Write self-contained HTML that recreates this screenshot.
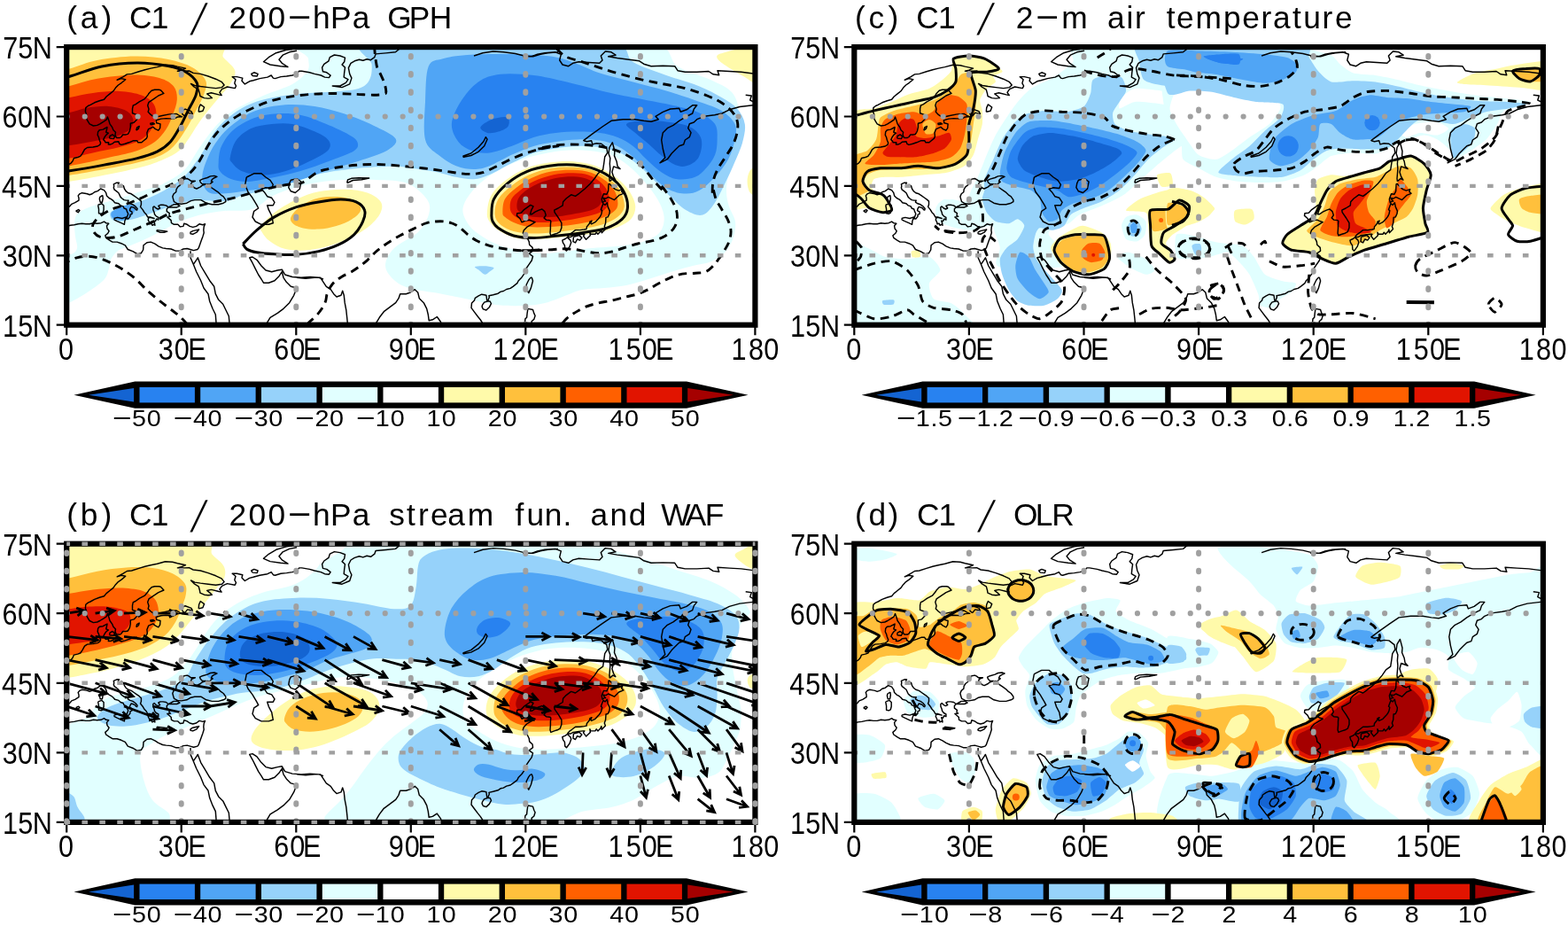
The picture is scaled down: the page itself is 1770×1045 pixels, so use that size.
<!DOCTYPE html>
<html lang="en">
<head>
<meta charset="utf-8">
<title>C1 composite anomalies</title>
<style>
html,body{margin:0;padding:0;background:#fff;overflow:hidden}
svg{display:block}
text{font-family:"Liberation Sans",sans-serif;fill:#000}
.gh{stroke:#a0a0a0;stroke-width:6.2;fill:none;stroke-linecap:round;stroke-dasharray:0.01 19.93;stroke-dashoffset:-0.6}
.gq{stroke:#a0a0a0;stroke-width:4.4;fill:none;stroke-dasharray:6.6 13.33;stroke-dashoffset:-17.2}
.gv{stroke:#a0a0a0;stroke-width:6;fill:none;stroke-linecap:round;stroke-dasharray:1.6 18.59;stroke-dashoffset:-9.8}
.cst{stroke:#000;stroke-width:1.45;fill:none;stroke-linejoin:round}
.sol{stroke:#000;stroke-width:3;fill:none;stroke-linejoin:round}
.dsh{stroke:#000;stroke-width:2.9;fill:none;stroke-dasharray:9.5 6.5}
</style>
</head>
<body>

<svg width="1770" height="1045" viewBox="0 0 1770 1045" role="img" aria-label="C1 composite anomaly maps">
<rect width="1770" height="1045" fill="#fff"/>
<defs>
<clipPath id="cla"><rect x="75.2" y="53.1" width="777.2" height="313.6"/></clipPath>
<clipPath id="clb"><rect x="75.2" y="613.7" width="777.2" height="314.2"/></clipPath>
<clipPath id="clc"><rect x="964.3" y="53.1" width="777.6" height="313.6"/></clipPath>
<clipPath id="cld"><rect x="964.3" y="613.7" width="777.6" height="314.2"/></clipPath>
<path id="coast" d="M68.3 185.9L70.5 186.9L75.6 186.4L79.9 184.3L82.1 181.7L83.4 178.5L87.7 177.5L90.7 176.4L92.9 173.3L95.5 168.6L98.5 166.5L105 166L110.2 165L112.8 163.4L113.6 161.3L112.3 158.2L111.5 155L110.2 152.4L110.6 148.7L112.3 146.7L116.2 146.1L121 143.5L120.5 146.1L119.7 149.3L122.3 150.3L119.7 152.4L117.9 155L116.7 157.6L117.9 158.7L119.2 160.8L122.7 160.8L122.3 162.9L124.9 162.9L127.4 161.8L129.2 160.2L133.9 159.7L134.8 162.3L136.9 163.4L141.3 162.3L145.6 160.8L150.8 158.7L154.6 158.7L155.9 160.8L159.8 160.8L161.6 159.2L165.4 156.1L166.3 154L165.9 149.8L167.6 145.6L172.8 143.3L175.4 145.6L178.8 147.2L180.6 144.6L181 139.9L176.7 138.8L176.2 135.7L181.8 134.1L187.5 133.6L196.1 134.1L200.4 132L205.6 131.8L202.6 130.5L199.1 128.4L191.3 128.9L183.1 130.5L174.5 132.5L170.2 129.4L167.2 126.3L168 123.1L166.7 119L168 115.3L173.6 111.6L178.8 108L184.9 105.4L181.4 101.7L179.3 101.2L174.5 101.2L171.1 102.2L168 105.4L167.2 106.9L163.3 111.6L157.2 114.8L152.9 117.9L150.3 119L149.5 122.6L149.5 127.8L154.2 129.4L156.8 132L154.2 135.2L151.2 138.3L147.3 139.3L147.3 143.5L146.4 147.7L145.6 149.3L144.3 151.4L142.1 151.9L138.7 151.9L136.9 154.5L135.2 155.5L131.8 155.5L130.9 154.5L130 151.9L130.5 149.3L127.9 146.7L126.6 143.5L124 139.9L123.1 136.7L121.4 132L120.1 135.2L117.1 137.2L112.8 139.9L109.7 141.4L105.4 142L101.1 139.9L99.4 137.2L97.7 134.1L97.7 129.4L96.4 125.8L96.8 121.6L99.4 119.5L102 118.4L106.7 115.8L112.3 113.7L117.5 112.2L120.1 109L124 105.9L127.9 102.8L130.5 99.1L133.5 96L137.4 93.3L141.7 89.7L136.9 88.6L132.2 90.2L139.1 86.6L143.4 83.9L148.6 83.4L156.8 80.8L163.7 78.7L170.2 77.1L177.5 75.6L186.6 73.2L194.8 73.7L200.4 75.1L209.5 77.1L204.7 79.2L200.4 80.3L208.2 80.3L213.4 80L218.1 82.4L226.3 83.4L235 86L243.6 89.2L250.1 92.3L253.1 96L250.5 98.6L243.6 99.6L235 98.6L226.3 97.5L219.8 96.5L215.5 94.4L219 98L224.2 101.2L225.5 105.9L225.9 108.5L230.6 110.6L235 111.1L239.3 110.6L237.1 108.5L233.7 105.9L238.4 104.8L247 106.9L250.1 107.5L247.9 104.3L250.5 100.7L256.5 98L265.2 99.6L266.5 97L264.8 93.9L266 89.7L262.2 86.6L267.3 86.6L273.8 88.1L273 91.3L276.4 94.9L281.6 91.8L285.9 90.7L293.2 88.6L301.9 87.1L306.2 85L308.4 88.1L310.5 88.6L317 86.6L323.5 86L329.9 85L334.3 83.9L337.7 80.3L340.7 80.3L349.4 81.8L355 83.4L362.3 85L366.6 87.1L371.4 87.6L373.1 85L368.8 81.8L364.5 80.8L363.6 76.1L365.8 72.4L371 68.8L372.3 64.6L377.4 62L383.9 63L389.5 65.1L388.7 69.8L386.1 73L389.5 76.1L388.7 81.8L388.2 87.1L393 89.7L390.4 93.3L383.9 97L375.3 97L386.1 98.6L394.7 94.9L396.9 88.1L394.7 83.4L393.4 76.6L396 71.4L400.3 68.8L405.5 67.2L409.8 68.3L414.1 66.7L418.5 67.7L422.8 64.6L424.1 60.9L435.7 59.9L446.5 58.8L450.8 55.2L459.5 51.5M208.6 131L211.6 127.3L217.3 128.4L216 125.8L209.1 123.1L204.7 125.2L206 128.9L208.6 131M224.2 126.3L228.9 125.2L230.6 121L226.3 117.9L224.6 121.6L224.2 126.3M153.8 147.2L156.4 145.1L157.2 142.5L154.6 144L153.8 147.2M170.2 140.9L174.5 139.9L172.8 138.8L169.8 139.3L170.2 140.9M123.6 156.1L128.3 156.6L129.6 154L127 151.9L124 153.5L123.6 156.1M285 85.5L290.2 86L291.1 83.4L286.8 81.8L283.7 83.4L285 85.5M330 55.5L323.3 56.3L311.7 59.7L303.3 64.7L297.5 69.7L305 73L316.7 74.7L325 75.5L318.3 71.3L315 67.2L319.2 62.2L326.7 58.8L335 57.2M535 63L545 59.7L556.7 58L568.3 58.8L581.7 60.5L591.7 63L601.7 63.8L610 61.3L618.3 59.7L630 58.8M590 63.8L600 63.8L606.7 61.3L615 59.7L626.7 58.8L633.3 61.3L631.7 68L635 73L641.7 74.7L646.7 71.3L653.3 69.7L665 70.5L676.7 71.3L680 68L678.3 63L683.3 58L690 58.8L695 62.2L686.7 63.8L696.7 65.5L710 67.2L721.7 68.8L726.7 72.2L735 74.7L748.3 74.3L761.7 74.7L765 79.7L773.3 81.3L786.7 81.3L800 80.5L805 83.8L811.7 84.7L810 79.7L823.3 80.5L836.7 81.3L850 83M522.5 176.3L531.7 173L540 166.3L545.8 159.7L548.3 154.7L550 157.2L546.7 164.7L540 171.3L531.7 175.5L523.3 177.2L522.5 176.3M391.7 206.3L392.5 203L396.7 201.3L405 200.7L416.7 201L408.3 202.7L398.3 203.5L394.2 205.5L391.7 206.3M658.3 158.8L668.3 151.3L680 143L690 136.3L703.3 134.7L716.7 134.7L726.7 136.3L735 137.2L743.3 134.7L740 131.3L748.3 126.3L756.7 123L766.7 122.2L768.3 126.3L775 123.8L781.7 118.8L786.7 118.8L783.3 123L781.7 128L775 131.3L766.7 136.3L760 141.3L753.3 144.7L748.3 149.7L746.7 158L748.3 168L750.8 178L745 183.8L753.3 179.7L758.3 173L763.3 168L766.7 164.7L771.7 163L773.3 158L778.3 154.7L780 149.7L776.7 144.7L778.3 139.7L783.3 138L786.7 134.7L795 131.3L806.7 129.7L815 128L823.3 123.8L835 120.5L850 118.8M841.7 107.2L848.3 108L846.7 113L850 114.7M70.9 245.4L76.1 242.3L73.9 238.6L76.5 234.5L79.1 232.4L80.8 230.3L84.7 228.7L89 226.1L89 223.5L88.2 220.9L89.9 218.8L92.5 217.7L95.9 218.3L98.5 218.8L101.1 219.8L104.1 218.8L106.7 216.7L110.2 215.6L113.6 213L117.5 214.6L119.7 217.7L120.5 220.9L123.1 223.5L126.1 225.1L127.9 226.6L129.6 228.7L133.9 229.8L136.1 231.9L139.1 232.9L140 235L142.6 236L143.4 238.6L144.7 241.3L143.4 244.9L143 246.7L144.7 247L146.9 244.4L146.9 242.3L149 241.3L149 239.2L146.4 237.6L146.9 235.5L148.2 233.4L149.9 233.9L152.5 235L153.4 236.6L154.6 237.1L155.1 235.5L152.9 232.9L149.9 230.8L146.9 229.8L144.3 228.2L145.1 226.1L142.6 226.1L140 225.6L137.8 224L136.1 222.4L133.9 217.7L131.3 215.6L129.2 214.1L128.3 212L128.7 209.9L128.3 207.8L131.8 206.2L134.4 206.2L133.5 207.8L133.9 210.4L135.6 210.9L136.9 208.3L139.5 209.9L140.4 213L142.1 215.6L144.7 217.7L148.2 218.8L151.2 220.9L154.2 223L157.2 225.1L159.4 227.1L159.4 230.8L158.5 233.4L161.1 236.6L162.9 239.7L165 241.8L166.7 244.9L169.3 244.9L174.1 246.5L169.3 245.4L167.6 246L167.2 248.1L168.5 250.7L168.9 252.8L171.1 252.2L171.9 254.3L173.6 253.3L174.9 254.3L174.5 251.7L173.6 249.1L175.4 249.6L176.7 247L178.8 248.1L178.8 245.4L176.2 243.9L174.5 241.8L174.1 239.7L172.8 236.6L172.8 233.9L174.1 232.9L176.2 235L178.4 236L180.6 235L178.8 232.4L181 231.3L184 231.3L187.5 231.9L190.1 233.9L188.3 235.8L188.3 238.6L191.3 240.7L190.9 243.4L192.6 244.4L188.8 244.9L193.1 248.6L193.5 251.7L196.5 253.3L200.8 253.3L203.4 255.9L206.9 255.4L207.8 252.2L211.2 253.3L214.2 255.4L217.7 256.4L221.6 255.4L225 252.8L228.9 253.8L231.5 252.8L230.2 255.9L229.8 259.6L230.2 262.7L228.9 266.9L227.2 271.6L225.9 275.2L224.2 279.9L222.9 281.5L218.6 282.6L214.7 281.5L211.2 280.5L206.9 281L203 283.1L198.3 283.1L193.1 281L187.5 280.5L183.6 279.9L178.8 277.8L174.9 275.2L170.2 273.1L165.9 273.7L162 276.8L161.6 282L159.4 285.7L155.1 286.7L149.9 283.6L144.3 281.5L141.3 276.8L136.9 274.7L132.2 273.1L127 273.1L123.6 271.1L119.7 268.4L118.8 265.8L121.8 263.2L123.1 260.6L121 258L120.5 254.8L122.7 252.2L119.7 251.7L117.5 250.1L114.1 251.7L109.7 252.2L105.4 251.7L101.1 252.8L96.8 252.8L92.5 252.2L88.2 252.8L83.8 253.8L79.5 254.3L75.2 255.4L70.9 256.9M190.1 233.9L193.9 233.9L199.6 233.9L203 232.4L200.4 230.8L196.1 230.8L193.1 232.4L190.5 233.7M128.7 246.5L132.6 245.4L137.8 246.5L142.6 244.9L140.8 249.6L140.4 253.3L136.9 251.7L132.2 249.6L129.2 248.1L128.7 246.5M110.6 231.3L114.9 229.8L117.1 231.9L117.1 236.6L116.2 240.2L114.1 241.3L111.5 240.7L111.5 236L110.6 231.3M115.8 220.4L116.2 224L115.4 228.2L113.2 228.2L112.3 224.5L112.8 222.4L115.8 220.4M177.1 259.6L181 260.1L185.3 260.6L188.8 261.1L185.3 262.2L181 262.2L177.1 260.9L177.1 259.6M214.7 262.2L217.7 260.6L222 259.6L224.6 259L222 262.2L217.7 264.3L215.1 263.7L214.7 262.2M85.6 238.1L88.6 236.6L89.9 237.6L88.2 239.7L85.6 238.1M200.4 229.8L196.5 227.7L195.7 225.1L194.8 221.9L196.1 218.8L198.7 216.7L199.1 213.6L200.8 210.9L203.4 208.9L205.6 205.2L207.8 202.1L211.2 201.5L213.4 202.6L215.5 204.2L220.3 204.2L216.4 205.7L215.5 207.8L219.4 212L222 213L226.3 210.9L228 209.4L232.8 207.8L228.5 207.8L226.3 205.7L225.5 203.6L228.5 202.1L234.1 200.5L237.5 198.9L241.9 198.4L244.9 199.4L241.4 201L239.3 202.6L238.4 204.7L240.1 205.2L238 206.8L236.7 208.3L234.1 207.8L233.7 209.4L236.3 210.4L238.4 211.5L243.6 215.1L246.6 217.2L249.2 219.8L252.2 221.9L254.8 225.6L254.8 227.7L252.2 229.2L246.6 230.8L239.3 230.8L232.8 229.2L226.8 225.6L219.8 225.6L215.5 226.6L210.8 229.2L204.7 230.3L200.4 229.8M278.3 200L276.7 208.3L280 216.7L285 223.3L290 231.7L291.7 235L286.7 238.3L285 245L288.3 250L295 253.3L303.3 253.3L308.3 251.7L306.7 243.3L303.3 236.7L301.7 231.7L308.3 231.7L310 228.3L306.7 223.3L301.7 221.7L298.3 216.7L295 213.3L300 211.7L306.7 212.5L308.3 208.3L305 203.3L300 200L295 195.8L286.7 195.8L278.3 200M326.7 206.7L328.3 203.3L335 201.7L340 205L338.3 213.3L333.3 217.5L328.3 215.8L325.8 211.7L326.7 206.7M215 283.3L215 290.8L218.3 298.3L221.7 293.3L223.3 290.8L226.7 300L231.7 308.3L236.7 316.7L241.7 323.3L243.3 331.7L246.7 338.3L251.7 343.3L255 350L258.3 356.7L259.2 366.7M218.3 298.3L221.7 306.7L226.7 316.7L230 325L235 331.7L236.7 340L240 348.3L243.3 355L244.2 366.7M300 366.7L305 358.3L313.3 353.3L320 348.3L326.7 341.7L331.7 333.3L335 325L328.3 323.3L323.3 318.3L320 313.3L318.3 306.7L315 311.7L310 316.7L303.3 319.2L297.5 319.2L295 315L291.7 310L288.3 303.3L285 296.7L281.7 290.8L285 290L290 293.3L295 300L300 305L306.7 306.7L313.3 305L318.3 304.2L321.7 310L330 312.5L340 313.3L350 312.5L360 313.3L365 315M335 313.3L345 314.2L355 313.3L361.7 313.3L365 318.3L368.3 323.3L373.3 326.7L376.7 331.7L380 335L385 333.3L386.7 328.3L388.3 333.3L389.2 341.7L390.8 350L391.7 358.3L392.5 366.7M423.3 366.7L428.3 358.3L433.3 351.7L440 346.7L446.7 341.7L450 336.7L451.7 331.7L458.3 331.7L463.3 330L468.3 326.7L471.7 330L473.3 336.7L478.3 341.7L481.7 348.3L483.3 355L484.2 361.7L488.3 360.8L493.3 357.5L497.5 363.3L498.3 366.7M545.4 369.3L545 365.1L542.4 361L539.4 357.3L535.5 352.1L532 347.4L532.5 342.1L535.5 339L536.3 336.4L540.2 333.8L543.7 332.2L546.7 332.7L548.9 333.2L549.7 339L551 339L552.3 335.3L551.9 333.8L556.6 332.7L562.2 331.2L565.3 329.1L568.3 328.5L571.7 326.5L576.1 325.4L579.1 323.3L583.8 319.7L585.1 317L589 312.9L591.6 309.2L593.3 304L596.8 298.8L600.2 294L601.5 289.3L597.2 286.2L601.5 283.1L601.1 279.4L597.7 276.3L597.2 272.6L594.6 267.4L590.3 263.2L591.2 260.1L594.6 256.4L599.8 253.3L604.1 250.7L599.8 249.1L597.7 248.1L593.3 249.1L589 250.7L586.9 246.5L583.4 243.4L583.8 240.7L588.2 240.2L591.6 236.6L596.8 232.9L598.9 231.3L602 232.9L599.8 237.1L598.5 241.8L600.2 241.8L604.1 239.2L608.4 237.1L611.9 236L614.9 238.6L616.2 242.8L614.1 246L616.6 248.1L621 248.6L621.8 249.6L621.4 253.8L621.4 257.5L621 263.2L621.8 265.8L625.7 264.3L629.2 263.2L632.2 261.6L633.9 256.9L633.9 251.7L630.5 246L626.1 239.7L625.7 237.1L630 235L635.2 231.9L635.6 227.7L639.1 224L644.7 219.8L649.5 221.4L653.8 218.3L660.3 213L666.3 207.3L671.1 201.5L675.4 195.3L680.6 191.6L681.8 183.8L682.7 177L685.7 172.3L684.9 167L678.8 162.3L673.2 161.8L668.9 162.9L667.6 158.7L662.4 159.7L659 158.7M688.3 204.7L687.9 201.5L688.3 196.8L688.8 190.6L688.3 184.8L688.8 178.5L687 173.3L687.9 166.5L691.3 160.8L692.6 165.5L693.9 170.7L693.5 175.9L696.1 182.2L697 187.4L700 190.6L692.6 187.9L690.9 194.2L692.6 199.4L694.8 203.1L691.8 201.5L688.3 204.7M682.7 226.6L680.1 228.7L679.3 224.5L681.4 218.8L684.9 219.3L686.6 215.6L687 207.8L687.9 207.3L690.5 209.9L694.4 213.6L698.3 215.1L702.6 213.6L701.7 216.2L703.9 218.3L698.7 220.4L693.5 225.6L686.6 222.4L684 224L681 223.5L681.8 225.1L683.6 227.1L682.7 226.6M640.4 267.4L642.6 264.8L645.6 262.7L649.5 259.6L654.6 259.6L659.4 259L662 258.5L662.4 255.9L665.4 252.2L665.9 250.1L668 249.1L666.7 251.7L667.6 252.8L671.9 250.7L675.4 247L677.5 244.4L678.8 241.8L679.7 237.6L678.4 236.6L679.7 232.9L681 229.8L683.1 231.3L685.3 228.7L685.7 230.8L686.2 233.4L688.3 238.1L687.9 241.3L686.2 244.9L684 245.4L683.6 251.7L682.3 255.4L683.4 258.5L679.3 262.7L678.8 259L678 261.1L674.9 264.3L673.2 262.2L671.9 264.3L666.7 264.3L665.9 262.2L666.3 265.8L661.6 270.3L658.5 266.3L659.8 264.3L658.1 264.3L653.4 264.8L646.9 265.8L644.3 267.4L640.4 267.4M640.4 267.9L643.9 271.1L644.7 273.7L643 278.4L639.5 283.1L637.8 281.5L637.4 276.8L635.6 274.2L634.8 271.1L638.2 269.5L640.4 267.9M647.3 267.4L653.8 265.6L656.8 268.4L654.6 271.1L651.6 270L649.5 273.9L646.9 272.6L647.3 269.5L647.3 267.4M600.2 312.9L601.5 317L599.4 324.9L596.8 330.6L594.2 325.9L594.2 321.2L596.8 316L598.5 313.9L600.2 312.9M544.5 344.2L546.7 341.1L550.2 340L553.2 340L554.5 342.7L552.3 346.8L548.9 350L545.4 348.9L544.1 346.3L544.5 344.2M593.8 369.3L592.5 364.1L592.9 359.9L594.6 358.3L595.1 353.6L595.9 348.4L601.5 349.5L602.8 353.6L604.1 356.2L602.8 360.4L600.2 362.5L599.8 369.3" class="cst"/>
</defs>
<g clip-path="url(#cla)">
<path d="M345 45C377 40.7 476.3 40 540 40C603.7 40 689.5 39.2 727 45C764.5 50.8 752.5 67.5 765 75C777.5 82.5 791.8 85.2 802 90C812.2 94.8 820.7 98.2 826 104C831.3 109.8 833 117.3 834 125C835 132.7 833 141.7 832 150C831 158.3 829.7 167 828 175C826.3 183 823.3 191 822 198C820.7 205 819.8 211.2 820 217C820.2 222.8 821.3 227.5 823 233C824.7 238.5 829.2 244.3 830 250C830.8 255.7 829.7 261.5 828 267C826.3 272.5 824.2 278.3 820 283C815.8 287.7 809.3 292.2 803 295C796.7 297.8 789.7 298 782 300C774.3 302 765.3 304.5 757 307C748.7 309.5 740.3 312.5 732 315C723.7 317.5 715.3 320.3 707 322C698.7 323.7 690.3 324.2 682 325C673.7 325.8 664 325.7 657 327C650 328.3 647 330.5 640 333C633 335.5 623.3 340 615 342C606.7 344 599.2 344.7 590 345C580.8 345.3 570 345.2 560 344C550 342.8 540.8 340.2 530 338C519.2 335.8 505.8 333 495 331C484.2 329 473.2 328.3 465 326C456.8 323.7 451 321.3 446 317C441 312.7 435.2 306.2 435 300C434.8 293.8 438.8 286.3 445 280C451.2 273.7 465.5 268.3 472 262C478.5 255.7 482.3 248.2 484 242C485.7 235.8 486 230.8 482 225C478 219.2 469.5 210.7 460 207C450.5 203.3 437.5 203.7 425 203C412.5 202.3 398 202.2 385 203C372 203.8 359.5 205.2 347 208C334.5 210.8 320.3 215.3 310 220C299.7 224.7 294.5 233 285 236C275.5 239 262.5 237 253 238C243.5 239 236.3 240 228 242C219.7 244 209.8 247.3 203 250C196.2 252.7 192.5 255.2 187 258C181.5 260.8 175 264.5 170 267C165 269.5 161.2 271.2 157 273C152.8 274.8 149 276.3 145 278C141 279.7 136.3 280.5 133 283C129.7 285.5 126.7 289.7 125 293C123.3 296.3 124.2 299.3 123 303C121.8 306.7 121.3 311 118 315C114.7 319 108.2 323.3 103 327C97.8 330.7 92.5 334 87 337C81.5 340 74.5 343.7 70 345C65.5 346.3 61.7 354.5 60 345C58.3 335.5 56.7 297.7 60 288C63.3 278.3 75.5 288.3 80 287C84.5 285.7 86.2 283.3 87 280C87.8 276.7 85.5 271.5 85 267C84.5 262.5 83.8 257 84 253C84.2 249 84.7 245.5 86 243C87.3 240.5 89.2 239.7 92 238C94.8 236.3 98.3 234.7 103 233C107.7 231.3 114.3 229.7 120 228C125.7 226.3 131.5 224.7 137 223C142.5 221.3 146.3 220.2 153 218C159.7 215.8 171.7 211.8 177 210C182.3 208.2 179.8 210 185 207C190.2 204 201.3 198.7 208 192C214.7 185.3 219.2 175.2 225 167C230.8 158.8 236.7 150 243 143C249.3 136 254 130.8 263 125C272 119.2 285.8 113 297 108C308.2 103 321.7 99.7 330 95C338.3 90.3 344 84.8 347 80C350 75.2 348.3 71.8 348 66C347.7 60.2 313 49.3 345 45Z" fill="#E1FFFF"/>
<path d="M522.4 237.3C522.4 231.5 525.7 225.6 529.9 219.8C534.1 214 540.3 207.7 547.4 202.3C554.5 196.9 563.2 191.7 572.4 187.3C581.5 183 591.9 179 602.3 176.1C612.7 173.2 624.4 170.9 634.8 169.9C645.2 168.8 655.6 169 664.7 169.9C673.9 170.7 682.2 171.9 689.7 174.8C697.2 177.8 703.5 182.3 709.7 187.3C715.9 192.3 721.8 198.6 727.2 204.8C732.6 211.1 738.4 218.1 742.2 224.8C745.9 231.5 749.2 238.5 749.6 244.8C750.1 251 748.4 257.7 744.7 262.2C740.9 266.8 734.3 269.7 727.2 272.2C720.1 274.7 712.6 275.9 702.2 277.2C691.8 278.6 675.2 279.2 664.7 280.2C654.3 281.3 648.1 282.5 639.8 283.5C631.5 284.4 623.1 286 614.8 286C606.5 286 598.2 284.9 589.8 283.5C581.5 282 572.4 279.9 564.9 277.2C557.4 274.5 550.7 271 544.9 267.2C539.1 263.5 533.6 259.8 529.9 254.8C526.2 249.8 522.4 243.1 522.4 237.3Z" fill="#FFFFFF"/>
<path d="M414.6 47.5C390.4 52.1 419.2 65.4 419.6 72.5C420 79.5 419.6 85.4 417.1 89.9C414.6 94.5 412.1 97.6 404.6 99.9C397.1 102.2 383.8 102.6 372.1 103.7C360.5 104.7 347.2 104.7 334.7 106.2C322.2 107.6 307.6 109.7 297.2 112.4C286.8 115.1 279.8 118.2 272.3 122.4C264.8 126.6 257.7 132.4 252.3 137.4C246.9 142.4 243.5 147 239.8 152.4C236.1 157.8 233.1 164.4 229.8 169.9C226.5 175.3 223.6 179.8 219.8 184.8C216.1 189.8 212.3 195.2 207.3 199.8C202.3 204.4 196.9 208.1 189.9 212.3C182.8 216.5 174 221 164.9 224.8C155.7 228.5 141.6 232.3 134.9 234.8C128.3 237.3 126.4 237.7 124.9 239.8C123.5 241.9 124.5 245.6 126.2 247.3C127.8 248.9 130.1 250 134.9 249.8C139.7 249.6 147.4 248.1 154.9 246C162.4 243.9 172.4 239.9 179.9 237.3C187.4 234.7 192.8 232.2 199.8 230.3C206.9 228.4 213.2 226.6 222.3 226C231.5 225.5 246.5 227.6 254.8 226.8C263.1 226 265.2 223 272.3 221C279.3 219 288.9 217.1 297.2 214.8C305.6 212.5 313.9 209.8 322.2 207.3C330.5 204.8 338.9 202 347.2 199.8C355.5 197.6 361.7 195.8 372.1 194.1C382.6 192.3 397.1 190.4 409.6 189.3C422.1 188.3 437.8 187.7 447.1 187.8C456.3 187.9 457.8 188.9 465 189.8C472.1 190.8 481.6 191.9 489.9 193.6C498.3 195.2 507.4 198.4 514.9 199.8C522.4 201.3 528.6 202.7 534.9 202.3C541.1 201.9 545.3 200.3 552.4 197.3C559.4 194.3 569 188.4 577.3 184.3C585.7 180.3 594 175.7 602.3 172.8C610.6 170 619 168.7 627.3 167.4C635.6 166 643.9 165.1 652.3 164.9C660.6 164.7 668.9 164.7 677.2 166.1C685.6 167.6 694.7 170 702.2 173.6C709.7 177.2 715.9 182.6 722.2 187.8C728.4 193 733.8 199.1 739.7 204.8C745.5 210.6 751.3 216.9 757.1 222.3C763 227.7 768.8 233.9 774.6 237.3C780.4 240.7 787.1 243.6 792.1 242.8C797.1 241.9 800.4 237.8 804.6 232.3C808.7 226.8 812.7 218.5 817.1 209.8C821.4 201.1 827.3 188.2 830.8 179.8C834.3 171.5 836.6 166.5 838.3 159.9C840 153.2 841.8 146.1 840.8 139.9C839.8 133.6 836.4 127.4 832.1 122.4C827.7 117.4 821.7 114.1 814.6 109.9C807.5 105.8 800 101.6 789.6 97.4C779.2 93.3 764.6 89.5 752.1 84.9C739.7 80.4 725.1 76.2 714.7 70C704.3 63.7 714.7 51.7 689.7 47.5C664.7 43.3 610.7 45 564.9 45C519 45 438.8 42.9 414.6 47.5Z" fill="#96D2FA"/>
<path d="M536.1 301.1C537.2 300.2 543.8 300.1 547.4 300.3C550.9 300.5 556.5 301.2 557.4 302.3C558.2 303.4 554 305.6 552.4 306.8C550.7 308 549.3 310 547.4 309.8C545.5 309.5 543 306.8 541.1 305.3C539.3 303.8 535.1 301.9 536.1 301.1Z" fill="#96D2FA"/>
<path d="M228.3 200C228.3 193.3 231.9 183.9 235 176.7C238.1 169.4 241.9 162.8 246.7 156.7C251.4 150.6 256.4 145.3 263.3 140C270.3 134.7 278.6 128.6 288.3 125C298.1 121.4 310.6 119.2 321.7 118.3C332.8 117.5 343.9 118.3 355 120C366.1 121.7 377.2 124.7 388.3 128.3C399.4 131.9 411.9 136.9 421.7 141.7C431.4 146.4 444.2 151.9 446.7 156.7C449.2 161.4 443.6 165.8 436.7 170C429.7 174.2 415.8 178.1 405 181.7C394.2 185.3 382.8 188.1 371.7 191.7C360.6 195.3 348.6 200 338.3 203.3C328.1 206.7 319.7 209.7 310 211.7C300.3 213.6 289.2 213.9 280 215C270.8 216.1 262.5 218.1 255 218.3C247.5 218.6 239.4 219.7 235 216.7C230.6 213.6 228.3 206.7 228.3 200Z" fill="#50A5F5"/>
<path d="M483.7 75C480.4 83.1 480.6 101.2 480 114.9C479.3 128.6 477.5 147.4 480 157.4C482.5 167.4 489.1 169.9 494.9 174.8C500.8 179.8 508.3 184.6 514.9 187.3C521.6 190 528.6 191.1 534.9 191.1C541.1 191.1 545.3 190 552.4 187.3C559.4 184.6 569 178.6 577.3 174.8C585.7 171.1 594 167.4 602.3 164.9C610.6 162.4 619 161.1 627.3 159.9C635.6 158.6 643.9 157.6 652.3 157.4C660.6 157.2 669.7 157.4 677.2 158.6C684.7 159.9 691 161.7 697.2 164.9C703.5 168 708.9 172.4 714.7 177.3C720.5 182.3 725.9 189 732.2 194.8C738.4 200.7 745.5 208.4 752.1 212.3C758.8 216.3 765.9 218.1 772.1 218.5C778.4 219 783.8 217.9 789.6 214.8C795.4 211.7 801.7 205.6 807.1 199.8C812.5 194 818.3 186.9 822.1 179.8C825.8 172.8 828.3 164 829.6 157.4C830.8 150.7 832.1 145.3 829.6 139.9C827.1 134.5 821.2 129.1 814.6 124.9C807.9 120.7 800 118.7 789.6 114.9C779.2 111.2 764.6 106.2 752.1 102.4C739.7 98.7 727.2 95.8 714.7 92.4C702.2 89.1 687.6 85.8 677.2 82.5C666.8 79.1 660.2 75.4 652.3 72.5C644.4 69.5 638.1 66.7 629.8 65C621.5 63.2 613.1 62.6 602.3 62C591.5 61.3 577.3 61 564.9 61C552.4 61 538.2 61.1 527.4 62C516.6 62.8 507.2 64.1 499.9 66.2C492.6 68.4 487 66.8 483.7 75Z" fill="#50A5F5"/>
<path d="M125.8 240C127.2 237.8 132.9 234.9 136.7 233.3C140.4 231.8 145.6 230.6 148.3 230.8C151.1 231.1 153.3 232.9 153.3 235C153.3 237.1 150.6 241.1 148.3 243.3C146.1 245.6 143.3 247.8 140 248.3C136.7 248.9 130.7 248.1 128.3 246.7C126 245.3 124.4 242.2 125.8 240Z" fill="#50A5F5"/>
<path d="M246.7 183.3C246.9 178.6 247.2 171.1 250 165C252.8 158.9 257.2 151.9 263.3 146.7C269.4 141.4 278.3 136.4 286.7 133.3C295 130.3 304.4 128.9 313.3 128.3C322.2 127.8 330.8 128.1 340 130C349.2 131.9 359.4 136.4 368.3 140C377.2 143.6 387.5 148.3 393.3 151.7C399.2 155 402.2 156.9 403.3 160C404.4 163.1 405.3 166.4 400 170C394.7 173.6 381.9 177.8 371.7 181.7C361.4 185.6 348.6 190.3 338.3 193.3C328.1 196.4 319.7 198.1 310 200C300.3 201.9 288.3 204.7 280 205C271.7 205.3 265.3 203.6 260 201.7C254.7 199.7 250.6 196.4 248.3 193.3C246.1 190.3 246.4 188.1 246.7 183.3Z" fill="#2882F0"/>
<path d="M509.9 139.9C510.3 132.4 514.9 122.8 519.9 114.9C524.9 107 532.4 97.6 539.9 92.4C547.4 87.2 554.5 84.9 564.9 83.7C575.3 82.5 589.8 83.5 602.3 84.9C614.8 86.4 625.2 89.1 639.8 92.4C654.3 95.8 675.2 101.6 689.7 104.9C704.3 108.3 714.7 109.9 727.2 112.4C739.7 114.9 754.2 117.4 764.6 119.9C775 122.4 782.5 124.1 789.6 127.4C796.7 130.7 803.8 134.9 807.1 139.9C810.4 144.9 809.6 151.5 809.6 157.4C809.6 163.2 809.2 169.4 807.1 174.8C805 180.3 800.8 185.7 797.1 189.8C793.4 194 790 197.7 784.6 199.8C779.2 201.9 770.9 203.1 764.6 202.3C758.4 201.5 753 198.6 747.2 194.8C741.3 191.1 735.1 184.8 729.7 179.8C724.3 174.8 720.1 169 714.7 164.9C709.3 160.7 703.5 157.4 697.2 154.9C691 152.4 684.7 150.9 677.2 149.9C669.7 148.8 660.6 148.6 652.3 148.6C643.9 148.6 635.6 148.8 627.3 149.9C619 150.9 610.6 152.4 602.3 154.9C594 157.4 585.7 161.9 577.3 164.9C569 167.8 559.9 171.5 552.4 172.4C544.9 173.2 538.2 171.9 532.4 169.9C526.6 167.8 521.2 164.9 517.4 159.9C513.7 154.9 509.5 147.4 509.9 139.9Z" fill="#2882F0"/>
<path d="M260 176.7C260.8 172.5 262.8 163.6 266.7 158.3C270.6 153.1 276.7 148.1 283.3 145C290 141.9 298.9 140.8 306.7 140C314.4 139.2 321.9 138.6 330 140C338.1 141.4 348.2 145.3 355 148.3C361.8 151.4 368.3 154.7 370.8 158.3C373.3 161.9 374 165.8 370 170C366 174.2 354.7 179.4 346.7 183.3C338.6 187.2 330 191 321.7 193.3C313.3 195.7 304.7 197.5 296.7 197.5C288.6 197.5 279.2 195.7 273.3 193.3C267.5 191 263.9 186.1 261.7 183.3C259.4 180.6 259.2 180.8 260 176.7Z" fill="#1464D2"/>
<path d="M542.4 143.6C543.2 141.1 549.9 136.8 554.9 134.9C559.9 133 569.2 131.1 572.4 132.4C575.5 133.6 575.3 139.7 573.6 142.4C571.9 145.1 566.3 147.4 562.4 148.6C558.4 149.9 553.2 150.7 549.9 149.9C546.5 149 541.6 146.1 542.4 143.6Z" fill="#1464D2"/>
<path d="M707.2 139.9C708.9 137.6 719.7 136.6 727.2 136.1C734.7 135.7 743.8 136.3 752.1 137.4C760.5 138.4 770.9 139.9 777.1 142.4C783.4 144.9 787.1 148.6 789.6 152.4C792.1 156.1 792.5 160.3 792.1 164.9C791.7 169.4 790 176.1 787.1 179.8C784.2 183.6 778.8 186.3 774.6 187.3C770.5 188.4 766.7 188 762.1 186.1C757.6 184.2 752.1 180 747.2 176.1C742.2 172.1 737.2 166.7 732.2 162.4C727.2 158 721.3 153.6 717.2 149.9C713 146.1 705.5 142.2 707.2 139.9Z" fill="#1464D2"/>
<path d="M55 40C85 12.9 201.9 40.8 234.8 45C267.7 49.2 247.2 59.1 252.3 65C257.4 70.8 264 75 265.3 80C266.5 84.9 262.8 89.9 259.8 94.9C256.8 99.9 251.5 104.9 247.3 109.9C243.1 114.9 238.8 119.9 234.8 124.9C230.8 129.9 227.3 134.5 223.6 139.9C219.8 145.3 215.9 152.4 212.3 157.4C208.8 162.4 206.9 166.1 202.3 169.9C197.8 173.6 191.9 176.7 184.9 179.8C177.8 183 170.3 185.8 159.9 188.6C149.5 191.4 136 194.1 122.4 196.8C108.9 199.5 90 203.1 78.7 204.8C67.5 206.6 59 234.8 55 207.3C51.1 179.8 25 67.1 55 40Z" fill="#FFFAAA"/>
<path d="M55 82.5C59 62.1 69.6 79.9 78.7 77.5C87.9 75 97.7 70.3 109.9 68C122.2 65.6 139.1 63.6 152.4 63.5C165.7 63.3 179 64.8 189.9 67C200.7 69.1 210.2 72.2 217.3 76.2C224.4 80.2 230.2 86 232.3 91.2C234.4 96.4 231.9 101.4 229.8 107.4C227.7 113.5 223.1 121 219.8 127.4C216.5 133.9 213.8 139.9 209.8 146.1C205.9 152.4 201.1 159.9 196.1 164.9C191.1 169.9 186.7 173 179.9 176.1C173 179.2 165.3 181.1 154.9 183.6C144.5 186.1 130.1 188.7 117.4 191.1C104.7 193.5 89.1 196.4 78.7 197.8C68.3 199.3 59 219 55 199.8C51.1 180.6 51.1 102.8 55 82.5Z" fill="#FFC03C"/>
<path d="M55 102.4C59 86.9 69.6 99.2 78.7 96.9C87.9 94.6 98.1 90.8 109.9 88.7C121.8 86.6 138.2 84.6 149.9 84.4C161.6 84.3 172.2 85.8 179.9 87.9C187.6 90.1 192.8 93.4 196.1 97.4C199.4 101.5 200 107 199.8 112.4C199.6 117.8 196.9 124.3 194.8 129.9C192.8 135.5 190.7 141.1 187.4 146.1C184 151.1 180.3 155.9 174.9 159.9C169.5 163.8 163.2 166.9 154.9 169.9C146.6 172.8 137.6 174.4 124.9 177.3C112.2 180.3 90.4 185.3 78.7 187.3C67.1 189.4 59 204 55 189.8C51.1 175.7 51.1 117.9 55 102.4Z" fill="#FF6000"/>
<path d="M55 114.9C59 103.1 70.4 111.6 78.7 109.9C87.1 108.3 95.6 106.1 104.9 104.9C114.3 103.8 125.8 102.5 134.9 102.9C144.1 103.3 153.4 105 159.9 107.4C166.3 109.8 170.9 113.3 173.6 117.4C176.3 121.6 176.7 127.4 176.1 132.4C175.5 137.4 173 143 169.9 147.4C166.8 151.7 163.2 155.5 157.4 158.6C151.6 161.7 143.7 163.8 134.9 166.1C126.2 168.4 114.3 170.3 104.9 172.4C95.6 174.4 87.1 177.1 78.7 178.6C70.4 180 59 191.7 55 181.1C51.1 170.5 51.1 126.8 55 114.9Z" fill="#E11400"/>
<path d="M55 131.1C59 124.6 71.7 128.4 78.7 126.9C85.8 125.4 90.2 123.1 97.5 121.9C104.7 120.7 114.9 119.4 122.4 119.9C129.9 120.4 137.7 122.4 142.4 124.9C147.1 127.4 149.6 131.5 150.4 134.9C151.1 138.3 149.7 142.4 146.9 145.4C144.1 148.4 139.8 150.7 133.7 152.9C127.5 155.1 119.1 156.7 109.9 158.6C100.8 160.5 87.9 162.9 78.7 164.1C69.6 165.4 59 171.6 55 166.1C51.1 160.6 51.1 137.7 55 131.1Z" fill="#A50000"/>
<path d="M294.7 254.9C297 251.1 303.1 244.9 309.7 239.9C316.4 234.9 326.4 228.8 334.7 224.9C343 220.9 350.5 218 359.7 216.2C368.8 214.3 380.5 213.4 389.6 213.7C398.8 213.9 407.9 215.1 414.6 217.4C421.3 219.7 427.1 223.6 429.6 227.4C432.1 231.1 431.7 235.3 429.6 239.9C427.5 244.5 422.5 250.3 417.1 254.9C411.7 259.4 404.6 263.6 397.1 267.3C389.6 271.1 380.5 274.8 372.1 277.3C363.8 279.8 355.5 281.7 347.2 282.3C338.9 283 329.3 282.7 322.2 281.1C315.1 279.4 309.1 275.5 304.7 272.3C300.4 269.2 297.6 265.3 296 262.4C294.3 259.4 292.4 258.6 294.7 254.9Z" fill="#FFFAAA"/>
<path d="M328.4 244.9C329.9 241.5 334.5 235.9 339.7 232.4C344.9 228.8 352.2 225.3 359.7 223.6C367.2 222 377.6 221.8 384.6 222.4C391.7 223 398.4 224.9 402.1 227.4C405.9 229.9 407.9 234 407.1 237.4C406.3 240.7 401.7 244.5 397.1 247.4C392.5 250.3 385.9 253 379.6 254.9C373.4 256.7 365.9 258.2 359.7 258.6C353.4 259 347 258.4 342.2 257.4C337.4 256.3 333.2 254.4 330.9 252.4C328.7 250.3 327 248.2 328.4 244.9Z" fill="#FFC03C"/>
<path d="M549.9 239.8C550.3 234.8 551.1 226 554.9 219.8C558.6 213.6 565.7 207.3 572.4 202.3C579 197.3 586.9 193 594.8 189.8C602.7 186.7 611.1 184.8 619.8 183.6C628.5 182.3 638.5 181.7 647.3 182.3C656 183 664.3 184.4 672.2 187.3C680.1 190.2 688.5 195.2 694.7 199.8C701 204.4 705.9 209.4 709.7 214.8C713.4 220.2 716.8 226.9 717.2 232.3C717.6 237.7 715.9 243.1 712.2 247.3C708.4 251.4 701.8 254.5 694.7 257.3C687.6 260 678.9 261.8 669.7 263.5C660.6 265.2 649.8 266.2 639.8 267.2C629.8 268.3 619.4 269.5 609.8 269.7C600.2 269.9 590.2 270.2 582.3 268.5C574.4 266.8 567.4 262.9 562.4 259.8C557.4 256.6 554.5 253.1 552.4 249.8C550.3 246.4 549.5 244.8 549.9 239.8Z" fill="#FFFAAA"/>
<path d="M558.6 242.3C558.2 237.5 559.2 230.2 562.4 224.8C565.5 219.4 571.5 214.4 577.3 209.8C583.2 205.2 589.8 200.7 597.3 197.3C604.8 194 614 191.3 622.3 189.8C630.6 188.4 639.4 188.2 647.3 188.6C655.2 189 662.7 189.8 669.7 192.3C676.8 194.8 684.5 199.4 689.7 203.6C694.9 207.7 698.5 212.3 701 217.3C703.5 222.3 705.3 229 704.7 233.5C704.1 238.1 701.4 241.4 697.2 244.8C693 248.1 686.8 251.2 679.7 253.5C672.7 255.8 663.9 257 654.8 258.5C645.6 260 633.9 261.4 624.8 262.2C615.6 263.1 607.3 263.7 599.8 263.5C592.3 263.3 585.7 262.7 579.8 261C574 259.3 568.4 256.6 564.9 253.5C561.3 250.4 559 247.1 558.6 242.3Z" fill="#FFC03C"/>
<path d="M567.4 239.8C567.4 236.4 567.4 229.4 569.9 224.8C572.4 220.2 577.3 216.3 582.3 212.3C587.3 208.4 593.2 204.2 599.8 201.1C606.5 197.9 614.4 195.1 622.3 193.6C630.2 192 639.8 191.6 647.3 191.8C654.8 192 661 192.7 667.2 194.8C673.5 197 680.1 201.1 684.7 204.8C689.3 208.6 692.6 212.7 694.7 217.3C696.8 221.9 698 228.3 697.2 232.3C696.4 236.2 693.9 238.3 689.7 241C685.6 243.7 679.3 246.4 672.2 248.5C665.2 250.6 656 252.3 647.3 253.5C638.5 254.8 628.1 255.6 619.8 256C611.5 256.4 604 256.8 597.3 256C590.7 255.2 584.4 252.9 579.8 251C575.3 249.1 571.9 246.6 569.9 244.8C567.8 242.9 567.4 243.1 567.4 239.8Z" fill="#FF6000"/>
<path d="M576.1 237.3C575.3 233.9 575.5 228.5 577.3 224.8C579.2 221 583.2 218.1 587.3 214.8C591.5 211.5 596.1 207.7 602.3 204.8C608.6 201.9 617.3 198.9 624.8 197.3C632.3 195.7 640.6 195.2 647.3 195.3C653.9 195.4 659.3 195.8 664.7 197.8C670.2 199.8 676 203.6 679.7 207.3C683.5 211 686.2 215.6 687.2 219.8C688.3 224 687.6 229 686 232.3C684.3 235.6 681.6 237.7 677.2 239.8C672.9 241.9 666 243.3 659.8 244.8C653.5 246.2 647.3 247.5 639.8 248.5C632.3 249.6 622.3 250.8 614.8 251C607.3 251.2 600.2 250.8 594.8 249.8C589.4 248.7 585.5 246.8 582.3 244.8C579.2 242.7 576.9 240.6 576.1 237.3Z" fill="#E11400"/>
<path d="M583.6 234.8C583.2 232.3 583.4 227.9 584.8 224.8C586.3 221.7 588.6 219 592.3 216.1C596.1 213.1 601.5 209.8 607.3 207.3C613.1 204.8 620.6 202.4 627.3 201.1C633.9 199.7 641.4 199.2 647.3 199.3C653.1 199.4 657.7 200.1 662.2 201.8C666.8 203.6 671.8 206.6 674.7 209.8C677.6 213 679.3 217.5 679.7 221C680.1 224.6 679.3 228.3 677.2 231C675.2 233.7 671.8 235.6 667.2 237.3C662.7 238.9 656 239.9 649.8 241C643.5 242.2 636.4 243.6 629.8 244.3C623.1 245 615.6 245.4 609.8 245.3C604 245.1 598.6 244.4 594.8 243.5C591.1 242.6 589.2 241.2 587.3 239.8C585.5 238.3 584 237.3 583.6 234.8Z" fill="#A50000"/>
<path d="M809.6 62.5C810.8 60.8 814.6 60.2 819.6 58.7C824.6 57.3 832.1 55.2 839.5 53.7C847 52.3 860.4 42.7 864.5 50C868.7 57.3 868.7 91.4 864.5 97.4C860.4 103.5 846.2 89.5 839.5 86.2C832.9 82.9 829.1 80.4 824.6 77.5C820 74.5 814.6 71.2 812.1 68.7C809.6 66.2 808.3 64.1 809.6 62.5Z" fill="#FFFAAA"/>
<path d="M844 199.8C844.9 196.1 846.1 191.9 849.5 189.8C852.9 187.7 862 181.5 864.5 187.3C867 193.2 867 219.4 864.5 224.8C862 230.2 852.9 221.9 849.5 219.8C846.2 217.7 845.5 215.6 844.5 212.3C843.6 209 843.2 203.6 844 199.8Z" fill="#FFFAAA"/>
</g>
<g clip-path="url(#cla)">
<use href="#coast" x="0" y="0"/>
<path d="M55 91.2C59 72.9 68.7 88.9 78.7 86.2C88.7 83.5 102.2 77.5 114.9 75C127.6 72.4 142.4 71 154.9 71C167.4 70.9 180.7 72.8 189.9 74.5C199 76.2 204.4 78 209.8 81.2C215.2 84.4 220.4 89.3 222.3 93.7C224.2 98.1 222.7 102.2 221.1 107.4C219.4 112.6 215.2 119.1 212.3 124.9C209.4 130.7 206.9 136.6 203.6 142.4C200.3 148.2 196.7 155.1 192.4 159.9C188 164.7 183.6 168 177.4 171.1C171.1 174.2 164.9 176.1 154.9 178.6C144.9 181.1 130.1 183.7 117.4 186.1C104.7 188.5 89.1 191.2 78.7 192.8C68.3 194.5 59 213 55 196.1C51.1 179.1 51.1 109.5 55 91.2Z" class="sol"/>
<path d="M554.9 242.3C555.1 238.1 554.5 230.6 557.4 224.8C560.3 219 566.1 212.5 572.4 207.3C578.6 202.1 586.9 196.9 594.8 193.6C602.7 190.2 611.1 188.6 619.8 187.3C628.5 186.1 638.5 185.5 647.3 186.1C656 186.7 664.7 188.4 672.2 191.1C679.7 193.8 686.8 197.9 692.2 202.3C697.6 206.7 702 211.9 704.7 217.3C707.4 222.7 708.9 229.8 708.4 234.8C708 239.8 706.2 243.5 702.2 247.3C698.2 251 691.8 254.8 684.7 257.3C677.6 259.8 668.9 260.8 659.8 262.2C650.6 263.7 639.4 265 629.8 266C620.2 267 610.6 268.5 602.3 268.5C594 268.5 586.5 267.9 579.8 266C573.2 264.1 566.3 260 562.4 257.3C558.4 254.5 557.4 252.3 556.1 249.8C554.9 247.3 554.7 246.4 554.9 242.3Z" class="sol"/>
<path d="M274.3 275.3C276.8 272.8 283.8 264.9 289.7 259.9C295.7 254.8 302.2 249.2 309.7 244.9C317.2 240.5 326.4 236.5 334.7 233.6C343 230.8 351.3 229.3 359.7 227.9C368 226.4 377.6 224.9 384.6 224.9C391.7 224.9 397.6 225.8 402.1 227.9C406.6 230 410.4 233.7 411.6 237.4C412.9 241 411.6 245.3 409.6 249.9C407.6 254.4 404.2 260.5 399.6 264.8C395 269.2 388.8 273 382.1 276.1C375.5 279.2 367.6 281.7 359.7 283.6C351.8 285.4 343 286.8 334.7 287.3C326.4 287.9 317.2 287.2 309.7 286.8C302.2 286.4 294.9 285.8 289.7 284.8C284.5 283.9 281.1 282.7 278.5 281.1C275.9 279.5 275 276.3 274.3 275.3" class="sol"/>
<path d="M422.5 51.3C422.6 53 423.1 58.6 423.3 61.3C423.6 64.1 423.8 65.5 424.2 68C424.6 70.5 424.9 73.6 425.8 76.3C426.8 79.1 428.6 81.6 430 84.7C431.4 87.7 433.2 91.5 434.2 94.7C435.1 97.9 436 101.9 435.8 103.8C435.7 105.8 435.7 105.8 433.3 106.3C431 106.9 426.9 107.2 421.7 107.2C416.4 107.2 409.2 106.6 401.7 106.3C394.2 106.1 385 105.5 376.7 105.5C368.3 105.5 358.6 105.9 351.7 106.3C344.7 106.8 340.3 107.3 335 108C329.7 108.7 325.3 109.4 320 110.5C314.7 111.6 308.9 112.9 303.3 114.7C297.8 116.5 292.2 118.8 286.7 121.3C281.1 123.8 275 126.8 270 129.7C265 132.6 260.8 135.5 256.7 138.8C252.5 142.2 248.3 145.9 245 149.7C241.7 153.4 239.2 157.4 236.7 161.3C234.2 165.2 232.2 169.1 230 173C227.8 176.9 225.8 181.1 223.3 184.7C220.8 188.3 218.3 191.6 215 194.7C211.7 197.7 207.5 200.5 203.3 203C199.2 205.5 194.4 207.7 190 209.7C185.6 211.6 181.1 212.7 176.7 214.7C172.2 216.7 167.8 219.5 163.3 221.7C158.9 223.8 154.4 225.7 150 227.5C145.6 229.3 141.1 230.8 136.7 232.5C132.2 234.2 127.5 235.4 123.3 237.5C119.2 239.6 114.7 242.4 111.7 245C108.6 247.6 106 250.6 105 253.3C104 256.1 104.4 259.3 105.8 261.7C107.2 264 110.1 266.4 113.3 267.5C116.5 268.6 121.1 268.6 125 268.3C128.9 268.1 132.5 267.2 136.7 265.8C140.8 264.4 145.6 261.9 150 260C154.4 258.1 158.9 256.1 163.3 254.2C167.8 252.2 172.2 250.4 176.7 248.3C181.1 246.2 185.6 243.5 190 241.7C194.4 239.9 198.9 238.8 203.3 237.5C207.8 236.2 212.2 235.3 216.7 234.2C221.1 233.1 225.6 231.9 230 230.8C234.4 229.7 238.9 228.5 243.3 227.5C247.8 226.5 252.2 226 256.7 225C261.1 224 265.3 222.9 270 221.7C274.7 220.4 280 218.9 285 217.5C290 216.1 295 214.6 300 213.3C305 212.1 310 211 315 210C320 209 325.6 208.2 330 207.5C334.4 206.8 336.9 208.2 341.7 206C346.4 203.8 352.5 197.1 358.3 194.3C364.2 191.6 369.4 191 376.7 189.7C383.9 188.3 393.3 187 401.7 186.3C410 185.6 418.3 185.4 426.7 185.5C435 185.6 443.3 186.5 451.7 187.2C460 187.9 468.3 188.7 476.7 189.7C485 190.6 494.7 192 501.7 193C508.6 194 513.3 194.9 518.3 195.5C523.3 196.1 527.2 196.5 531.7 196.3C536.1 196.2 540.3 196.1 545 194.7C549.7 193.3 554.7 190.5 560 188C565.3 185.5 571.1 182.2 576.7 179.7C582.2 177.2 587.8 174.9 593.3 173C598.9 171.1 603.9 169.4 610 168C616.1 166.6 630.6 164.7 630 164.7C629.4 164.7 607.8 168 606.7 168C605.6 168 617.8 165.5 623.3 164.7C628.9 163.8 634.4 163.2 640 163C645.6 162.8 651.1 163.1 656.7 163.3C662.2 163.6 667.8 163.9 673.3 164.7C678.9 165.4 685 166.6 690 168C695 169.4 699.2 171.1 703.3 173C707.5 174.9 711.4 177.2 715 179.7C718.6 182.2 721.9 184.9 725 188C728.1 191.1 730.8 194.9 733.3 198C735.8 201.1 737.5 203.6 740 206.3C742.5 209.1 747.2 214.1 748.3 214.7C749.4 215.3 745.3 208.6 746.7 210C748.1 211.4 753.9 218.9 756.7 223.3C759.4 227.8 762.1 232.5 763.3 236.7C764.6 240.8 764.7 244.7 764.2 248.3C763.6 251.9 762.4 255.3 760 258.3C757.6 261.4 753.9 264.4 750 266.7C746.1 268.9 741.7 270.3 736.7 271.7C731.7 273.1 725.6 273.6 720 275C714.4 276.4 708.3 278.5 703.3 280C698.3 281.5 694.4 283.2 690 284.2C685.6 285.1 681.1 285.8 676.7 285.8C672.2 285.8 667.8 284.9 663.3 284.2C658.9 283.5 654.4 282.2 650 281.7C645.6 281.1 641.1 280.8 636.7 280.8C632.2 280.8 628.3 281.4 623.3 281.7C618.3 281.9 612.2 282.3 606.7 282.5C601.1 282.7 589.4 282.9 590 282.8C590.6 282.8 609.4 282 610 282C610.6 282 598.9 282.9 593.3 282.8C587.8 282.8 582.2 282.3 576.7 281.7C571.1 281.1 564.7 280.1 560 279.2C555.3 278.2 551.9 277.1 548.3 275.8C544.7 274.6 541.7 273.5 538.3 271.7C535 269.9 531.4 267.4 528.3 265C525.3 262.6 522.8 259.6 520 257.5C517.2 255.4 514.7 253.8 511.7 252.5C508.6 251.2 505 250.4 501.7 250C498.3 249.6 495 249.7 491.7 250C488.3 250.3 485 250.7 481.7 251.7C478.3 252.6 475 254.3 471.7 255.8C468.3 257.4 465 259.2 461.7 260.8C458.3 262.5 455 264 451.7 265.8C448.3 267.6 445 269.6 441.7 271.7C438.3 273.8 434.7 276.1 431.7 278.3C428.6 280.6 426.1 282.5 423.3 285C420.6 287.5 417.8 290.8 415 293.3C412.2 295.8 409.7 297.8 406.7 300C403.6 302.2 400 304.7 396.7 306.7C393.3 308.6 389.7 309.9 386.7 311.7C383.6 313.5 380.6 315.6 378.3 317.5C376.1 319.4 374.9 321 373.3 323.3C371.8 325.7 370.1 328.9 369.2 331.7C368.2 334.4 368.5 337.2 367.5 340C366.5 342.8 365.1 345.6 363.3 348.3C361.5 351.1 359.2 354 356.7 356.7C354.2 359.3 350.6 361.9 348.3 364.2C346.1 366.4 344.2 369 343.3 370" class="dsh"/>
<path d="M628.3 54.7C630 56.2 633.6 61.3 638.3 63.8C643.1 66.3 650.3 67.6 656.7 69.7C663.1 71.8 669.7 74.1 676.7 76.3C683.6 78.6 690.6 80.8 698.3 83C706.1 85.2 715 87.7 723.3 89.7C731.7 91.6 740 93 748.3 94.7C756.7 96.3 765 97.4 773.3 99.7C781.7 101.9 791.4 105.2 798.3 108C805.3 110.8 810.3 113.3 815 116.3C819.7 119.4 823.8 122.7 826.7 126.3C829.6 129.9 831.7 133.8 832.5 138C833.3 142.2 832.6 146.9 831.7 151.3C830.7 155.8 828.9 160.2 826.7 164.7C824.4 169.1 821.1 173.6 818.3 178C815.6 182.4 812.2 186.9 810 191.3C807.8 195.8 806 200.2 805 204.7C804 209.1 804.2 216.6 804.2 218C804.2 219.4 804.3 212.2 805 213.3C805.7 214.5 806.7 221.1 808.3 225C810 228.9 812.8 232.8 815 236.7C817.2 240.6 820 244.4 821.7 248.3C823.3 252.2 824.7 256.1 825 260C825.3 263.9 824.4 268.1 823.3 271.7C822.2 275.3 820.3 278.3 818.3 281.7C816.4 285 813.9 288.6 811.7 291.7C809.4 294.7 807.5 297.5 805 300C802.5 302.5 800 305.3 796.7 306.7C793.3 308.1 789.4 307.9 785 308.3C780.6 308.8 774.7 308.3 770 309.2C765.3 310 761.1 311.5 756.7 313.3C752.2 315.1 747.5 317.8 743.3 320C739.2 322.2 735.6 324.7 731.7 326.7C727.8 328.6 724.2 330.3 720 331.7C715.8 333.1 711.7 333.8 706.7 335C701.7 336.2 695.6 337.9 690 339.2C684.4 340.4 678.3 341.2 673.3 342.5C668.3 343.8 664.2 344.9 660 346.7C655.8 348.5 651.7 351.3 648.3 353.3C645 355.4 642.5 356.9 640 359.2C637.5 361.4 634.4 365.4 633.3 366.7" class="dsh"/>
<path d="M70 298.3C70.9 297.9 72.4 297.1 75.2 295.8C77.9 294.6 82.5 291.9 86.7 290.8C90.8 289.7 95.6 289 100 289.2C104.4 289.3 108.9 290.3 113.3 291.7C117.8 293.1 122.2 295.3 126.7 297.5C131.1 299.7 135.6 302.1 140 305C144.4 307.9 149.2 311.4 153.3 315C157.5 318.6 161.1 323.1 165 326.7C168.9 330.3 172.8 333.5 176.7 336.7C180.6 339.9 184.7 343.1 188.3 345.8C191.9 348.6 195.3 350.8 198.3 353.3C201.4 355.8 204.2 358.3 206.7 360.8C209.2 363.3 212.2 367.1 213.3 368.3" class="dsh"/>
<path d="M75.2 131.5H852.4" class="gh"/><path d="M75.2 209.9H852.4M75.2 288.3H852.4" class="gq"/><path d="M204.7 53.1V366.7M334.3 53.1V366.7M463.8 53.1V366.7M593.3 53.1V366.7M722.9 53.1V366.7" class="gv"/>
</g>
<rect x="75.2" y="53.1" width="777.2" height="313.6" fill="none" stroke="#000" stroke-width="6.2"/>
<path d="M63.7 53.1H75.2M63.7 131.5H75.2M63.7 209.9H75.2M63.7 288.3H75.2M63.7 366.7H75.2M75.2 366.7V378.2M204.7 366.7V378.2M334.3 366.7V378.2M463.8 366.7V378.2M593.3 366.7V378.2M722.9 366.7V378.2M852.4 366.7V378.2" stroke="#000" stroke-width="2.2" fill="none"/>
<text transform="translate(0 66) scale(0.875 1)" font-size="35"><tspan x="3.7 23.1 42" y="0">75N</tspan></text>
<text transform="translate(0 144.4) scale(0.875 1)" font-size="35"><tspan x="3 23 42" y="0">60N</tspan></text>
<text transform="translate(0 222.8) scale(0.875 1)" font-size="35"><tspan x="2.4 23.1 42" y="0">45N</tspan></text>
<text transform="translate(0 301.2) scale(0.875 1)" font-size="35"><tspan x="3.2 23 42" y="0">30N</tspan></text>
<text transform="translate(0 379.6) scale(0.875 1)" font-size="35"><tspan x="3.4 23.1 42" y="0">15N</tspan></text>
<text transform="translate(0 406.2) scale(0.875 1)" font-size="35"><tspan x="75.5" y="0">0</tspan></text>
<text transform="translate(0 406.2) scale(0.875 1)" font-size="35"><tspan x="204.4 224.9 242.6" y="0">30E</tspan></text>
<text transform="translate(0 406.2) scale(0.875 1)" font-size="35"><tspan x="353.4 374 390.8" y="0">60E</tspan></text>
<text transform="translate(0 406.2) scale(0.875 1)" font-size="35"><tspan x="501.4 522 538.9" y="0">90E</tspan></text>
<text transform="translate(0 406.2) scale(0.875 1)" font-size="35"><tspan x="636.1 659.3 679.8 697.4" y="0">120E</tspan></text>
<text transform="translate(0 406.2) scale(0.875 1)" font-size="35"><tspan x="784.7 807.7 828.4 845.7" y="0">150E</tspan></text>
<text transform="translate(0 406.2) scale(0.875 1)" font-size="35"><tspan x="943.5 965.7 985.5" y="0">180</tspan></text>
<g clip-path="url(#clb)">
<rect x="70" y="608" width="790" height="326" fill="#E1FFFF"/>
<path d="M55 601C107.4 566.5 318.9 599.8 369.6 606C420.4 612.2 365.5 629.7 359.7 638.5C353.8 647.2 345.1 653.4 334.7 658.4C324.3 663.4 307.6 665.1 297.2 668.4C286.8 671.8 280.2 674.3 272.3 678.4C264.4 682.6 256 688 249.8 693.4C243.5 698.8 239.4 704.6 234.8 710.9C230.2 717.1 226.5 724.6 222.3 730.9C218.2 737.1 214.4 742.9 209.8 748.3C205.3 753.7 201.1 759.2 194.8 763.3C188.6 767.5 180.3 770.4 172.4 773.3C164.5 776.2 155.7 778.5 147.4 780.8C139.1 783.1 129.1 784.1 122.4 787C115.8 790 111.2 794.7 107.4 798.3C103.7 801.8 103.7 805.8 100 808.3C96.2 810.8 92.5 812.4 85 813.3C77.5 814.1 60 848.6 55 813.3C50 777.9 2.6 635.5 55 601Z" fill="#FFFFFF"/>
<path d="M158.6 850.8C160.3 843.7 167.2 842.1 172.4 838.3C177.6 834.6 183.6 831.3 189.9 828.3C196.1 825.4 203.2 823.6 209.8 820.9C216.5 818.1 223.1 815 229.8 812.1C236.5 809.2 242.7 806.5 249.8 803.4C256.9 800.3 264.4 796.5 272.3 793.4C280.2 790.3 288.9 787.1 297.2 784.6C305.6 782.1 313.9 780.5 322.2 778.4C330.5 776.3 338.9 774.2 347.2 772.2C355.5 770.1 363.8 767.4 372.1 765.9C380.5 764.5 388.8 763.4 397.1 763.4C405.4 763.4 413.8 764.7 422.1 765.9C430.4 767.2 439.2 768.8 447.1 770.9C455 773 463.7 775.1 469.5 778.4C475.4 781.7 480.4 786.7 482 790.9C483.7 795 482.4 799.2 479.5 803.4C476.6 807.5 470.4 811.3 464.5 815.9C458.7 820.4 450.8 825.4 444.6 830.8C438.3 836.3 432.9 841.7 427.1 848.3C421.3 855 414.6 864.1 409.6 870.8C404.6 877.5 401.3 882.9 397.1 888.3C393 893.7 389.6 897.8 384.6 903.3C379.6 908.7 372.1 914.9 367.2 920.7C362.2 926.6 380.9 935.3 354.7 938.2C328.4 941.1 237.3 941.8 209.8 938.2C182.4 934.7 196.1 922.8 189.9 917C183.6 911.2 177 909.3 172.4 903.3C167.8 897.2 164.7 889.5 162.4 880.8C160.1 872 157 857.9 158.6 850.8Z" fill="#FFFFFF"/>
<path d="M522.4 800.8C522.4 795.4 524.1 789.1 527.4 783.3C530.7 777.5 536.1 771.2 542.4 765.8C548.6 760.4 557 755.2 564.9 750.8C572.8 746.5 580.7 742.7 589.8 739.6C599 736.5 609.4 733.6 619.8 732.1C630.2 730.6 642.3 730.4 652.3 730.9C662.2 731.3 671.4 732.3 679.7 734.6C688.1 736.9 695.1 740.2 702.2 744.6C709.3 749 716.4 754.8 722.2 760.8C728 766.9 733.4 774.1 737.2 780.8C740.9 787.5 744.2 794.5 744.7 800.8C745.1 807 743.4 813.3 739.7 818.3C735.9 823.2 729.3 827.4 722.2 830.7C715.1 834.1 705.9 836.4 697.2 838.2C688.5 840.1 679.3 840.9 669.7 842C660.2 843 648.9 843.9 639.8 844.5C630.6 845.1 623.1 845.7 614.8 845.7C606.5 845.7 598.2 845.7 589.8 844.5C581.5 843.2 572.4 840.9 564.9 838.2C557.4 835.5 551.1 832 544.9 828.2C538.6 824.5 531.1 820.3 527.4 815.8C523.7 811.2 522.4 806.2 522.4 800.8Z" fill="#FFFFFF"/>
<path d="M664.7 606C633.5 608.3 679.3 615.6 689.7 619.7C700.1 623.9 714.7 627 727.2 631C739.7 634.9 752.1 639.3 764.6 643.5C777.1 647.6 791.3 651.4 802.1 655.9C812.9 660.5 822.5 665.9 829.6 670.9C836.6 675.9 841.2 680.1 844.5 685.9C847.9 691.7 849.3 698.4 849.5 705.9C849.7 713.4 847.5 723.4 845.8 730.9C844.1 738.3 841 743.3 839.5 750.8C838.1 758.3 837.1 767.5 837.1 775.8C837.1 784.1 838.7 792.5 839.5 800.8C840.4 809.1 835.8 821.6 842 825.7C848.3 829.9 871.2 862.4 877 825.7C882.8 789.1 912.4 642.6 877 606C841.6 569.4 696 603.7 664.7 606Z" fill="#FFFFFF"/>
<path d="M600 950C566.7 947.9 615.8 937 620 934C624.2 931 626.8 930.1 631.7 927.7C636.6 925.3 648.9 918.2 656.7 916C664.5 913.8 682.2 912.8 690 911C697.8 909.2 708.3 905.8 715 902.7C721.7 899.6 733.3 891.3 740 887.7C746.7 884.1 758.3 877.3 765 876C771.7 874.7 784.7 878.1 790 878C795.3 877.9 801.7 876.4 805 875C808.3 873.6 812.1 871.8 815 867.7C817.9 863.6 824 850.1 826.7 844.3C829.4 838.5 833.7 829.8 835 824.3C836.3 818.8 837.1 808.9 836.7 802.7C836.3 796.5 832.8 783.3 831.7 777.7C830.6 772.1 829.1 766 828.3 761C827.5 756 825.8 745.5 826 740C826.2 734.5 828.1 725.3 830 720C831.9 714.7 834.7 704 840 700C845.3 696 866 656.7 870 690C874 723.3 906 915.3 870 950C834 984.7 633.3 952.1 600 950Z" fill="#FFFFFF"/>
<path d="M212.3 760.8C215.2 756.7 216.1 752.1 219.8 745.8C223.6 739.6 229.4 730.4 234.8 723.4C240.2 716.3 246 709.2 252.3 703.4C258.5 697.6 264.8 692.6 272.3 688.4C279.8 684.2 286.8 680.7 297.2 678.4C307.6 676.1 322.2 675.1 334.7 674.7C347.2 674.3 359.7 674.9 372.1 675.9C384.6 677 397.5 679 409.6 680.9C421.7 682.8 435.6 686.7 444.6 687.2C453.5 687.6 459.1 687.4 463.3 683.4C467.5 679.5 468.1 670.9 469.5 663.4C471 655.9 470.7 644.3 472 638.5C473.4 632.6 474.1 631.3 477.5 628.5C480.9 625.6 486.2 623.1 492.4 621.5C498.7 619.8 504.9 618.8 514.9 618.5C524.9 618.2 539.9 618.7 552.4 619.7C564.9 620.8 577.3 622.6 589.8 624.7C602.3 626.8 614.8 629.5 627.3 632.2C639.8 634.9 652.3 637.8 664.7 641C677.2 644.1 689.7 647.6 702.2 650.9C714.7 654.3 727.2 657.6 739.7 660.9C752.1 664.3 765.5 667.6 777.1 670.9C788.8 674.3 800.8 677.2 809.6 680.9C818.3 684.7 825.4 688.8 829.6 693.4C833.7 698 834.6 703 834.6 708.4C834.6 713.8 832.1 719.6 829.6 725.9C827.1 732.1 822.9 739.2 819.6 745.8C816.2 752.5 811.2 759.2 809.6 765.8C807.9 772.5 810 779.1 809.6 785.8C809.2 792.5 809.2 799.9 807.1 805.8C805 811.6 801.3 817.4 797.1 820.8C792.9 824.1 787.5 826.6 782.1 825.7C776.7 824.9 770 820.3 764.6 815.8C759.2 811.2 754.2 804.9 749.6 798.3C745.1 791.6 741.3 782.9 737.2 775.8C733 768.7 729.3 762.1 724.7 755.8C720.1 749.6 715.5 742.9 709.7 738.3C703.9 733.8 697.2 730.6 689.7 728.4C682.2 726.1 673.1 725.2 664.7 724.6C656.4 724 648.1 724.2 639.8 724.6C631.5 725 622.3 725.9 614.8 727.1C607.3 728.4 601.5 729.4 594.8 732.1C588.2 734.8 581.1 739.4 574.8 743.3C568.6 747.3 563.2 752.5 557.4 755.8C551.5 759.2 546.1 762.1 539.9 763.3C533.6 764.6 526.2 764.6 519.9 763.3C513.7 762.1 508.3 758.2 502.4 755.8C496.6 753.4 491.2 750.7 484.9 748.8C478.7 747 471.2 745.4 465 744.6C458.7 743.8 454.6 744 447.5 743.8C440.3 743.6 430.5 742.6 422.1 743.3C413.7 744.1 405.4 746.3 397.1 748.3C388.8 750.4 380.5 752.9 372.1 755.8C363.8 758.7 355.5 762.7 347.2 765.8C338.9 768.9 330.5 772.3 322.2 774.6C313.9 776.8 305.6 778.3 297.2 779.5C288.9 780.8 279.3 781 272.3 782C265.2 783.1 261 784.3 254.8 785.8C248.5 787.2 241.5 788.7 234.8 790.8C228.1 792.9 222.3 795.4 214.8 798.3C207.3 801.2 198.2 805.4 189.9 808.3C181.5 811.2 172.8 813.9 164.9 815.8C157 817.6 149.5 819.1 142.4 819.5C135.3 819.9 127.8 819.7 122.4 818.3C117 816.8 110.8 813.7 109.9 810.8C109.1 807.8 113.3 803.7 117.4 800.8C121.6 797.9 127.8 795.8 134.9 793.3C142 790.8 151.6 788.3 159.9 785.8C168.2 783.3 177.8 780.8 184.9 778.3C191.9 775.8 197.8 773.7 202.3 770.8C206.9 767.9 209.4 765 212.3 760.8Z" fill="#96D2FA"/>
<path d="M450 859.3C449.4 856 449.2 852.1 451.7 847.7C454.2 843.2 460 837.1 465 832.7C470 828.2 476.4 823.6 481.7 821C486.9 818.4 491.9 816.6 496.7 816.8C501.4 817.1 505 819.8 510 822.7C515 825.6 521.1 831 526.7 834.3C532.2 837.7 537.8 840.7 543.3 842.7C548.9 844.6 554.4 844.6 560 846C565.6 847.4 569.7 850 576.7 851C583.6 852 592.8 852.1 601.7 851.8C610.6 851.6 623.6 849.6 630 849.3C636.4 849.1 636.1 849.1 640 850.2C643.9 851.3 650 853.1 653.3 856C656.7 858.9 660 864.1 660 867.7C660 871.3 656.7 874.3 653.3 877.7C650 881 645 884.3 640 887.7C635 891 628.9 894.9 623.3 897.7C617.8 900.4 612.2 902.8 606.7 904.3C601.1 905.9 596.4 906.3 590 906.8C583.6 907.4 576.1 908.4 568.3 907.7C560.6 907 551.7 904.6 543.3 902.7C535 900.7 526.7 898.5 518.3 896C510 893.5 501.7 891 493.3 887.7C485 884.3 474.7 879.3 468.3 876C461.9 872.7 458.1 870.4 455 867.7C451.9 864.9 450.6 862.7 450 859.3Z" fill="#96D2FA"/>
<path d="M690 872.7C690 869.5 694.2 861.6 698.3 857.7C702.5 853.8 708.9 851.4 715 849.3C721.1 847.2 729.2 845.2 735 845.2C740.8 845.2 748.3 847 750 849.3C751.7 851.7 748.1 856 745 859.3C741.9 862.7 736.7 866.6 731.7 869.3C726.7 872.1 720.6 874.8 715 876C709.4 877.2 702.5 877.4 698.3 876.8C694.2 876.3 690 875.9 690 872.7Z" fill="#96D2FA"/>
<path d="M70 895.8C72.1 890.4 79.6 895.8 82.5 898.3C85.4 900.8 85.4 906.2 87.5 910.8C89.5 915.3 97.9 922.4 95 925.7C92 929.1 74.2 935.7 70 930.7C65.8 925.7 67.9 901.2 70 895.8Z" fill="#96D2FA"/>
<path d="M232.3 755.8C232.7 750 235.6 738.8 239.8 730.9C244 722.9 250.6 714.4 257.3 708.4C263.9 702.3 271 698 279.8 694.6C288.5 691.3 298.5 689.2 309.7 688.4C321 687.6 334.7 688 347.2 689.6C359.7 691.3 374.2 694.9 384.6 698.4C395 701.9 403.8 707.1 409.6 710.9C415.4 714.6 418.8 717.5 419.6 720.9C420.4 724.2 418.3 728.1 414.6 730.9C410.9 733.6 404.2 734.8 397.1 737.1C390 739.4 380.5 741.5 372.1 744.6C363.8 747.7 355.5 752.7 347.2 755.8C338.9 758.9 330.5 761 322.2 763.3C313.9 765.6 305.6 768.1 297.2 769.6C288.9 771 279.8 771.8 272.3 772.1C264.8 772.3 258.1 771.8 252.3 770.8C246.5 769.8 240.6 768.3 237.3 765.8C234 763.3 231.9 761.7 232.3 755.8Z" fill="#50A5F5"/>
<path d="M502.4 708.4C503.5 702.1 505.8 693 509.9 685.9C514.1 678.8 520.3 671.8 527.4 665.9C534.5 660.1 542 654.3 552.4 650.9C562.8 647.6 577.3 646.2 589.8 645.9C602.3 645.7 614.8 647.6 627.3 649.7C639.8 651.8 652.3 655.5 664.7 658.4C677.2 661.3 689.7 664.5 702.2 667.2C714.7 669.9 727.2 672.2 739.7 674.7C752.1 677.2 766.7 679.5 777.1 682.2C787.5 684.9 795.8 687.4 802.1 690.9C808.3 694.4 812.5 698.4 814.6 703.4C816.7 708.4 815.8 714.6 814.6 720.9C813.3 727.1 810.4 734.2 807.1 740.8C803.8 747.5 799.6 755.4 794.6 760.8C789.6 766.2 782.9 771.6 777.1 773.3C771.3 775 765 773.3 759.6 770.8C754.2 768.3 749.2 763.3 744.7 758.3C740.1 753.3 736.7 746.3 732.2 740.8C727.6 735.4 723 729.6 717.2 725.9C711.4 722.1 704.7 720 697.2 718.4C689.7 716.7 680.6 716.2 672.2 715.9C663.9 715.5 655.6 716 647.3 716.4C638.9 716.8 630.6 717.2 622.3 718.4C614 719.5 605.2 720.9 597.3 723.4C589.4 725.9 582.3 730 574.8 733.4C567.4 736.7 559.4 741.5 552.4 743.3C545.3 745.2 538.6 745.8 532.4 744.6C526.2 743.3 519.7 739.4 514.9 735.8C510.1 732.3 505.8 727.9 503.7 723.4C501.6 718.8 501.4 714.6 502.4 708.4Z" fill="#50A5F5"/>
<path d="M535 869.3C534.4 867.1 537.2 863.8 540 862.7C542.8 861.6 546.9 861.8 551.7 862.7C556.4 863.5 562.8 866.6 568.3 867.7C573.9 868.8 579.4 869.3 585 869.3C590.6 869.3 596.7 867.1 601.7 867.7C606.7 868.2 613.6 870.7 615 872.7C616.4 874.6 613.6 877.7 610 879.3C606.4 881 598.9 882.1 593.3 882.7C587.8 883.2 582.2 883.1 576.7 882.7C571.1 882.2 565.6 881.3 560 880.2C554.4 879.1 547.5 877.8 543.3 876C539.2 874.2 535.6 871.6 535 869.3Z" fill="#50A5F5"/>
<path d="M253.5 743.3C253.7 738.8 254.2 731.3 257.3 725.9C260.4 720.4 265.6 714.8 272.3 710.9C278.9 706.9 287.7 703.8 297.2 702.1C306.8 700.5 319.3 699.8 329.7 700.9C340.1 701.9 351.8 705 359.7 708.4C367.6 711.7 373.8 717.1 377.1 720.9C380.5 724.6 381.3 727.5 379.6 730.9C378 734.2 373.4 737.5 367.2 740.8C360.9 744.2 350.5 747.9 342.2 750.8C333.9 753.7 325.9 756.4 317.2 758.3C308.5 760.2 298.1 761.9 289.7 762.1C281.4 762.3 272.9 761 267.3 759.6C261.6 758.1 258.3 756 256 753.3C253.7 750.6 253.3 747.9 253.5 743.3Z" fill="#2882F0"/>
<path d="M707.2 703.4C708 700.1 719.7 698.4 727.2 697.1C734.7 695.9 743.8 695.3 752.1 695.9C760.5 696.5 770.5 698.4 777.1 700.9C783.8 703.4 789.2 706.7 792.1 710.9C795 715 795 720.9 794.6 725.9C794.2 730.9 792.1 736.3 789.6 740.8C787.1 745.4 783.8 750.6 779.6 753.3C775.5 756 769.6 757.9 764.6 757.1C759.6 756.2 754.2 752.3 749.6 748.3C745.1 744.4 741.7 738.6 737.2 733.4C732.6 728.1 727.2 722.1 722.2 717.1C717.2 712.1 706.4 706.7 707.2 703.4Z" fill="#2882F0"/>
<path d="M538.6 708.4C539.9 705.7 543.4 701.5 547.4 699.6C551.3 697.8 557.6 696.5 562.4 697.1C567.1 697.8 575.7 700.3 576.1 703.4C576.5 706.5 569.2 713.2 564.9 715.9C560.5 718.6 554 719.6 549.9 719.6C545.7 719.6 541.8 717.7 539.9 715.9C538 714 537.4 711.1 538.6 708.4Z" fill="#2882F0"/>
<path d="M271 735.8C271.6 732.1 272.9 726.9 277.3 723.4C281.6 719.8 289.7 716.3 297.2 714.6C304.7 713 314.7 712.5 322.2 713.4C329.7 714.2 337.6 716.7 342.2 719.6C346.8 722.5 349.3 727.3 349.7 730.9C350.1 734.4 348.4 737.9 344.7 740.8C340.9 743.8 333.9 746.5 327.2 748.3C320.5 750.2 311.8 751.7 304.7 752.1C297.6 752.5 289.9 751.9 284.7 750.8C279.5 749.8 275.8 748.3 273.5 745.8C271.2 743.3 270.4 739.6 271 735.8Z" fill="#1464D2"/>
<path d="M55 601C82.5 574.2 189 601.8 219.8 606C250.6 610.2 234.4 620.6 239.8 626C245.2 631.4 250 634.3 252.3 638.5C254.6 642.6 254.8 646.8 253.5 650.9C252.3 655.1 247.9 659.3 244.8 663.4C241.7 667.6 238.1 671.8 234.8 675.9C231.5 680.1 228.1 684.2 224.8 688.4C221.5 692.6 218.2 696.7 214.8 700.9C211.5 705 208.6 709.2 204.8 713.4C201.1 717.5 196.9 722.1 192.4 725.9C187.8 729.6 183.6 732.5 177.4 735.8C171.1 739.2 164 742.5 154.9 745.8C145.7 749.2 132.8 753.1 122.4 755.8C112 758.5 99.7 760.6 92.5 762.1C85.2 763.5 85 763.7 78.7 764.6C72.5 765.4 59 794.3 55 767.1C51.1 739.8 27.5 627.8 55 601Z" fill="#FFFAAA"/>
<path d="M55 657.2C59 640.3 69.6 654.3 78.7 652.2C87.9 650.1 99.3 646.7 109.9 644.7C120.6 642.7 132 641.1 142.4 640.5C152.8 639.8 163.6 639.8 172.4 641C181.1 642.1 188.8 644.3 194.8 647.2C200.9 650.1 206.1 654.5 208.6 658.4C211.1 662.4 210.5 666.3 209.8 670.9C209.2 675.5 206.7 680.9 204.8 685.9C203 690.9 201.1 696.3 198.6 700.9C196.1 705.5 193.4 709.6 189.9 713.4C186.3 717.1 182.4 720.2 177.4 723.4C172.4 726.5 167 729.4 159.9 732.1C152.8 734.8 144.1 737.3 134.9 739.6C125.8 741.9 114.3 744 104.9 745.8C95.6 747.7 87.1 749.6 78.7 750.8C70.4 752.1 59 768.9 55 753.3C51.1 737.7 51.1 674 55 657.2Z" fill="#FFC03C"/>
<path d="M55 673.4C59 661.3 70.4 671 78.7 669.7C87.1 668.3 95.6 666.5 104.9 665.4C114.3 664.4 125.8 663.3 134.9 663.4C144.1 663.6 153.4 664.6 159.9 666.4C166.3 668.3 170.5 671.4 173.6 674.7C176.7 677.9 178 682 178.6 685.9C179.2 689.9 178.8 694.2 177.4 698.4C175.9 702.6 173.2 707.3 169.9 710.9C166.5 714.4 163.2 716.9 157.4 719.6C151.6 722.3 142.8 724.8 134.9 727.1C127 729.4 119.3 731.3 109.9 733.4C100.6 735.4 87.9 738.1 78.7 739.6C69.6 741 59 753.1 55 742.1C51.1 731.1 51.1 685.5 55 673.4Z" fill="#FF6000"/>
<path d="M55 689.6C59 682.8 71.7 688 78.7 687.2C85.8 686.3 90.2 685.1 97.5 684.7C104.7 684.2 114.9 683.8 122.4 684.7C129.9 685.5 138.2 687.4 142.4 689.6C146.6 691.9 147.2 695.3 147.4 698.4C147.6 701.5 146.2 705.5 143.7 708.4C141.2 711.3 138 713.6 132.4 715.9C126.8 718.2 118.9 720.2 109.9 722.1C101 724 87.9 726.1 78.7 727.1C69.6 728.1 59 734.6 55 728.4C51.1 722.1 51.1 696.5 55 689.6Z" fill="#E11400"/>
<path d="M283.5 833.2C283.7 829.9 286.2 825.3 289.7 820.8C293.3 816.2 298.9 810.8 304.7 805.8C310.5 800.8 317.6 795.2 324.7 790.8C331.8 786.4 339.3 782.3 347.2 779.5C355.1 776.8 363.8 775.2 372.1 774.6C380.5 773.9 389.6 774.8 397.1 775.8C404.6 776.8 412.1 778.3 417.1 780.8C422.1 783.3 425.4 787 427.1 790.8C428.7 794.5 428.7 799.1 427.1 803.3C425.4 807.4 421.7 812 417.1 815.8C412.5 819.5 406.3 822.4 399.6 825.7C393 829.1 384.6 832.8 377.1 835.7C369.6 838.6 362.6 841.4 354.7 843.2C346.8 845.1 338 846.6 329.7 847C321.4 847.4 311.6 846.8 304.7 845.7C297.9 844.7 292 842.8 288.5 840.7C285 838.6 283.3 836.6 283.5 833.2Z" fill="#FFFAAA"/>
<path d="M321 810.8C321.6 807.6 323.7 802 327.2 798.3C330.7 794.5 335.9 791 342.2 788.3C348.4 785.6 357.2 783.1 364.7 782C372.1 781 380.5 781 387.1 782C393.8 783.1 400.9 785.6 404.6 788.3C408.4 791 409.6 794.9 409.6 798.3C409.6 801.6 407.9 805.1 404.6 808.3C401.3 811.4 395.5 814.5 389.6 817C383.8 819.5 376.3 821.8 369.6 823.2C363 824.7 355.9 825.7 349.7 825.7C343.4 825.7 336.6 824.7 332.2 823.2C327.8 821.8 325.3 819.1 323.5 817C321.6 814.9 320.3 813.9 321 810.8Z" fill="#FFC03C"/>
<path d="M548.6 800.8C548.6 796.4 549.7 790.8 552.4 785.8C555.1 780.8 559.9 775.4 564.9 770.8C569.9 766.2 575.7 761.9 582.3 758.3C589 754.8 596.5 751.9 604.8 749.6C613.1 747.3 623.1 745.2 632.3 744.6C641.4 744 651 744.4 659.8 745.8C668.5 747.3 677.2 750 684.7 753.3C692.2 756.7 699.5 761.2 704.7 765.8C709.9 770.4 713.9 775.8 715.9 780.8C718 785.8 718.6 791.2 717.2 795.8C715.7 800.4 711.8 804.5 707.2 808.3C702.6 812 696.8 815.5 689.7 818.3C682.6 821 673.5 822.8 664.7 824.5C656 826.2 646.4 827.2 637.3 828.2C628.1 829.3 618.5 830.5 609.8 830.7C601.1 830.9 592.3 830.9 584.8 829.5C577.3 828 570.3 824.9 564.9 822C559.4 819.1 555.1 815.5 552.4 812C549.7 808.5 548.6 805.1 548.6 800.8Z" fill="#FFFAAA"/>
<path d="M557.4 800.8C557.4 797 557.6 791.6 559.9 787C562.2 782.5 566.5 777.5 571.1 773.3C575.7 769.1 581.3 765.3 587.3 762.1C593.4 758.8 599.8 755.9 607.3 753.8C614.8 751.7 624 750.2 632.3 749.6C640.6 749 649.3 749.1 657.3 750.3C665.2 751.6 673.1 754.1 679.7 757.1C686.4 760.1 692.6 764.1 697.2 768.3C701.8 772.5 705.5 777.5 707.2 782C708.9 786.6 708.7 791.6 707.2 795.8C705.7 799.9 702.6 803.9 698.5 807C694.3 810.1 688.7 812.3 682.2 814.5C675.8 816.7 667.7 818.7 659.8 820.3C651.8 821.8 643.1 822.8 634.8 823.7C626.5 824.7 617.7 825.6 609.8 825.7C601.9 825.9 594 825.7 587.3 824.5C580.7 823.2 574.4 820.8 569.9 818.3C565.3 815.8 561.9 812.4 559.9 809.5C557.8 806.6 557.4 804.5 557.4 800.8Z" fill="#FFC03C"/>
<path d="M566.1 799.5C565.3 795.6 566.5 791 568.6 787C570.7 783.1 574.6 779.3 578.6 775.8C582.5 772.3 586.7 768.8 592.3 765.8C597.9 762.8 605.2 759.8 612.3 757.8C619.4 755.8 627.3 754.4 634.8 753.8C642.3 753.3 650.2 753.4 657.3 754.6C664.3 755.7 671.4 757.9 677.2 760.8C683.1 763.7 688.7 768.1 692.2 772.1C695.8 776 697.6 780.6 698.5 784.5C699.3 788.5 698.9 792.5 697.2 795.8C695.5 799.1 692.6 802 688.5 804.5C684.3 807 678.3 808.9 672.2 810.8C666.2 812.6 659.3 814.4 652.3 815.8C645.2 817.1 637.3 818 629.8 818.8C622.3 819.5 614.4 820.4 607.3 820.3C600.2 820.1 593 819.3 587.3 817.8C581.7 816.2 577.1 813.8 573.6 810.8C570.1 807.7 566.9 803.5 566.1 799.5Z" fill="#FF6000"/>
<path d="M574.8 798.3C574.3 795.2 575.2 790.6 576.8 787C578.5 783.5 581.2 780.2 584.8 777.1C588.5 773.9 593.2 770.9 598.6 768.3C604 765.7 610.8 763.2 617.3 761.6C623.8 759.9 630.6 758.7 637.3 758.3C643.9 757.9 651.2 757.9 657.3 759.1C663.3 760.2 668.9 762.5 673.5 765.3C678.1 768.1 682.2 772.2 684.7 775.8C687.2 779.4 688.5 783.5 688.5 787C688.5 790.6 687 794.3 684.7 797C682.4 799.7 679.3 801.4 674.7 803.3C670.2 805.1 663.9 806.8 657.3 808.3C650.6 809.7 642.3 811.2 634.8 812C627.3 812.8 619.4 813.3 612.3 813.3C605.2 813.2 597.7 812.8 592.3 811.5C586.9 810.3 582.8 808 579.8 805.8C576.9 803.6 575.3 801.4 574.8 798.3Z" fill="#E11400"/>
<path d="M582.3 795.8C582 793.4 582.9 789.9 584.3 787C585.8 784.2 587.7 781.4 591.1 778.8C594.5 776.2 599.6 773.6 604.8 771.3C610 769.1 616.5 766.7 622.3 765.3C628.1 763.9 634.2 763.1 639.8 762.8C645.4 762.5 651 762.2 656 763.3C661 764.4 666 767 669.7 769.6C673.5 772.1 676.8 775.7 678.5 778.8C680.1 781.9 680.4 785.4 679.7 788.3C679.1 791.2 677.4 794.1 674.7 796.3C672 798.4 668.1 799.9 663.5 801.3C658.9 802.6 653.3 803.6 647.3 804.5C641.2 805.5 633.5 806.5 627.3 807C621 807.6 615.2 808 609.8 807.8C604.4 807.6 598.8 806.8 594.8 805.8C590.9 804.7 588.2 803.2 586.1 801.5C584 799.9 582.6 798.2 582.3 795.8Z" fill="#A50000"/>
<path d="M829.6 626C830 623.5 836.2 621.6 839.5 619.7C842.9 617.9 844.5 616.2 849.5 614.7C854.5 613.3 866.2 605.4 869.5 611C872.8 616.6 872.8 643.2 869.5 648.4C866.2 653.6 854.9 644.5 849.5 642.2C844.1 639.9 840.4 637.4 837.1 634.7C833.7 632 829.1 628.5 829.6 626Z" fill="#FFFAAA"/>
<path d="M844 765.8C844.8 763.7 845.3 762.1 849.5 760.8C853.8 759.6 866.2 755.2 869.5 758.3C872.8 761.4 872.8 776.4 869.5 779.5C866.2 782.7 853.6 778.1 849.5 777.1C845.5 776 846 775.2 845 773.3C844.1 771.4 843.3 767.9 844 765.8Z" fill="#FFFAAA"/>
</g>
<g clip-path="url(#clb)">
<use href="#coast" x="0" y="560.6"/>
<path d="M75.2 692.2L95.2 689.2M87.5 694.8L95.2 689.2L86.2 686.2M107.6 692.2L129.1 689.2M121.3 694.7L129.1 689.2L120.1 686.1M140 692.2L164 691.2M155.7 695.9L164 691.2L155.3 687.3M172.4 692.2L199.4 692.2M190.9 696.6L199.4 692.2L190.9 687.9M204.7 692.2L229.2 694.8M220.4 698.2L229.2 694.8L221.3 689.6M237.1 692.2L260.1 695.8M251.1 698.7L260.1 695.8L252.4 690.2M269.5 692.2L290.5 698.8M281.1 700.4L290.5 698.8L283.7 692.1M658.1 692.2L682.6 695.8M673.6 698.8L682.6 695.8L674.8 690.3M690.5 692.2L714.5 695.8M705.5 698.8L714.5 695.8L706.7 690.3M722.9 692.2L744.9 697.2M735.7 699.6L744.9 697.2L737.6 691.2M755.2 692.2L776.2 700.2M766.8 701.3L776.2 700.2L769.9 693.2M787.6 692.2L810.1 700.2M800.7 701.5L810.1 700.2L803.6 693.4M820 692.2L845 698.8M835.7 700.8L845 698.8L837.9 692.4M75.2 718.4L110.2 722.4M101.3 725.8L110.2 722.4L102.3 717.2M107.6 718.4L136.6 720.9M127.8 724.5L136.6 720.9L128.5 715.9M140 718.4L170 722.4M161 725.6L170 722.4L162.1 717M172.4 718.4L201.4 722.9M192.3 725.9L201.4 722.9L193.6 717.4M204.7 718.4L234.2 722.4M225.3 725.6L234.2 722.4L226.4 717M237.1 718.4L264.1 722.4M255.1 725.5L264.1 722.4L256.4 716.9M269.5 718.4L297.5 722.9M288.5 725.8L297.5 722.9L289.8 717.3M301.9 718.4L330.9 725.4M321.6 727.6L330.9 725.4L323.7 719.3M334.3 718.4L365 731.4M355.5 732.1L365 731.4L358.9 724.2M366.6 718.4L395.6 733.9M386.2 733.7L395.6 733.9L390.2 726.1M399 718.4L424 732.4M414.5 732.1L424 732.4L418.8 724.5M593.3 718.4L619.8 718.4M611.4 722.7L619.8 718.4L611.4 714.1M625.7 718.4L654.2 718.9M645.7 723.1L654.2 718.9L645.8 714.5M658.1 718.4L690.1 722.4M681.2 725.7L690.1 722.4L682.2 717.1M690.5 718.4L721.5 724.9M712.3 727.4L721.5 724.9L714.1 719M722.9 718.4L756.9 727.9M747.6 729.8L756.9 727.9L749.9 721.5M755.2 718.4L791.8 730.4M782.4 731.9L791.8 730.4L785.1 723.7M787.6 718.4L828.1 727.9M818.9 730.2L828.1 727.9L820.9 721.8M820 718.4L860 724.4M851 727.4L860 724.4L852.3 718.9M75.2 744.6L120.2 753.6M111.1 756.2L120.2 753.6L112.7 747.7M107.6 744.6L146.6 753.6M137.4 755.9L146.6 753.6L139.3 747.5M140 744.6L177 754.6M167.7 756.6L177 754.6L169.9 748.2M172.4 744.6L205.4 753.6M196 755.6L205.4 753.6L198.3 747.2M204.7 744.6L236.7 750.6M227.6 753.3L236.7 750.6L229.2 744.8M237.1 744.6L267.6 749.1M258.6 752.1L267.6 749.1L259.9 743.6M269.5 744.6L305 748.1M296.2 751.6L305 748.1L297 743M301.9 744.6L342.9 757.1M333.5 758.8L342.9 757.1L336 750.5M334.3 744.6L378.3 768.6M368.8 768.3L378.3 768.6L372.9 760.8M366.6 744.6L408.1 771.6M398.7 770.6L408.1 771.6L403.4 763.4M399 744.6L436.5 764.6M427 764.4L436.5 764.6L431.1 756.8M431.4 744.6L462.4 753.1M453.1 755L462.4 753.1L455.4 746.7M463.8 744.6L489.3 748.1M480.3 751.2L489.3 748.1L481.5 742.7M496.2 744.6L519.2 749.6M510 752L519.2 749.6L511.8 743.6M528.6 744.6L555.6 754.6M546.1 755.7L555.6 754.6L549.1 747.6M560.9 744.6L593.4 756.6M584 757.7L593.4 756.6L587 749.6M593.3 744.6L627.3 751.6M618.2 754.1L627.3 751.6L619.9 745.7M625.7 744.6L661.7 746.1M653.1 750.1L661.7 746.1L653.4 741.5M658.1 744.6L698.1 747.1M689.4 750.9L698.1 747.1L689.9 742.3M690.5 744.6L733.5 752.1M724.4 754.9L733.5 752.1L725.9 746.4M722.9 744.6L774.9 756.6M765.6 758.9L774.9 756.6L767.6 750.5M755.2 744.6L815.2 760.6M806 762.6L815.2 760.6L808.2 754.3M787.6 744.6L852.6 757.6M843.5 760.2L852.6 757.6L845.2 751.7M820 744.6L875 755.6M865.9 758.2L875 755.6L867.6 749.7M75.2 770.8L120.2 782.8M110.9 784.8L120.2 782.8L113.1 776.5M107.6 770.8L150.1 785.8M140.7 787L150.1 785.8L143.5 778.9M140 770.8L181.5 785.8M172 787L181.5 785.8L175 778.9M172.4 770.8L213.4 782.8M204 784.6L213.4 782.8L206.4 776.3M204.7 770.8L244.7 777.8M235.7 780.6L244.7 777.8L237.1 772.1M237.1 770.8L271.6 770.8M263.2 775.1L271.6 770.8L263.2 766.5M269.5 770.8L302.5 775.8M293.5 778.8L302.5 775.8L294.8 770.3M301.9 770.8L339.9 786.8M330.4 787.5L339.9 786.8L333.8 779.5M334.3 770.8L376.3 798.8M366.8 797.7L376.3 798.8L371.6 790.5M366.6 770.8L413.6 796.8M404.2 796.5L413.6 796.8L408.3 788.9M399 770.8L441.5 785.8M432.1 787L441.5 785.8L435 778.9M431.4 770.8L476.4 778.3M467.4 781.2L476.4 778.3L468.8 772.7M463.8 770.8L508.8 777.8M499.8 780.8L508.8 777.8L501.1 772.2M496.2 770.8L536.7 787.8M527.2 788.5L536.7 787.8L530.5 780.5M528.6 770.8L573.1 795.8M563.6 795.4L573.1 795.8L567.8 787.9M560.9 770.8L606.4 789.3M597 790.1L606.4 789.3L600.2 782.1M593.3 770.8L634.8 777.8M625.8 780.6L634.8 777.8L627.2 772.1M625.7 770.8L665.7 775.8M656.8 779L665.7 775.8L657.9 770.5M658.1 770.8L698.1 774.8M689.2 778.2L698.1 774.8L690.1 769.7M690.5 770.8L731.5 776.8M722.5 779.8L731.5 776.8L723.7 771.3M722.9 770.8L781.9 784.3M772.7 786.6L781.9 784.3L774.6 778.2M755.2 770.8L823.2 796.8M813.8 797.8L823.2 796.8L816.9 789.7M787.6 770.8L857.6 794.8M848.2 796.1L857.6 794.8L851 788M820 770.8L880 790.8M870.6 792.2L880 790.8L873.4 784M75.2 797L106.7 807.5M97.3 808.9L106.7 807.5L100 800.7M107.6 797L145.1 810M135.7 811.3L145.1 810L138.5 803.1M140 797L178.5 811M169 812.1L178.5 811L172 804M172.4 797L213.4 806M204.2 808.4L213.4 806L206 800M204.7 797L238.2 797M229.8 801.3L238.2 797L229.8 792.7M237.1 797L265.1 792.5M257.4 798.1L265.1 792.5L256.1 789.6M334.3 797L356.3 811M346.8 810.1L356.3 811L351.4 802.8M366.6 797L398.1 806M388.8 807.8L398.1 806L391.2 799.5M399 797L431.5 802M422.5 805L431.5 802L423.8 796.4M431.4 797L462.4 804.5M453.2 806.7L462.4 804.5L455.2 798.3M463.8 797L500.8 808.5M491.4 810.1L500.8 808.5L494 801.9M496.2 797L536.7 817.5M527.2 817.5L536.7 817.5L531.1 809.8M528.6 797L576.6 826M567.1 825.3L576.6 826L571.6 817.9M560.9 797L601.4 812.5M592 813.5L601.4 812.5L595.1 805.4M593.3 797L620.3 802M611.2 804.7L620.3 802L612.8 796.2M625.7 797L650.7 800M641.8 803.3L650.7 800L642.8 794.7M690.5 797L714 806M704.5 807L714 806L707.6 798.9M722.9 797L759.9 817M750.4 816.8L759.9 817L754.5 809.2M755.2 797L800.2 827M790.8 825.9L800.2 827L795.6 818.7M787.6 797L832.6 822M823.1 821.6L832.6 822L827.3 814.1M820 797L860 815M850.5 815.4L860 815L854.1 807.6M172.4 823.2L197.4 824.2M188.7 828.1L197.4 824.2L189.1 819.5M496.2 823.2L517.7 841.7M508.5 839.4L517.7 841.7L514.1 832.9M528.6 823.2L555.1 846.2M545.8 843.9L555.1 846.2L551.5 837.4M690.5 823.2L705 842.7M696.5 838.4L705 842.7L703.4 833.3M722.9 823.2L740.9 848.2M732.4 843.8L740.9 848.2L739.4 838.8M755.2 823.2L780.2 853.2M771.5 849.4L780.2 853.2L778.1 843.9M787.6 823.2L812.6 848.2M803.6 845.2L812.6 848.2L809.7 839.1M820 823.2L838 847.7M829.5 843.4L838 847.7L836.5 838.3M658.1 849.4L657.1 874.4M653.1 865.7L657.1 874.4L661.7 866.1M690.5 849.4L688.5 875.4M684.8 866.6L688.5 875.4L693.4 867.2M722.9 849.4L730.9 879.4M724.5 872.3L730.9 879.4L732.9 870.1M755.2 849.4L768.2 878.4M760.9 872.4L768.2 878.4L768.7 868.9M787.6 849.4L797.6 875.4M790.6 869L797.6 875.4L798.6 865.9M820 849.4L827.5 873.4M820.9 866.6L827.5 873.4L829.1 864M722.9 875.5L729.4 900M723 893L729.4 900L731.4 890.7M755.2 875.5L765.8 902.5M758.7 896.2L765.8 902.5L766.7 893.1M787.6 875.5L801.6 900M793.7 894.8L801.6 900L801.2 890.5M820 875.5L836.5 897M827.9 892.9L836.5 897L834.8 887.7M787.6 901.7L806.6 916.7M797.3 914.9L806.6 916.7L802.7 908.1M820 901.7L843.5 910.2M834.1 911.4L843.5 910.2L837 903.3" fill="none" stroke="#000" stroke-width="2.8" stroke-linejoin="miter"/>
<path d="M75.2 692.2H852.4" class="gh"/><path d="M75.2 770.8H852.4M75.2 849.4H852.4" class="gq"/><path d="M204.7 613.7V927.9M334.3 613.7V927.9M463.8 613.7V927.9M593.3 613.7V927.9M722.9 613.7V927.9" class="gv"/>
</g>
<rect x="75.2" y="613.7" width="777.2" height="314.2" fill="none" stroke="#000" stroke-width="6.2"/>
<path d="M63.7 613.7H75.2M63.7 692.2H75.2M63.7 770.8H75.2M63.7 849.4H75.2M63.7 927.9H75.2M75.2 927.9V939.4M204.7 927.9V939.4M334.3 927.9V939.4M463.8 927.9V939.4M593.3 927.9V939.4M722.9 927.9V939.4M852.4 927.9V939.4" stroke="#000" stroke-width="2.2" fill="none"/>
<path d="M75.2 613.7H852.4M75.2 927.9H852.4" class="gq"/><path d="M75.2 613.7V927.9M852.4 613.7V927.9" class="gv"/>
<text transform="translate(0 626.6) scale(0.875 1)" font-size="35"><tspan x="3.7 23.1 42" y="0">75N</tspan></text>
<text transform="translate(0 705.1) scale(0.875 1)" font-size="35"><tspan x="3 23 42" y="0">60N</tspan></text>
<text transform="translate(0 783.7) scale(0.875 1)" font-size="35"><tspan x="2.4 23.1 42" y="0">45N</tspan></text>
<text transform="translate(0 862.2) scale(0.875 1)" font-size="35"><tspan x="3.2 23 42" y="0">30N</tspan></text>
<text transform="translate(0 940.8) scale(0.875 1)" font-size="35"><tspan x="3.4 23.1 42" y="0">15N</tspan></text>
<text transform="translate(0 967.4) scale(0.875 1)" font-size="35"><tspan x="75.5" y="0">0</tspan></text>
<text transform="translate(0 967.4) scale(0.875 1)" font-size="35"><tspan x="204.4 224.9 242.6" y="0">30E</tspan></text>
<text transform="translate(0 967.4) scale(0.875 1)" font-size="35"><tspan x="353.4 374 390.8" y="0">60E</tspan></text>
<text transform="translate(0 967.4) scale(0.875 1)" font-size="35"><tspan x="501.4 522 538.9" y="0">90E</tspan></text>
<text transform="translate(0 967.4) scale(0.875 1)" font-size="35"><tspan x="636.1 659.3 679.8 697.4" y="0">120E</tspan></text>
<text transform="translate(0 967.4) scale(0.875 1)" font-size="35"><tspan x="784.7 807.7 828.4 845.7" y="0">150E</tspan></text>
<text transform="translate(0 967.4) scale(0.875 1)" font-size="35"><tspan x="943.5 965.7 985.5" y="0">180</tspan></text>
<g clip-path="url(#clc)">
<path d="M1218.7 45C1196.8 47.9 1214.7 65 1211.2 70C1207.7 74.9 1194.3 84 1188.7 87.4C1183.2 90.9 1168.4 96.7 1163.8 99.9C1159.1 103.1 1152 111.1 1148.8 114.9C1145.6 118.7 1139.2 128 1136.3 132.4C1133.4 136.8 1126.4 147.4 1123.8 152.4C1121.2 157.3 1116.1 169.3 1113.8 174.8C1111.5 180.4 1105.9 195.2 1103.8 199.8C1101.8 204.5 1098.1 211.3 1096.3 214.8C1094.6 218.3 1092.3 228.6 1088.8 229.8C1085.3 231 1070.2 224.2 1066.4 224.8C1062.6 225.4 1057.3 231.9 1056.4 234.8C1055.5 237.7 1056.3 247.1 1058.9 249.8C1061.5 252.4 1074.2 256.1 1078.9 257.3C1083.5 258.4 1094.2 260 1098.8 259.8C1103.5 259.5 1115.9 254.2 1118.8 254.8C1121.7 255.3 1122.6 261.8 1123.8 264.7C1125 267.7 1128.4 275.5 1128.8 279.7C1129.2 284 1119.4 298.5 1127.5 301C1135.7 303.4 1190.7 303.4 1198.7 301C1206.7 298.5 1198 284 1196.2 279.7C1194.5 275.5 1184.6 267.4 1183.7 264.7C1182.9 262.1 1186.1 258.7 1188.7 257.3C1191.4 255.8 1202.7 254 1206.2 252.3C1209.7 250.5 1214.3 244.6 1218.7 242.3C1223.1 239.9 1237.8 234.9 1243.7 232.3C1249.5 229.7 1263.1 223.6 1268.6 219.8C1274.2 216 1286.2 204.2 1291.1 199.8C1296.1 195.4 1306.1 186.4 1311.1 182.3C1316 178.3 1328.6 167.5 1333.6 164.9C1338.5 162.2 1348.9 159.9 1353.5 159.9C1358.2 159.9 1368.3 163.7 1373.5 164.9C1378.8 166 1395.6 183.8 1398.5 169.9C1401.4 155.9 1419.5 59.6 1398.5 45C1377.5 30.4 1240.5 42.1 1218.7 45Z" fill="#E1FFFF"/>
<path d="M1263.6 122.4C1265.4 123 1275.6 115.5 1281.1 114.9C1286.7 114.3 1303.2 116.5 1311.1 117.4C1319 118.3 1341.3 120.4 1348.5 122.4C1355.8 124.4 1367.7 132.9 1373.5 134.9C1379.3 136.9 1395.6 141.3 1398.5 139.9C1401.4 138.4 1401.4 125.3 1398.5 122.4C1395.6 119.5 1379.3 116.7 1373.5 114.9C1367.7 113.2 1355.8 108.9 1348.5 107.4C1341.3 106 1319 103.3 1311.1 102.4C1303.2 101.6 1286.4 99.1 1281.1 99.9C1275.9 100.8 1268.2 107.3 1266.1 109.9C1264.1 112.5 1261.9 121.8 1263.6 122.4Z" fill="#FFFFFF"/>
<path d="M1318 45C1300.5 56.6 1316.3 131.5 1318 144.9C1319.8 158.3 1331 155.8 1333 159.9C1335 163.9 1333.2 176.3 1335.5 179.8C1337.8 183.3 1348.6 187.5 1353 189.8C1357.3 192.2 1367.7 198.1 1372.9 199.8C1378.2 201.6 1392.1 204.1 1397.9 204.8C1403.7 205.5 1417.1 206.1 1422.9 206.1C1428.7 206.1 1442 205.8 1447.9 204.8C1453.7 203.8 1468.2 199.4 1472.8 197.3C1477.5 195.3 1484.3 189.8 1487.8 187.3C1491.3 184.9 1498.1 177.8 1502.8 176.1C1507.5 174.3 1521.9 172.6 1527.8 172.4C1533.6 172.1 1547.5 174.5 1552.7 173.6C1558 172.7 1568.4 166.8 1572.7 164.9C1577.1 163 1586.1 158.8 1590.2 157.4C1594.3 155.9 1603.9 152.4 1607.7 152.4C1611.5 152.4 1619.2 155.3 1622.7 157.4C1626.2 159.4 1635.3 167.2 1637.6 169.9C1640 172.5 1640 179.8 1642.6 179.8C1645.3 179.8 1656 172.5 1660.1 169.9C1664.2 167.2 1674.1 160.9 1677.6 157.4C1681.1 153.9 1687.8 143.7 1690.1 139.9C1692.4 136.1 1694.4 127.2 1697.6 124.9C1700.8 122.6 1714.1 121.1 1717.6 119.9C1721.1 118.7 1729.3 115.9 1727.5 114.9C1725.8 113.9 1709.9 112 1702.6 111.2C1695.3 110.3 1673.9 108.6 1665.1 107.4C1656.4 106.3 1634.9 102.5 1627.7 101.2C1620.4 99.9 1608.5 97.5 1602.7 96.2C1596.9 94.9 1583.5 91.3 1577.7 89.9C1571.9 88.6 1558.6 85.8 1552.7 84.9C1546.9 84.1 1532.4 83.9 1527.8 82.5C1523.1 81 1515.7 74.8 1512.8 72.5C1509.9 70.1 1506.9 64.5 1502.8 62.5C1498.7 60.4 1481.9 57 1477.8 55C1473.8 52.9 1486.5 46.2 1467.8 45C1449.2 43.8 1335.5 33.3 1318 45Z" fill="#E1FFFF"/>
<path d="M1328 102.4C1331.2 99.8 1342.2 99.6 1348 99.9C1353.8 100.2 1370.7 103.8 1377.9 104.9C1385.2 106.1 1403.1 109 1410.4 109.9C1417.7 110.8 1436.3 111 1440.4 112.4C1444.5 113.9 1446.2 119.2 1445.4 122.4C1444.5 125.6 1437 136.1 1432.9 139.9C1428.8 143.7 1415.4 151.4 1410.4 154.9C1405.5 158.4 1394.8 166.9 1390.4 169.9C1386.1 172.8 1377.3 179.3 1372.9 179.8C1368.6 180.4 1357.1 177.8 1353 174.8C1348.9 171.9 1340.9 158.9 1338 154.9C1335.1 150.8 1330 143.7 1328 139.9C1326 136.1 1320.5 126.8 1320.5 122.4C1320.5 118 1324.8 105.1 1328 102.4Z" fill="#FFFFFF"/>
<path d="M1577.7 147.4C1578.9 145.6 1592.7 141.1 1597.7 139.9C1602.6 138.7 1615.8 136.8 1620.2 137.4C1624.5 138 1634.9 143.1 1635.2 144.9C1635.4 146.6 1626.5 151.8 1622.7 152.4C1618.9 153 1606.8 149.6 1602.7 149.9C1598.6 150.2 1590.6 155.2 1587.7 154.9C1584.8 154.6 1576.6 149.1 1577.7 147.4Z" fill="#FFFFFF"/>
<path d="M959 277.3C961.3 266 974.3 278.4 979 279.8C983.6 281.3 993.7 288.4 998.9 289.8C1004.2 291.3 1018.1 292.3 1023.9 292.3C1029.7 292.3 1044.5 288.4 1048.9 289.8C1053.3 291.3 1061.4 301.3 1061.4 304.8C1061.4 308.3 1049.8 316 1048.9 319.8C1048 323.6 1051 334.6 1053.9 337.3C1056.8 339.9 1069.8 340.2 1073.9 342.3C1077.9 344.3 1085.9 350.7 1088.8 354.7C1091.8 358.8 1114 374.6 1098.8 377.2C1083.7 379.8 975.3 388.9 959 377.2C942.7 365.6 956.7 288.7 959 277.3Z" fill="#E1FFFF"/>
<path d="M1058.9 229.9C1060 227.8 1070.4 225.2 1073.9 224.9C1077.4 224.6 1085.9 228.3 1088.8 227.4C1091.8 226.5 1096.2 219.1 1098.8 217.4C1101.5 215.7 1109 211 1111.3 212.4C1113.6 213.9 1117.6 225.8 1118.8 229.9C1120 234 1122.2 244.5 1121.3 247.4C1120.4 250.3 1114.5 254.3 1111.3 254.9C1108.1 255.4 1097.6 253.2 1093.8 252.4C1090 251.5 1082.3 248.5 1078.9 247.4C1075.4 246.2 1066.2 244.4 1063.9 242.4C1061.5 240.3 1057.7 231.9 1058.9 229.9Z" fill="#E1FFFF"/>
<path d="M1328 264.8C1330.3 262.1 1343.3 265.2 1348 266.1C1352.6 267 1363.9 271.3 1368 272.3C1372 273.4 1378.9 274.3 1382.9 274.8C1387 275.4 1399.1 275.6 1402.9 277.3C1406.7 279.1 1412.5 286 1415.4 289.8C1418.3 293.6 1424.1 306.6 1427.9 309.8C1431.7 313 1443.8 316.1 1447.9 317.3C1451.9 318.5 1461.7 318.3 1462.8 319.8C1464 321.2 1459.9 327.7 1457.9 329.8C1455.8 331.8 1447.7 335.2 1445.4 337.3C1443 339.3 1440.5 346.4 1437.9 347.3C1435.3 348.1 1424.9 346.5 1422.9 344.8C1420.9 343 1421.9 336.3 1420.4 332.3C1418.9 328.2 1413 314.2 1410.4 309.8C1407.8 305.4 1400.8 297.7 1397.9 294.8C1395 291.9 1389.2 285.4 1385.4 284.8C1381.6 284.2 1370.4 288.9 1365.5 289.8C1360.5 290.7 1347.4 292.3 1343 292.3C1338.6 292.3 1329.7 293 1328 289.8C1326.3 286.6 1325.7 267.6 1328 264.8Z" fill="#E1FFFF"/>
<path d="M1266.1 254.9C1266.1 251.9 1269.1 246.3 1271.1 244.9C1273.2 243.4 1281 241.8 1283.6 242.4C1286.2 243 1292.6 247.2 1293.6 249.9C1294.6 252.5 1293.5 262.2 1292.4 264.8C1291.2 267.5 1286.1 271.8 1283.6 272.3C1281.1 272.9 1273.2 271.9 1271.1 269.8C1269.1 267.8 1266.1 257.8 1266.1 254.9Z" fill="#E1FFFF"/>
<path d="M1331.1 279.8C1331.5 277.8 1335.9 272.3 1338.6 271.1C1341.2 269.9 1350.5 269 1353.5 269.8C1356.6 270.7 1363.9 276.3 1364.8 278.6C1365.7 280.9 1363.2 288.2 1361 289.8C1358.8 291.4 1349.1 292.5 1346.1 292.3C1343 292.2 1336.6 290 1334.8 288.6C1333.1 287.1 1330.6 281.9 1331.1 279.8Z" fill="#E1FFFF"/>
<path d="M1261.1 289.8C1260.9 287.8 1269.8 284.5 1273.6 284.8C1277.4 285.1 1290.1 290 1293.6 292.3C1297.1 294.6 1303.6 302.8 1303.6 304.8C1303.6 306.8 1296.8 310.1 1293.6 309.8C1290.4 309.5 1279.9 304.6 1276.1 302.3C1272.3 300 1261.4 291.9 1261.1 289.8Z" fill="#E1FFFF"/>
<path d="M1373.5 60C1373.8 57.4 1388.1 55.6 1391 55C1393.9 54.4 1397.6 52.1 1398.5 55C1399.4 57.9 1399.7 77.3 1398.5 80C1397.3 82.6 1391.4 79.8 1388.5 77.5C1385.6 75.1 1373.2 62.6 1373.5 60Z" fill="#E1FFFF"/>
<path d="M1111.3 202.3C1112.5 198.2 1119 185.1 1121.3 179.8C1123.6 174.6 1128.7 162 1131.3 157.4C1133.9 152.7 1140.6 143.2 1143.8 139.9C1147 136.5 1154.7 130.4 1158.8 128.6C1162.8 126.9 1173.5 125.2 1178.7 124.9C1184 124.6 1198.5 126.7 1203.7 126.2C1209 125.6 1220.5 122.4 1223.7 119.9C1226.9 117.4 1230 108.4 1231.2 104.9C1232.3 101.4 1231.6 92.3 1233.7 89.9C1235.7 87.6 1244.9 85.2 1248.7 84.9C1252.4 84.7 1263.5 85.4 1266.1 87.4C1268.8 89.5 1271.4 99.2 1271.1 102.4C1270.8 105.6 1265.4 112 1263.6 114.9C1261.9 117.8 1256.7 124.5 1256.2 127.4C1255.6 130.3 1256.6 137.6 1258.6 139.9C1260.7 142.2 1269.6 146.1 1273.6 147.4C1277.7 148.7 1288.9 150.4 1293.6 151.1C1298.3 151.9 1309.8 152.9 1313.6 153.6C1317.4 154.3 1326.4 155.8 1326.1 157.4C1325.8 159 1314.6 164.7 1311.1 167.4C1307.6 170 1299.6 176.3 1296.1 179.8C1292.6 183.3 1284.9 193.2 1281.1 197.3C1277.3 201.4 1268 211.3 1263.6 214.8C1259.3 218.3 1248.3 225 1243.7 227.3C1239 229.6 1227.8 233 1223.7 234.8C1219.6 236.5 1211.3 239.9 1208.7 242.3C1206.1 244.6 1203.5 252.7 1201.2 254.8C1198.9 256.8 1191.9 259.5 1188.7 259.8C1185.5 260 1176.1 256.7 1173.7 257.3C1171.4 257.8 1169.6 262.1 1168.8 264.7C1167.9 267.4 1166 276.2 1166.3 279.7C1166.5 283.2 1168.9 290.9 1171.2 294.7C1173.6 298.5 1183 308.4 1186.2 312.2C1189.4 316 1197.8 324.3 1198.7 327.2C1199.6 330.1 1196.1 335.1 1193.7 337.2C1191.4 339.2 1182.5 343.8 1178.7 344.7C1175 345.5 1164.8 345.2 1161.3 344.7C1157.8 344.1 1151.4 341.7 1148.8 339.7C1146.2 337.6 1140.8 330.7 1138.8 327.2C1136.7 323.7 1132.5 313.8 1131.3 309.7C1130.1 305.6 1128.2 295.7 1128.8 292.2C1129.4 288.7 1134 282.4 1136.3 279.7C1138.6 277.1 1146.4 272.7 1148.8 269.7C1151.1 266.8 1156.3 257.4 1156.3 254.8C1156.3 252.1 1150.8 247.6 1148.8 247.3C1146.7 247 1141.7 252 1138.8 252.3C1135.9 252.6 1126.7 251.2 1123.8 249.8C1120.9 248.3 1115.6 242.7 1113.8 239.8C1112.1 236.9 1109.1 227.7 1108.8 224.8C1108.5 221.9 1111 217.4 1111.3 214.8C1111.6 212.2 1110.2 206.4 1111.3 202.3Z" fill="#96D2FA"/>
<path d="M1286.1 45C1273 47.9 1285.5 64.7 1286.1 70C1286.7 75.2 1288.2 86.9 1291.1 89.9C1294 93 1305.8 95.2 1311.1 96.2C1316.3 97.2 1330.2 98.2 1336.1 98.7C1341.9 99.1 1353.8 99.5 1361 99.9C1368.3 100.4 1394.1 108.8 1398.5 102.4C1402.9 96 1411.6 51.7 1398.5 45C1385.4 38.3 1299.2 42.1 1286.1 45Z" fill="#96D2FA"/>
<path d="M1318 50C1300.5 56.4 1315.1 98.8 1318 104.9C1320.9 111 1337.2 102.6 1343 102.4C1348.8 102.3 1362.1 102.8 1368 103.7C1373.8 104.6 1387.1 108.6 1392.9 109.9C1398.8 111.2 1411.5 114 1417.9 114.9C1424.3 115.8 1444.7 115.4 1447.9 117.4C1451.1 119.5 1447.7 128.9 1445.4 132.4C1443 135.9 1432 143.6 1427.9 147.4C1423.8 151.2 1414.8 161.1 1410.4 164.9C1406 168.6 1394.5 176.3 1390.4 179.8C1386.4 183.3 1374.6 192.6 1375.4 194.8C1376.3 197 1392.4 198 1397.9 198.6C1403.5 199.2 1417.1 199.7 1422.9 199.8C1428.7 200 1442.6 200.7 1447.9 199.8C1453.1 198.9 1463.8 194.7 1467.8 192.3C1471.9 190 1479.3 182.5 1482.8 179.8C1486.3 177.2 1494 171.3 1497.8 169.9C1501.6 168.4 1510.3 167.5 1515.3 167.4C1520.2 167.2 1534.4 168.6 1540.3 168.6C1546.1 168.6 1560.9 168.7 1565.2 167.4C1569.6 166 1573.3 161.2 1577.7 157.4C1582.1 153.6 1595.4 136.9 1602.7 134.9C1610 132.9 1633.4 140.2 1640.1 139.9C1646.8 139.6 1655.8 134 1660.1 132.4C1664.5 130.8 1672.7 127.3 1677.6 126.2C1682.6 125 1697.3 123.4 1702.6 122.4C1707.8 121.4 1722.6 118.3 1722.6 117.4C1722.6 116.5 1709.3 115.4 1702.6 114.9C1695.9 114.5 1673.9 114.4 1665.1 113.7C1656.4 112.9 1634.9 109.8 1627.7 108.7C1620.4 107.5 1608.5 105 1602.7 103.7C1596.9 102.4 1583.5 98.7 1577.7 97.4C1571.9 96.1 1558.6 93.2 1552.7 92.4C1546.9 91.7 1533.6 91.2 1527.8 91.2C1521.9 91.2 1507.5 93.8 1502.8 92.4C1498.1 91.1 1490.7 83.2 1487.8 80C1484.9 76.8 1480.2 68.5 1477.8 65C1475.5 61.5 1486.5 51.7 1467.8 50C1449.2 48.2 1335.5 43.6 1318 50Z" fill="#96D2FA"/>
<path d="M1637.6 147.4C1639.1 143 1649.4 140.2 1652.6 139.9C1655.8 139.6 1664 142.6 1665.1 144.9C1666.3 147.2 1664.4 156.7 1662.6 159.9C1660.9 163.1 1652.8 170.3 1650.1 172.4C1647.5 174.4 1641.6 180.3 1640.1 177.3C1638.7 174.4 1636.2 151.7 1637.6 147.4Z" fill="#96D2FA"/>
<path d="M1272.4 257.4C1272.5 255.3 1275.9 249.5 1277.4 248.6C1278.8 247.7 1283.6 248.7 1284.9 249.9C1286.2 251 1288.6 256.7 1288.6 258.6C1288.6 260.5 1286.3 265.2 1284.9 266.1C1283.4 267 1277.6 267.1 1276.1 266.1C1274.7 265.1 1272.2 259.4 1272.4 257.4Z" fill="#96D2FA"/>
<path d="M1346.6 276.1C1347.1 275 1353.7 274.6 1354.8 275.3C1355.9 276.1 1356.6 281.2 1356 282.3C1355.5 283.4 1350.9 285.6 1349.8 284.8C1348.7 284.1 1346 277.2 1346.6 276.1Z" fill="#96D2FA"/>
<path d="M996.4 339.3C997.8 338.7 1007.5 338 1008.9 338.5C1010.3 339 1009.7 342.9 1008.4 343.5C1007.1 344.1 999.1 344.3 997.7 343.8C996.3 343.3 995.1 339.9 996.4 339.3Z" fill="#96D2FA"/>
<path d="M1345.5 277.2C1346.1 275.9 1353.1 275 1354.2 276C1355.4 277 1356.1 284.7 1355.5 286C1354.9 287.3 1350.4 288.2 1349.2 287.2C1348.1 286.2 1344.9 278.5 1345.5 277.2Z" fill="#96D2FA"/>
<path d="M1128.8 194.8C1129.1 191 1131.8 177.6 1133.8 172.4C1135.8 167.1 1143.1 154 1146.3 149.9C1149.5 145.8 1156.6 139 1161.3 137.4C1165.9 135.8 1180.4 135.8 1186.2 136.1C1192.1 136.4 1205.4 138.9 1211.2 139.9C1217 140.9 1230.3 143.6 1236.2 144.9C1242 146.2 1255.6 149.4 1261.1 151.1C1266.7 152.9 1279.8 157.7 1283.6 159.9C1287.4 162 1293.6 166.9 1293.6 169.9C1293.6 172.8 1286.5 181.3 1283.6 184.8C1280.7 188.3 1272.4 196.3 1268.6 199.8C1264.9 203.3 1255.5 211.9 1251.2 214.8C1246.8 217.7 1235.8 223 1231.2 224.8C1226.5 226.5 1215 228.3 1211.2 229.8C1207.4 231.2 1200.8 235.2 1198.7 237.3C1196.7 239.3 1195.5 245.8 1193.7 247.3C1192 248.7 1185.8 250.6 1183.7 249.8C1181.7 248.9 1177.4 242.7 1176.2 239.8C1175.1 236.9 1175.2 227.7 1173.7 224.8C1172.3 221.9 1167.3 216.6 1163.8 214.8C1160.3 213.1 1147.6 211 1143.8 209.8C1140 208.6 1133 206.6 1131.3 204.8C1129.5 203.1 1128.5 198.6 1128.8 194.8Z" fill="#50A5F5"/>
<path d="M1148.8 314.8C1147 311.3 1146 303.3 1146.3 299.8C1146.6 296.3 1149.5 286 1151.3 284.8C1153 283.7 1159.2 287.5 1161.3 289.8C1163.3 292.1 1166.7 301.3 1168.8 304.8C1170.8 308.3 1177 316.9 1178.7 319.8C1180.5 322.7 1184.3 327.7 1183.7 329.8C1183.2 331.8 1176.4 337.3 1173.7 337.3C1171.1 337.3 1164.2 332.4 1161.3 329.8C1158.3 327.2 1150.5 318.3 1148.8 314.8Z" fill="#50A5F5"/>
<path d="M1318.6 67.5C1319.5 66 1331.1 63.2 1336.1 62.5C1341 61.7 1353.8 61.5 1361 61.2C1368.3 60.9 1394.1 57.2 1398.5 60C1402.9 62.7 1401.4 82.2 1398.5 84.9C1395.6 87.7 1379.3 84.1 1373.5 83.7C1367.7 83.3 1353.8 82.2 1348.5 81.2C1343.3 80.2 1332.1 76.6 1328.6 75C1325.1 73.4 1317.7 68.9 1318.6 67.5Z" fill="#50A5F5"/>
<path d="M1318 57.5C1322.1 55.4 1344.5 57.3 1353 57.5C1361.4 57.6 1381.7 58.3 1390.4 58.7C1399.2 59.2 1420.6 60.5 1427.9 61.2C1435.2 62 1448.6 63.7 1452.9 65C1457.1 66.3 1462.9 70.6 1464.1 72.5C1465.3 74.4 1464.7 79.2 1462.8 81.2C1461 83.2 1451.9 88.5 1447.9 89.9C1443.8 91.4 1433.1 93.7 1427.9 93.7C1422.6 93.7 1408.7 91 1402.9 89.9C1397.1 88.9 1383.8 86.1 1377.9 84.9C1372.1 83.8 1360 81.1 1353 80C1346 78.8 1322.1 77.6 1318 75C1313.9 72.3 1313.9 59.5 1318 57.5Z" fill="#50A5F5"/>
<path d="M1432.9 179.8C1432 176.3 1435 162 1437.9 157.4C1440.8 152.7 1452.6 143.1 1457.9 139.9C1463.1 136.7 1477 131.6 1482.8 129.9C1488.7 128.2 1502.6 126.9 1507.8 124.9C1513 122.9 1523.4 114.5 1527.8 112.4C1532.1 110.4 1540.9 107.7 1545.3 107.4C1549.6 107.1 1560 109.5 1565.2 109.9C1570.5 110.4 1584.4 110.6 1590.2 111.2C1596 111.8 1609.3 114.2 1615.2 114.9C1621 115.6 1634.9 116.8 1640.1 117.4C1645.4 118 1658.7 118.9 1660.1 119.9C1661.6 120.9 1656.4 125.3 1652.6 126.2C1648.8 127 1633.5 127 1627.7 127.4C1621.8 127.8 1608.5 128.7 1602.7 129.9C1596.9 131.1 1582.1 135.4 1577.7 137.4C1573.3 139.4 1568.1 145.2 1565.2 147.4C1562.3 149.6 1557.1 155 1552.7 156.1C1548.4 157.3 1532.4 158.1 1527.8 157.4C1523.1 156.6 1515.7 151.9 1512.8 149.9C1509.9 147.8 1505.4 141.1 1502.8 139.9C1500.2 138.7 1492.1 138.1 1490.3 139.9C1488.6 141.6 1489.3 151.4 1487.8 154.9C1486.4 158.4 1480.7 166.6 1477.8 169.9C1474.9 173.1 1466.6 180.3 1462.8 182.3C1459.1 184.4 1448.9 187.6 1445.4 187.3C1441.9 187 1433.8 183.3 1432.9 179.8Z" fill="#50A5F5"/>
<path d="M1276.1 254.9C1276.4 253.5 1279 251.1 1279.9 251.1C1280.7 251.1 1283.3 253.5 1283.6 254.9C1283.9 256.2 1283.1 261.5 1282.4 262.4C1281.6 263.2 1278.1 263.2 1277.4 262.4C1276.7 261.5 1275.8 256.2 1276.1 254.9Z" fill="#50A5F5"/>
<path d="M1136.3 189.8C1136.3 186.3 1139 174.5 1141.3 169.9C1143.6 165.2 1152.5 152.9 1156.3 149.9C1160.1 146.8 1168.8 144.2 1173.7 143.6C1178.7 143.1 1192.9 144.2 1198.7 144.9C1204.5 145.6 1217.9 148.6 1223.7 149.9C1229.5 151.2 1242.8 154.4 1248.7 156.1C1254.5 157.9 1269.6 163 1273.6 164.9C1277.7 166.8 1283.6 170 1283.6 172.4C1283.6 174.7 1276.5 181.9 1273.6 184.8C1270.7 187.7 1262.4 194.4 1258.6 197.3C1254.9 200.2 1245.2 207.3 1241.2 209.8C1237.1 212.3 1227.8 217.1 1223.7 218.5C1219.6 220 1209.7 222.7 1206.2 222.3C1202.7 221.9 1197.5 216.3 1193.7 214.8C1189.9 213.3 1178.4 211 1173.7 209.8C1169.1 208.6 1157.6 206 1153.8 204.8C1150 203.6 1143.3 201.6 1141.3 199.8C1139.2 198.1 1136.3 193.3 1136.3 189.8Z" fill="#2882F0"/>
<path d="M1360.5 65C1360.5 64.1 1373 63.6 1377.9 63.7C1382.9 63.9 1400.9 65.5 1402.9 66.2C1405 66.9 1398.3 69.4 1395.4 70C1392.5 70.5 1382 71.8 1377.9 71.2C1373.9 70.6 1360.5 65.8 1360.5 65Z" fill="#2882F0"/>
<path d="M1358.5 63.7C1358.5 62.6 1373.9 61.5 1378.5 61.2C1383.2 60.9 1396.2 59.9 1398.5 61.2C1400.8 62.5 1400.8 71.3 1398.5 72.5C1396.2 73.6 1383.2 72.2 1378.5 71.2C1373.9 70.2 1358.5 64.9 1358.5 63.7Z" fill="#2882F0"/>
<circle cx="1454.1" cy="164.9" r="11.7" fill="#2882F0"/>
<circle cx="1549" cy="138.6" r="8.7" fill="#2882F0"/>
<path d="M1148.8 179.8C1148.5 176.6 1151.7 167.9 1153.8 164.9C1155.8 161.8 1162.5 155.4 1166.3 153.6C1170 151.9 1181 149.9 1186.2 149.9C1191.5 149.9 1205.4 152.5 1211.2 153.6C1217 154.8 1230.3 158.3 1236.2 159.9C1242 161.5 1257.7 165.8 1261.1 167.4C1264.6 169 1267 171.6 1266.1 173.6C1265.3 175.6 1257.2 182.4 1253.7 184.8C1250.2 187.3 1240.5 192.8 1236.2 194.8C1231.8 196.9 1221.2 201.2 1216.2 202.3C1211.2 203.5 1198.7 205.1 1193.7 204.8C1188.8 204.5 1178.1 201.3 1173.7 199.8C1169.4 198.4 1159.2 194.7 1156.3 192.3C1153.4 190 1149.1 183 1148.8 179.8Z" fill="#1464D2"/>
<path d="M959 132.4C962.2 119.9 980.9 124.4 986.5 122.4C992 120.4 1001.8 116.8 1006.4 114.9C1011.1 113 1021.5 107.9 1026.4 106.2C1031.4 104.4 1044.5 101.8 1048.9 99.9C1053.3 98 1061 92.3 1063.9 89.9C1066.8 87.6 1072.4 82.6 1073.9 80C1075.3 77.3 1074 69.5 1076.4 67.5C1078.7 65.5 1089.8 63.3 1093.8 63C1097.9 62.7 1107.2 63.3 1111.3 65C1115.4 66.7 1126.5 75.6 1128.8 77.5C1131.1 79.4 1132.2 80.2 1131.3 81.2C1130.4 82.2 1122.2 84.9 1121.3 86.2C1120.4 87.5 1124.7 90.8 1123.8 92.4C1122.9 94 1115.9 97.6 1113.8 99.9C1111.8 102.3 1106.9 109.5 1106.3 112.4C1105.7 115.3 1108.5 121.7 1108.8 124.9C1109.1 128.1 1109.4 136.1 1108.8 139.9C1108.2 143.7 1105 153.3 1103.8 157.4C1102.7 161.4 1100.6 171.4 1098.8 174.8C1097.1 178.3 1092.3 185 1088.8 187.3C1085.3 189.7 1074.1 193.7 1068.9 194.8C1063.6 196 1049.7 196.7 1043.9 197.3C1038.1 197.9 1024.2 199.5 1018.9 199.8C1013.7 200.1 1002.7 199.5 998.9 199.8C995.2 200.1 988.2 200.9 986.5 202.3C984.7 203.8 983.1 210.3 984 212.3C984.8 214.3 991.6 217.8 993.9 219.8C996.3 221.8 1002.5 227.7 1003.9 229.8C1005.4 231.8 1007.6 236.1 1006.4 237.3C1005.3 238.4 997.2 240.1 993.9 239.8C990.7 239.5 983 235.9 979 234.8C974.9 233.6 961.3 241.7 959 229.8C956.7 217.8 955.8 144.9 959 132.4Z" fill="#FFFAAA"/>
<path d="M959 179.8C961.3 173.7 975.5 172.5 979 169.9C982.5 167.2 987.5 160.6 989 157.4C990.4 154.2 990.9 145.3 991.5 142.4C992 139.5 991.9 134.4 993.9 132.4C996 130.4 1004.9 126.4 1008.9 124.9C1013 123.4 1024.2 121.1 1028.9 119.9C1033.6 118.7 1044.8 116.4 1048.9 114.9C1053 113.5 1060.7 109.5 1063.9 107.4C1067.1 105.4 1074 100.1 1076.4 97.4C1078.7 94.8 1082.1 86.7 1083.8 84.9C1085.6 83.2 1089.6 81.9 1091.3 82.5C1093.1 83 1097.7 87.3 1098.8 89.9C1100 92.6 1101 101.1 1101.3 104.9C1101.6 108.7 1101.6 118.3 1101.3 122.4C1101 126.5 1099.4 135.8 1098.8 139.9C1098.2 144 1097.2 153.3 1096.3 157.4C1095.5 161.4 1093.1 171.6 1091.3 174.8C1089.6 178.1 1084.8 183.1 1081.4 184.8C1077.9 186.6 1066.6 189.1 1061.4 189.8C1056.1 190.6 1042.2 190.9 1036.4 191.1C1030.6 191.2 1016.7 190.9 1011.4 191.1C1006.2 191.2 995.2 191.6 991.5 192.3C987.7 193.1 981 195.6 979 197.3C976.9 199.1 973.7 205.3 974 207.3C974.3 209.4 983.2 213.1 981.5 214.8C979.7 216.6 961.6 226.4 959 222.3C956.4 218.2 956.7 186 959 179.8Z" fill="#FFC03C"/>
<path d="M976.5 184.8C975.6 183.5 984.4 177.8 986.5 174.8C988.5 171.9 993.1 163.4 993.9 159.9C994.8 156.4 993.4 147.8 993.9 144.9C994.5 142 996.6 136.8 998.9 134.9C1001.3 133 1010.1 129.7 1013.9 128.6C1017.7 127.6 1027.9 126 1031.4 126.2C1034.9 126.3 1041.3 130 1043.9 129.9C1046.5 129.8 1052.1 126.7 1053.9 124.9C1055.6 123.2 1057.1 117 1058.9 114.9C1060.6 112.9 1066.2 108.2 1068.9 107.4C1071.5 106.7 1078.7 107.5 1081.4 108.7C1084 109.8 1090.2 114.4 1091.3 117.4C1092.5 120.5 1091.6 130.8 1091.3 134.9C1091 139 1089.7 148.6 1088.8 152.4C1088 156.2 1085.6 164.4 1083.8 167.4C1082.1 170.3 1077.1 175.6 1073.9 177.3C1070.7 179.1 1060.7 181.6 1056.4 182.3C1052 183.1 1041.4 183.3 1036.4 183.6C1031.4 183.9 1018.9 184.5 1013.9 184.8C1009 185.1 998.3 186.1 993.9 186.1C989.6 186.1 977.3 186.1 976.5 184.8Z" fill="#FF6000"/>
<path d="M1041.4 139.9C1041.8 138 1047.1 134.9 1048.9 134.9C1050.6 134.9 1055.8 138.1 1056.4 139.9C1057 141.6 1055.2 148.6 1053.9 149.9C1052.6 151.2 1046.6 152.3 1045.1 151.1C1043.7 150 1041 141.8 1041.4 139.9Z" fill="#FFC03C"/>
<path d="M996.4 172.4C996.7 170.7 1002.2 164.7 1003.9 162.4C1005.7 160 1010.3 155 1011.4 152.4C1012.6 149.8 1012.8 142.1 1013.9 139.9C1015.1 137.7 1019.4 134.2 1021.4 133.6C1023.5 133.1 1029.8 133.6 1031.4 134.9C1033 136.2 1034.9 142.7 1035.2 144.9C1035.4 147.1 1032.9 152.3 1033.9 153.6C1034.9 154.9 1041 156.1 1043.9 156.1C1046.8 156.1 1055.7 154.3 1058.9 153.6C1062.1 152.9 1069.6 149.4 1071.4 149.9C1073.1 150.3 1074.4 155.3 1073.9 157.4C1073.3 159.4 1069 165.5 1066.4 167.4C1063.7 169.2 1055.2 172.4 1051.4 173.6C1047.6 174.8 1038.3 176.9 1033.9 177.3C1029.5 177.8 1017.7 177.4 1013.9 177.3C1010.1 177.3 1003.5 177.4 1001.4 176.8C999.4 176.3 996.2 174 996.4 172.4Z" fill="#E11400"/>
<path d="M1186.2 279.8C1186.2 276.3 1193 270 1196.2 267.3C1199.4 264.7 1210.5 258.8 1213.7 257.4C1216.9 255.9 1220.2 254.3 1223.7 254.9C1227.2 255.4 1240.2 260 1243.7 262.4C1247.2 264.7 1252.5 271.3 1253.7 274.8C1254.8 278.3 1254.5 288.8 1253.7 292.3C1252.8 295.8 1249.1 302.6 1246.2 304.8C1243.3 307 1232.8 310.8 1228.7 311C1224.6 311.3 1215 308.9 1211.2 307.3C1207.4 305.7 1199.1 300.5 1196.2 297.3C1193.3 294.1 1186.2 283.3 1186.2 279.8Z" fill="#FFFAAA"/>
<path d="M1191.2 282.3C1191.2 279.6 1195.8 273 1198.7 271.1C1201.6 269.2 1211 266.7 1216.2 266.1C1221.4 265.5 1239.6 264.5 1243.7 266.1C1247.7 267.7 1250.3 276.8 1251.2 279.8C1252 282.9 1252 289.7 1251.2 292.3C1250.3 294.9 1246.3 300.6 1243.7 302.3C1241 304.1 1232.5 307 1228.7 307.3C1224.9 307.6 1214.7 306.3 1211.2 304.8C1207.7 303.3 1201 297.4 1198.7 294.8C1196.4 292.2 1191.2 285.1 1191.2 282.3Z" fill="#FFC03C"/>
<path d="M1221.2 282.3C1221.9 280.4 1226.4 275.7 1228.7 274.8C1231 274 1239 273.7 1241.2 274.8C1243.4 276 1247.1 282.6 1247.4 284.8C1247.7 287 1245.6 292.3 1243.7 293.6C1241.8 294.9 1233.7 296.4 1231.2 296.1C1228.7 295.8 1223.6 292.7 1222.4 291.1C1221.3 289.5 1220.5 284.2 1221.2 282.3Z" fill="#FF6000"/>
<circle cx="1234.2" cy="287.8" r="2" fill="#E11400"/>
<path d="M1271.1 237.4C1270.3 235.6 1282 227.2 1286.1 224.9C1290.2 222.6 1301.1 218.9 1306.1 217.4C1311 215.9 1323.6 212.4 1328.6 212.4C1333.5 212.4 1343.6 214.8 1348.5 217.4C1353.5 220 1369.6 232 1371 234.9C1372.5 237.8 1364.2 241.5 1361 242.4C1357.8 243.2 1346.2 240.9 1343.6 242.4C1340.9 243.8 1340.9 252.2 1338.6 254.9C1336.2 257.5 1326.2 262.5 1323.6 264.8C1321 267.2 1316.1 272.5 1316.1 274.8C1316.1 277.2 1322.4 282.8 1323.6 284.8C1324.7 286.9 1326.7 291.2 1326.1 292.3C1325.5 293.5 1320.6 295.7 1318.6 294.8C1316.5 293.9 1310.9 287.2 1308.6 284.8C1306.3 282.5 1300.1 278.3 1298.6 274.8C1297.1 271.3 1296.7 258.9 1296.1 254.9C1295.5 250.8 1296.5 241.9 1293.6 239.9C1290.7 237.8 1272 239.1 1271.1 237.4Z" fill="#FFFAAA"/>
<path d="M1298.6 237.4C1300.6 234.5 1314.8 236 1318.6 234.9C1322.4 233.7 1328.4 227.7 1331.1 227.4C1333.7 227.1 1340.2 230.3 1341.1 232.4C1341.9 234.4 1340.6 242.2 1338.6 244.9C1336.5 247.5 1326.8 253.1 1323.6 254.9C1320.4 256.6 1313.7 259.3 1311.1 259.9C1308.5 260.4 1302.6 262.5 1301.1 259.9C1299.6 257.2 1296.6 240.3 1298.6 237.4Z" fill="#FFC03C"/>
<circle cx="1310.6" cy="248.6" r="2.5" fill="#FF6000"/>
<path d="M1306.1 197.4C1307.3 195.7 1319 194.1 1321.1 195.4C1323.1 196.7 1324.7 206.9 1323.6 208.7C1322.4 210.4 1313.1 211.7 1311.1 210.4C1309.1 209.1 1304.9 199.2 1306.1 197.4Z" fill="#FFFAAA"/>
<path d="M1028.9 283.6C1029.8 282.7 1036.5 282.1 1037.6 282.8C1038.8 283.6 1039.8 288.9 1038.9 289.8C1038 290.7 1031.3 291 1030.2 290.3C1029 289.6 1028 284.5 1028.9 283.6Z" fill="#FFFAAA"/>
<path d="M1447.9 274.7C1447.3 272.7 1450.5 267.1 1452.9 264.7C1455.2 262.4 1464.3 257.1 1467.8 254.8C1471.3 252.4 1480.8 247.7 1482.8 244.8C1484.9 241.9 1485.2 233.3 1485.3 229.8C1485.5 226.3 1483.8 218 1484.1 214.8C1484.4 211.6 1485.6 204.4 1487.8 202.3C1490 200.3 1499.3 197.8 1502.8 197.3C1506.3 196.9 1513.4 198.9 1517.8 198.6C1522.2 198.3 1535.6 195.8 1540.3 194.8C1544.9 193.8 1554.5 191.3 1557.7 189.8C1560.9 188.4 1565.4 183.5 1567.7 182.3C1570.1 181.2 1574.8 180.6 1577.7 179.8C1580.6 179.1 1589.2 175.5 1592.7 176.1C1596.2 176.7 1605.1 182.4 1607.7 184.8C1610.3 187.3 1614.9 193.8 1615.2 197.3C1615.5 200.8 1611.2 210.4 1610.2 214.8C1609.2 219.2 1606.6 230.4 1606.4 234.8C1606.3 239.1 1608.3 249.1 1608.9 252.3C1609.5 255.5 1613.6 260.5 1611.4 262.2C1609.2 264 1595.6 265.8 1590.2 267.2C1584.8 268.7 1571.1 273 1565.2 274.7C1559.4 276.5 1545.2 280.5 1540.3 282.2C1535.3 284 1526.6 288 1522.8 289.7C1519 291.5 1511.3 296.9 1507.8 297.2C1504.3 297.5 1496.3 293.7 1492.8 292.2C1489.3 290.8 1481.9 285.9 1477.8 284.7C1473.8 283.6 1461.3 283.4 1457.9 282.2C1454.4 281.1 1448.4 276.8 1447.9 274.7Z" fill="#FFFAAA"/>
<path d="M1475.3 259.8C1476.2 257.7 1485.5 250.5 1487.8 247.3C1490.1 244.1 1493.9 235.8 1495.3 232.3C1496.8 228.8 1498.3 220.2 1500.3 217.3C1502.3 214.4 1509 209.1 1512.8 207.3C1516.6 205.6 1528.1 203.2 1532.8 202.3C1537.4 201.4 1548.7 201 1552.7 199.8C1556.8 198.7 1564.5 193.8 1567.7 192.3C1570.9 190.9 1577.3 187.6 1580.2 187.3C1583.1 187 1590.4 188.1 1592.7 189.8C1595 191.6 1599.3 198.8 1600.2 202.3C1601.1 205.8 1600.8 216 1600.2 219.8C1599.6 223.6 1596.7 231.9 1595.2 234.8C1593.7 237.7 1590.3 242.7 1587.7 244.8C1585.1 246.8 1576.2 250.5 1572.7 252.3C1569.2 254 1561.2 257.7 1557.7 259.8C1554.2 261.8 1546.3 267.7 1542.8 269.7C1539.3 271.8 1531.6 276.6 1527.8 277.2C1524 277.8 1514.4 275.6 1510.3 274.7C1506.2 273.9 1496.3 270.9 1492.8 269.7C1489.3 268.6 1482.4 265.9 1480.3 264.7C1478.3 263.6 1474.5 261.8 1475.3 259.8Z" fill="#FFC03C"/>
<path d="M1490.3 259.8C1489.7 257.3 1496.4 248.3 1497.8 244.8C1499.3 241.3 1501.3 233 1502.8 229.8C1504.3 226.6 1508 219.8 1510.3 217.3C1512.6 214.8 1519.3 210.2 1522.8 208.6C1526.3 207 1537.1 204 1540.3 203.6C1543.5 203.1 1549.4 203.5 1550.2 204.8C1551.1 206.1 1548.6 212.2 1547.8 214.8C1546.9 217.4 1543 224.4 1542.8 227.3C1542.5 230.2 1544.1 237.2 1545.3 239.8C1546.4 242.4 1552.2 247.4 1552.7 249.8C1553.3 252.1 1552 258 1550.2 259.8C1548.5 261.5 1541.3 263.9 1537.8 264.7C1534.3 265.6 1524.4 267.1 1520.3 267.2C1516.2 267.4 1506.3 266.9 1502.8 266C1499.3 265.1 1490.9 262.2 1490.3 259.8Z" fill="#FF6000"/>
<path d="M1567.7 224.8C1569.2 221 1573.8 214.9 1575.2 212.3C1576.7 209.7 1578.8 202.6 1580.2 202.3C1581.7 202 1586.2 207.8 1587.7 209.8C1589.2 211.8 1593 217.5 1592.7 219.8C1592.4 222.1 1587 227.5 1585.2 229.8C1583.5 232.1 1579.2 237.2 1577.7 239.8C1576.3 242.4 1574.2 250.2 1572.7 252.3C1571.3 254.3 1566.4 258.1 1565.2 257.3C1564.1 256.4 1562.4 248.6 1562.7 244.8C1563 241 1566.3 228.6 1567.7 224.8Z" fill="#FF6000"/>
<path d="M1510.3 254.8C1508.8 252.3 1507.5 243.3 1507.8 239.8C1508.1 236.3 1511 227.7 1512.8 224.8C1514.5 221.9 1519.9 216.7 1522.8 214.8C1525.7 212.9 1534.8 209.1 1537.8 208.6C1540.7 208 1547.2 208.5 1547.8 209.8C1548.3 211.1 1544.2 217.5 1542.8 219.8C1541.3 222.1 1537 227.5 1535.3 229.8C1533.5 232.1 1528.4 237.2 1527.8 239.8C1527.2 242.4 1528.8 250.2 1530.3 252.3C1531.7 254.3 1538.2 256.1 1540.3 257.3C1542.3 258.4 1548.6 261.5 1547.8 262.2C1546.9 263 1536 263.6 1532.8 263.5C1529.6 263.4 1522.9 262 1520.3 261C1517.7 260 1511.8 257.2 1510.3 254.8Z" fill="#E11400"/>
<path d="M1645.1 92.4C1646.6 91 1659.9 84.2 1665.1 82.5C1670.4 80.7 1684.3 78.6 1690.1 77.5C1695.9 76.3 1707.8 73.3 1715.1 72.5C1722.3 71.6 1748.1 66.6 1752.5 70C1756.9 73.3 1756.9 97.8 1752.5 101.2C1748.1 104.5 1723.8 99.3 1715.1 98.7C1706.3 98.1 1684.9 96.6 1677.6 96.2C1670.3 95.7 1656.4 95.4 1652.6 94.9C1648.8 94.5 1643.7 93.9 1645.1 92.4Z" fill="#FFFAAA"/>
<path d="M1707.6 80C1708.4 78.6 1717.3 77.9 1722.6 77.5C1727.8 77 1749 74.6 1752.5 76.2C1756 77.8 1755.4 89.4 1752.5 91.2C1749.6 93 1731.9 92.2 1727.5 91.9C1723.2 91.6 1717.4 90.1 1715.1 88.7C1712.7 87.3 1706.7 81.3 1707.6 80Z" fill="#FFC03C"/>
<path d="M1682.6 234.8C1683.5 232.2 1693.5 222.4 1697.6 219.8C1701.7 217.2 1711.1 213.6 1717.6 212.3C1724 211 1748.4 202.9 1752.5 208.6C1756.6 214.2 1756 255.3 1752.5 261C1749 266.7 1728.4 258.6 1722.6 257.3C1716.7 255.9 1706.4 251.5 1702.6 249.8C1698.8 248 1692.4 244 1690.1 242.3C1687.8 240.5 1681.7 237.4 1682.6 234.8Z" fill="#FFFAAA"/>
<path d="M1715.1 224.8C1716.2 223.2 1723.2 221.6 1727.5 221C1731.9 220.5 1749.6 218 1752.5 220.3C1755.4 222.6 1755.4 238.8 1752.5 241C1749.6 243.3 1731.6 240.5 1727.5 239.8C1723.5 239 1719 236.5 1717.6 234.8C1716.1 233 1713.9 226.4 1715.1 224.8Z" fill="#FFC03C"/>
<path d="M1318 214.8C1320.9 209.8 1338.3 213.9 1343 214.8C1347.6 215.7 1354.8 220 1358 222.3C1361.2 224.6 1369.9 232.2 1370.5 234.8C1371 237.4 1365.6 242.7 1363 244.8C1360.3 246.8 1353.2 250.8 1348 252.3C1342.7 253.7 1321.5 261.6 1318 257.3C1314.5 252.9 1315.1 219.8 1318 214.8Z" fill="#FFFAAA"/>
<path d="M1318 229.8C1319.5 227.2 1328 230.5 1330.5 231C1333 231.6 1338.1 233.6 1339.2 234.8C1340.4 235.9 1341.2 239.3 1340.5 241C1339.8 242.8 1335.6 248.3 1333 249.8C1330.4 251.2 1319.8 255.8 1318 253.5C1316.3 251.2 1316.6 232.4 1318 229.8Z" fill="#FFC03C"/>
<path d="M1394.2 237.3C1396.4 235.7 1410.4 234.9 1412.9 236C1415.4 237.2 1416.3 245.2 1415.4 247.3C1414.5 249.3 1407.9 253.2 1405.4 253.5C1402.9 253.8 1395.5 251.7 1394.2 249.8C1392.9 247.9 1392 238.9 1394.2 237.3Z" fill="#FFFAAA"/>
</g>
<g clip-path="url(#clc)">
<use href="#coast" x="889.1" y="0"/>
<path d="M1190 282.3C1189.8 279.3 1193.5 271.9 1196.2 269.8C1199 267.8 1209.6 265.4 1213.7 264.8C1217.8 264.3 1227.4 264.7 1231.2 264.8C1235 265 1243.8 264.3 1246.2 266.1C1248.5 267.8 1250.4 276.8 1251.2 279.8C1251.9 282.9 1253 289.5 1252.4 292.3C1251.8 295.1 1248.9 301.5 1246.2 303.6C1243.4 305.6 1232.8 309.5 1228.7 309.8C1224.6 310.1 1214.8 307.7 1211.2 306.1C1207.6 304.4 1199.9 298.8 1197.5 296.1C1195 293.3 1190.1 285.4 1190 282.3Z" class="sol"/>
<path d="M1298.6 237.4C1300.9 235.2 1314.8 237.4 1318.6 236.1C1322.4 234.8 1328.3 226.6 1331.1 226.1C1333.8 225.7 1341.3 230.2 1342.3 232.4C1343.3 234.6 1341.7 242.2 1339.8 244.9C1337.9 247.5 1329.1 252.8 1326.1 254.9C1323 256.9 1315.3 260 1313.6 262.4C1311.8 264.7 1310.2 272.5 1311.1 274.8C1312 277.2 1319.3 280.3 1321.1 282.3C1322.8 284.4 1326.2 290.7 1326.1 292.3C1325.9 293.9 1321.9 296.8 1319.8 296.1C1317.8 295.3 1310.9 288.3 1308.6 286.1C1306.3 283.9 1301 281 1299.9 277.3C1298.7 273.7 1298.8 259.5 1298.6 254.9C1298.5 250.2 1296.3 239.6 1298.6 237.4Z" class="sol"/>
<path d="M1447.9 274.7C1447.3 272.7 1450.5 267.1 1452.9 264.7C1455.2 262.4 1464.3 257.1 1467.8 254.8C1471.3 252.4 1480.2 247.7 1482.8 244.8C1485.4 241.9 1488.6 233.3 1490.3 229.8C1492.1 226.3 1495.8 217.7 1497.8 214.8C1499.8 211.9 1504.9 206.6 1507.8 204.8C1510.7 203.1 1519 201 1522.8 199.8C1526.6 198.7 1536.2 196 1540.3 194.8C1544.3 193.7 1554.5 191.3 1557.7 189.8C1560.9 188.4 1565.4 183.5 1567.7 182.3C1570.1 181.2 1574.8 180.6 1577.7 179.8C1580.6 179.1 1589.2 175.5 1592.7 176.1C1596.2 176.7 1605.1 182.4 1607.7 184.8C1610.3 187.3 1614.9 193.8 1615.2 197.3C1615.5 200.8 1611.2 210.4 1610.2 214.8C1609.2 219.2 1606.6 230.4 1606.4 234.8C1606.3 239.1 1608.3 249.1 1608.9 252.3C1609.5 255.5 1613.6 260.5 1611.4 262.2C1609.2 264 1595.6 265.8 1590.2 267.2C1584.8 268.7 1571.1 273 1565.2 274.7C1559.4 276.5 1545.2 280.5 1540.3 282.2C1535.3 284 1526.6 288 1522.8 289.7C1519 291.5 1511.3 296.9 1507.8 297.2C1504.3 297.5 1496.3 293.7 1492.8 292.2C1489.3 290.8 1481.9 285.9 1477.8 284.7C1473.8 283.6 1461.3 283.4 1457.9 282.2C1454.4 281.1 1448.4 276.8 1447.9 274.7Z" class="sol"/>
<path d="M1707.6 80C1708.4 78.6 1719.1 77.7 1722.6 77.5C1726 77.2 1735.8 76.6 1737.5 77.5C1739.3 78.3 1738.7 83.3 1737.5 84.9C1736.4 86.6 1730.2 91.5 1727.5 91.9C1724.9 92.4 1717.4 90.1 1715.1 88.7C1712.7 87.3 1706.7 81.3 1707.6 80Z" class="sol"/>
<path d="M1747.5 209.8C1744.6 210.1 1727.5 211.1 1722.6 212.3C1717.6 213.5 1708.3 217.2 1705.1 219.8C1701.9 222.4 1695.4 231.6 1695.1 234.8C1694.8 238 1701.1 244.9 1702.6 247.3C1704 249.6 1707.6 252.7 1707.6 254.8C1707.6 256.8 1702 262.7 1702.6 264.7C1703.2 266.8 1709.7 271.4 1712.6 272.2C1715.5 273.1 1723.5 273 1727.5 272.2C1731.6 271.5 1745.2 266.7 1747.5 266" class="sol"/>
<path d="M1323 227.3C1324.5 227.7 1333.3 229.6 1335.5 231C1337.7 232.5 1341.7 237.6 1341.7 239.8C1341.7 242 1337.7 248.1 1335.5 249.8C1333.3 251.5 1324.5 253.7 1323 254.3" class="sol"/>
<path d="M956.5 132.9C958.2 132.4 968 129.8 971.5 128.9C975 128 982.1 126 986.5 124.9C990.8 123.9 1003.7 121.1 1008.9 119.9C1014.2 118.7 1026.2 116.1 1031.4 114.9C1036.7 113.7 1049.5 111.4 1053.9 109.9C1058.3 108.5 1066 104.5 1068.9 102.4C1071.8 100.4 1077.7 95.4 1078.9 92.4C1080 89.5 1079.1 80.5 1078.9 77.5C1078.6 74.4 1074.6 67.9 1076.4 66.2C1078.1 64.5 1089.8 63 1093.8 63C1097.9 63 1107.4 64.5 1111.3 66.2C1115.2 67.9 1127.3 75.7 1127.5 77.5C1127.8 79.2 1117.5 80.6 1113.8 81.2C1110.2 81.8 1097.8 80 1096.3 82.5C1094.9 84.9 1101 97.8 1101.3 102.4C1101.6 107.1 1099.7 118 1098.8 122.4C1098 126.8 1094.4 135.5 1093.8 139.9C1093.3 144.3 1094.1 155.8 1093.8 159.9C1093.5 163.9 1093.1 171.9 1091.3 174.8C1089.6 177.8 1082.6 183.1 1078.9 184.8C1075.1 186.6 1063.8 189.5 1058.9 189.8C1053.9 190.1 1041.4 187.3 1036.4 187.3C1031.4 187.3 1021.4 189.5 1016.4 189.8C1011.5 190.1 998.3 189.4 993.9 189.8C989.6 190.3 981.3 191.8 979 193.6C976.6 195.3 973.7 202.3 974 204.8C974.3 207.3 978.8 213.1 981.5 214.8C984.1 216.6 993.8 218 996.4 219.8C999.1 221.5 1002.8 227.7 1003.9 229.8C1005.1 231.8 1007.3 236.1 1006.4 237.3C1005.6 238.4 999.4 240.1 996.4 239.8C993.5 239.5 984.4 236.7 981.5 234.8C978.5 232.9 974.4 226.2 971.5 223.5C968.6 220.9 958.2 213.6 956.5 212.3" class="sol"/>
<path d="M1587.7 341L1618.9 341.3" stroke="#000" stroke-width="4" fill="none"/>
<path d="M1392.9 184.8C1393.8 183.1 1400 179.1 1402.9 177.3C1405.8 175.6 1415 172.2 1417.9 169.9C1420.8 167.5 1425.6 160.3 1427.9 157.4C1430.2 154.5 1435 147.5 1437.9 144.9C1440.8 142.3 1448.8 137.1 1452.9 134.9C1456.9 132.7 1468.2 127.5 1472.8 126.2C1477.5 124.8 1488.2 124.4 1492.8 123.7C1497.5 122.9 1508.7 121.5 1512.8 119.9C1516.9 118.3 1524.3 111.8 1527.8 109.9C1531.3 108 1538.4 104.6 1542.8 103.7C1547.1 102.8 1559.7 102.3 1565.2 102.4C1570.8 102.6 1584.4 104.2 1590.2 104.9C1596 105.7 1609.3 108.1 1615.2 108.7C1621 109.3 1634.3 109.6 1640.1 109.9C1646 110.2 1659.3 110.9 1665.1 111.2C1670.9 111.5 1684.3 112 1690.1 112.4C1695.9 112.9 1710.7 114.3 1715.1 114.9C1719.4 115.5 1729 116.2 1727.5 117.4C1726.1 118.6 1706.4 122.3 1702.6 124.9C1698.8 127.5 1696.8 136.4 1695.1 139.9C1693.3 143.4 1690.2 151.7 1687.6 154.9C1685 158.1 1676.7 164.7 1672.6 167.4C1668.5 170 1656.4 175.6 1652.6 177.3C1648.8 179.1 1643.6 182.9 1640.1 182.3C1636.7 181.8 1626.5 174.7 1622.7 172.4C1618.9 170 1610.9 164.1 1607.7 162.4C1604.5 160.6 1598.7 157.7 1595.2 157.4C1591.7 157.1 1581.2 158.7 1577.7 159.9C1574.2 161 1568.7 166 1565.2 167.4C1561.7 168.7 1552.1 170.7 1547.8 171.1C1543.4 171.5 1532.1 171.4 1527.8 171.1C1523.4 170.8 1513.8 169.2 1510.3 168.6C1506.8 168 1500.7 165.7 1497.8 166.1C1494.9 166.5 1488.2 170.5 1485.3 172.4C1482.4 174.2 1476 180.3 1472.8 182.3C1469.6 184.4 1461.9 188.7 1457.9 189.8C1453.8 191 1442.8 191.9 1437.9 192.3C1432.9 192.8 1419.5 193.1 1415.4 193.6C1411.3 194 1405.2 196.2 1402.9 196.1C1400.6 195.9 1396.6 193.6 1395.4 192.3C1394.3 191 1392.1 186.6 1392.9 184.8Z" class="dsh"/>
<path d="M1366 280.3C1366 281.5 1365 284.3 1364.2 285.3C1363.5 286.4 1360.7 288.6 1359.3 289.3C1357.8 290 1353.8 291.3 1352 291.5C1350.3 291.8 1345.8 291.8 1344 291.5C1342.3 291.3 1338.3 290 1336.8 289.3C1335.4 288.6 1332.6 286.4 1331.8 285.3C1331.1 284.3 1330.1 281.5 1330.1 280.3C1330.1 279.2 1331.1 276.4 1331.8 275.3C1332.6 274.3 1335.4 272.1 1336.8 271.3C1338.3 270.6 1342.3 269.4 1344 269.1C1345.8 268.9 1350.3 268.9 1352 269.1C1353.8 269.4 1357.8 270.6 1359.3 271.3C1360.7 272.1 1363.5 274.3 1364.2 275.3C1365 276.4 1366 279.2 1366 280.3Z" class="dsh"/>
<path d="M1285.1 257.9C1285.1 258.8 1284.8 260.9 1284.5 261.8C1284.3 262.6 1283.3 264.3 1282.9 264.9C1282.4 265.5 1281.1 266.4 1280.5 266.6C1279.9 266.8 1278.4 266.8 1277.8 266.6C1277.2 266.4 1275.9 265.5 1275.4 264.9C1274.9 264.3 1274 262.6 1273.7 261.8C1273.5 260.9 1273.1 258.8 1273.1 257.9C1273.1 256.9 1273.5 254.8 1273.7 254C1274 253.1 1274.9 251.4 1275.4 250.8C1275.9 250.3 1277.2 249.3 1277.8 249.1C1278.4 248.9 1279.9 248.9 1280.5 249.1C1281.1 249.3 1282.4 250.3 1282.9 250.8C1283.3 251.4 1284.3 253.1 1284.5 254C1284.8 254.8 1285.1 256.9 1285.1 257.9Z" class="dsh"/>
<path d="M1365.5 280.2C1365.5 281.3 1364.5 283.8 1363.7 284.8C1363 285.7 1360.3 287.8 1358.9 288.4C1357.5 289.1 1353.6 290.2 1351.9 290.5C1350.1 290.7 1345.8 290.7 1344.1 290.5C1342.4 290.2 1338.5 289.1 1337.1 288.4C1335.7 287.8 1333 285.7 1332.2 284.8C1331.5 283.8 1330.5 281.3 1330.5 280.2C1330.5 279.2 1331.5 276.6 1332.2 275.7C1333 274.7 1335.7 272.7 1337.1 272C1338.5 271.4 1342.4 270.2 1344.1 270C1345.8 269.8 1350.1 269.8 1351.9 270C1353.6 270.2 1357.5 271.4 1358.9 272C1360.3 272.7 1363 274.7 1363.7 275.7C1364.5 276.6 1365.5 279.2 1365.5 280.2Z" class="dsh"/>
<path d="M1597.7 299.8C1598 298.1 1599.8 294.4 1602.7 292.3C1605.6 290.3 1618 284.5 1622.7 282.3C1627.3 280.1 1638.3 273.3 1642.6 273.6C1647 273.9 1659.3 282.3 1660.1 284.8C1661 287.3 1653.9 292.5 1650.1 294.8C1646.3 297.1 1632.3 302.9 1627.7 304.8C1623 306.7 1613.4 310.8 1610.2 311C1607 311.3 1601.6 308.6 1600.2 307.3C1598.7 306 1597.4 301.6 1597.7 299.8Z" class="dsh"/>
<path d="M1680.1 343.5C1680.1 341.6 1685.8 336 1687.6 336C1689.3 336 1695.1 341.6 1695.1 343.5C1695.1 345.4 1689.3 352.2 1687.6 352.2C1685.8 352.2 1680.1 345.4 1680.1 343.5Z" class="dsh"/>
<path d="M1365.5 327.3C1366.5 325.7 1373.6 319.8 1375.4 319.8C1377.3 319.8 1381.7 325.2 1381.7 327.3C1381.7 329.3 1377.2 336.5 1375.4 337.3C1373.7 338 1367.9 334.7 1366.7 333.5C1365.5 332.4 1364.4 328.9 1365.5 327.3Z" class="dsh"/>
<path d="M1326.1 157.4C1324.6 156.9 1317.4 154.3 1313.6 153.6C1309.8 152.9 1298.3 151.9 1293.6 151.1C1288.9 150.4 1278 148.4 1273.6 147.4C1269.3 146.4 1259.4 144.1 1256.2 142.4C1252.9 140.6 1250 134.1 1246.2 132.4C1242.4 130.6 1229.2 128.1 1223.7 127.4C1218.2 126.7 1204 126.4 1198.7 126.2C1193.5 125.9 1183.4 124.6 1178.7 124.9C1174.1 125.2 1162.6 126.9 1158.8 128.6C1155 130.4 1148.9 136.8 1146.3 139.9C1143.7 142.9 1138.3 151.1 1136.3 154.9C1134.2 158.7 1130.5 168.3 1128.8 172.4C1127 176.4 1123.3 186 1121.3 189.8C1119.3 193.6 1113.4 201.3 1111.3 204.8C1109.3 208.3 1104.1 216 1103.8 219.8C1103.5 223.6 1108.2 233.5 1108.8 237.3C1109.4 241.1 1110 249.5 1108.8 252.3C1107.7 255 1102.3 259.8 1098.8 261C1095.3 262.2 1083.2 262.9 1078.9 262.7C1074.5 262.6 1064.1 260.7 1061.4 259.8C1058.6 258.8 1055.9 255.3 1055.1 254.8" class="dsh"/>
<path d="M1323.6 158C1321.8 158.8 1312.1 162.7 1308.6 165C1305.1 167.2 1297.1 174 1293.6 177.4C1290.1 180.9 1282.4 190.8 1278.6 194.9C1274.8 199 1265.2 209.2 1261.1 212.4C1257.1 215.6 1248 220.6 1243.7 222.4C1239.3 224.1 1227.8 225.9 1223.7 227.4C1219.6 228.8 1211.3 232.6 1208.7 234.9C1206.1 237.2 1203.5 245 1201.2 247.4C1198.9 249.7 1191.4 253.4 1188.7 254.9C1186.1 256.3 1180.5 257.5 1178.7 259.9C1177 262.2 1174 271 1173.7 274.8C1173.5 278.6 1174.5 288.5 1176.2 292.3C1178 296.1 1185.8 303.8 1188.7 307.3C1191.6 310.8 1200 318.5 1201.2 322.3C1202.4 326.1 1200.5 336.3 1198.7 339.8C1197 343.3 1189.1 349.9 1186.2 352.2C1183.3 354.6 1176.7 359.4 1173.7 359.7C1170.8 360 1164.2 356.5 1161.3 354.7C1158.3 353 1151.4 347.4 1148.8 344.8C1146.2 342.1 1141.1 335.5 1138.8 332.3C1136.5 329.1 1130.8 320.8 1128.8 317.3C1126.8 313.8 1123.1 305.8 1121.3 302.3C1119.6 298.8 1115.3 290.8 1113.8 287.3C1112.4 283.8 1108.8 275 1108.8 272.3C1108.8 269.7 1112.1 264.8 1113.8 264.8C1115.6 264.8 1122.6 271.5 1123.8 272.3" class="dsh"/>
<path d="M964 304.8C966.6 303.9 981.5 298.5 986.5 297.3C991.4 296.1 1002.1 293.9 1006.4 294.8C1010.8 295.7 1020.4 301.6 1023.9 304.8C1027.4 308 1034.4 318.2 1036.4 322.3C1038.4 326.4 1039.4 336.8 1041.4 339.8C1043.4 342.7 1050.1 346.1 1053.9 347.3C1057.7 348.4 1070.1 348.9 1073.9 349.8C1077.6 350.6 1084.2 352.4 1086.3 354.7C1088.5 357.1 1091.9 368 1092.6 369.7" class="dsh"/>
<path d="M964 349.8C966.6 350.9 981.5 358.9 986.5 359.7C991.4 360.6 1002.1 358.4 1006.4 357.2C1010.8 356.1 1021 350 1023.9 349.8C1026.8 349.5 1028.8 353.1 1031.4 354.7C1034 356.3 1044.6 362.5 1046.4 363.5" class="dsh"/>
<path d="M966.5 272.3C967.2 273.2 972.1 277.8 972.7 279.8C973.3 281.9 972.2 287.9 971.5 289.8C970.7 291.7 967.1 295.3 966.5 296.1" class="dsh"/>
<path d="M1243.7 362.2C1244.8 360.8 1250.7 351.5 1253.7 349.8C1256.6 348 1266.9 347.5 1268.6 347.3" class="dsh"/>
<path d="M1286.1 354.7C1287.6 354 1295.1 349.4 1298.6 348.5C1302.1 347.6 1312 347.1 1316.1 347.3C1320.2 347.4 1328.6 349.8 1333.6 349.8C1338.5 349.8 1353.9 347.8 1358.5 347.3C1363.2 346.7 1371.8 345 1373.5 344.8" class="dsh"/>
<path d="M1261.1 287.3C1262.6 287.6 1272 287.8 1273.6 289.8C1275.2 291.9 1276 301.3 1274.9 304.8C1273.7 308.3 1265.8 317.2 1263.6 319.8C1261.5 322.4 1257 326.4 1256.2 327.3" class="dsh"/>
<path d="M1293.6 289.8C1295.1 291.6 1302.6 301.3 1306.1 304.8C1309.6 308.3 1319.8 316 1323.6 319.8C1327.4 323.6 1337.7 333.5 1338.6 337.3C1339.4 341.1 1333.4 349.3 1331.1 352.2C1328.7 355.2 1320 361.1 1318.6 362.2" class="dsh"/>
<path d="M1366 322.3C1367.5 322 1376.8 318.9 1378.5 319.8C1380.3 320.7 1381.9 327.7 1381 329.8C1380.1 331.8 1373.1 337.3 1371 337.3C1369 337.3 1364.4 330.6 1363.5 329.8" class="dsh"/>
<path d="M1386 277.3L1392.2 289.8" class="dsh"/>
<path d="M1328 84.9C1330.9 85.1 1347.1 85.6 1353 86.2C1358.8 86.8 1372.1 88.8 1377.9 89.9C1383.8 91.1 1397.7 95.3 1402.9 96.2C1408.2 97.1 1418.5 97.7 1422.9 97.4C1427.3 97.1 1436.6 95 1440.4 93.7C1444.2 92.4 1452.6 88.1 1455.4 86.2C1458.1 84.3 1463.2 79.6 1464.1 77.5C1465 75.3 1463.6 69.7 1462.8 67.5C1462.1 65.3 1458.4 59.7 1457.9 58.7" class="dsh"/>
<path d="M1223.7 80C1225.1 80.4 1233.3 83 1236.2 83.7C1239.1 84.4 1245.7 85.9 1248.7 86.2C1251.6 86.5 1258.5 86.9 1261.1 86.2C1263.8 85.5 1268.8 81 1271.1 80C1273.5 78.9 1277.9 77.5 1281.1 77.5C1284.3 77.5 1293.7 79.1 1298.6 80C1303.6 80.8 1317.7 84.2 1323.6 84.9C1329.4 85.7 1340.7 85.8 1348.5 86.2C1356.4 86.6 1386 88.4 1391 88.7" class="dsh"/>
<path d="M1238.7 65C1239.8 64.2 1246.9 59.9 1248.7 58.7C1250.4 57.6 1253.1 55.4 1253.7 55" class="dsh"/>
<path d="M1382.9 279.8C1383.8 279.2 1388.1 275.4 1390.4 274.8C1392.8 274.3 1400.6 274 1402.9 274.8C1405.2 275.7 1409.5 281.5 1410.4 282.3" class="dsh"/>
<path d="M1385.4 289.8C1386 291.6 1389 300.7 1390.4 304.8C1391.9 308.9 1396.2 320.1 1397.9 324.8C1399.7 329.4 1403.5 340.4 1405.4 344.8C1407.3 349.1 1413.1 360.2 1414.2 362.2" class="dsh"/>
<path d="M1432.9 294.8C1434.6 295.5 1443.8 300.5 1447.9 301.1C1451.9 301.6 1463.6 300.2 1467.8 299.8C1472.1 299.4 1482.2 297.6 1484.1 297.3" class="dsh"/>
<path d="M1477.8 309.8C1477.7 312.1 1476.3 325.4 1476.6 329.8C1476.9 334.1 1479 344.3 1480.3 347.3C1481.6 350.2 1485.2 353.9 1487.8 354.7C1490.4 355.6 1498.1 354.9 1502.8 354.7C1507.5 354.6 1521.9 352.9 1527.8 353.5C1533.6 354.1 1549.8 359 1552.7 359.7" class="dsh"/>
<path d="M1422.9 276.1C1423.5 275.6 1427 271.8 1427.9 272.3C1428.8 272.9 1430.1 280.1 1430.4 281.1" class="dsh"/>
<path d="M1691.3 142.5C1690.9 144.2 1689.2 154.3 1687.6 157.5C1686 160.7 1680.8 167.3 1677.6 170C1674.4 172.6 1664.2 177.9 1660.1 179.9C1656 182 1644.7 186.6 1642.6 187.4" class="dsh"/>
<path d="M1577.7 162.5C1579.5 161.7 1589.2 156.2 1592.7 156.2C1596.2 156.2 1604.5 160.6 1607.7 162.5C1610.9 164.4 1617 170.3 1620.2 172.5C1623.4 174.6 1633.4 180.2 1635.2 181.2" class="dsh"/>
<path d="M964.3 131.5H1741.9" class="gh"/><path d="M964.3 209.9H1741.9M964.3 288.3H1741.9" class="gq"/><path d="M1093.9 53.1V366.7M1223.5 53.1V366.7M1353.1 53.1V366.7M1482.7 53.1V366.7M1612.3 53.1V366.7" class="gv"/>
</g>
<rect x="964.3" y="53.1" width="777.6" height="313.6" fill="none" stroke="#000" stroke-width="6.2"/>
<path d="M952.8 53.1H964.3M952.8 131.5H964.3M952.8 209.9H964.3M952.8 288.3H964.3M952.8 366.7H964.3M964.3 366.7V378.2M1093.9 366.7V378.2M1223.5 366.7V378.2M1353.1 366.7V378.2M1482.7 366.7V378.2M1612.3 366.7V378.2M1741.9 366.7V378.2" stroke="#000" stroke-width="2.2" fill="none"/>
<text transform="translate(0 66) scale(0.875 1)" font-size="35"><tspan x="1019.8 1039.2 1058.2" y="0">75N</tspan></text>
<text transform="translate(0 144.4) scale(0.875 1)" font-size="35"><tspan x="1019.1 1039.2 1058.2" y="0">60N</tspan></text>
<text transform="translate(0 222.8) scale(0.875 1)" font-size="35"><tspan x="1018.5 1039.2 1058.2" y="0">45N</tspan></text>
<text transform="translate(0 301.2) scale(0.875 1)" font-size="35"><tspan x="1019.3 1039.2 1058.2" y="0">30N</tspan></text>
<text transform="translate(0 379.6) scale(0.875 1)" font-size="35"><tspan x="1019.5 1039.2 1058.2" y="0">15N</tspan></text>
<text transform="translate(0 406.2) scale(0.875 1)" font-size="35"><tspan x="1091.6" y="0">0</tspan></text>
<text transform="translate(0 406.2) scale(0.875 1)" font-size="35"><tspan x="1220.5 1241 1258.7" y="0">30E</tspan></text>
<text transform="translate(0 406.2) scale(0.875 1)" font-size="35"><tspan x="1369.5 1390.1 1406.9" y="0">60E</tspan></text>
<text transform="translate(0 406.2) scale(0.875 1)" font-size="35"><tspan x="1517.6 1538.1 1555" y="0">90E</tspan></text>
<text transform="translate(0 406.2) scale(0.875 1)" font-size="35"><tspan x="1652.2 1675.4 1695.9 1713.6" y="0">120E</tspan></text>
<text transform="translate(0 406.2) scale(0.875 1)" font-size="35"><tspan x="1800.8 1823.8 1844.5 1861.8" y="0">150E</tspan></text>
<text transform="translate(0 406.2) scale(0.875 1)" font-size="35"><tspan x="1959.6 1981.8 2001.6" y="0">180</tspan></text>
<g clip-path="url(#cld)">
<path d="M960 620C962.2 618.9 977.2 618.2 982.5 618.7C987.7 619.2 1010.7 623.7 1012.4 625C1014.2 626.2 1003.2 630.3 999.9 631.2C996.7 632.1 984 633.8 980 633.7C976 633.6 962 631.3 960 630C958 628.6 957.7 621.1 960 620Z" fill="#E1FFFF"/>
<path d="M1149.8 742.3C1150 740.1 1154.8 732.8 1157.3 729.9C1159.8 726.9 1171.7 715.4 1174.7 712.4C1177.7 709.4 1184.2 702.4 1187.2 699.9C1190.2 697.4 1201 689.4 1204.7 687.4C1208.5 685.4 1220.2 681.2 1224.7 679.9C1229.2 678.7 1245.7 675.2 1249.7 674.9C1253.7 674.7 1263.6 675.9 1264.6 677.4C1265.6 678.9 1258.7 687.7 1259.6 689.9C1260.6 692.1 1270.6 697.9 1274.6 699.9C1278.6 701.9 1294.6 707.4 1299.6 709.9C1304.6 712.4 1320.6 722.4 1324.6 724.9C1328.6 727.4 1335.6 734.1 1339.6 734.8C1343.6 735.6 1361.3 731.9 1364.5 732.4C1367.8 732.8 1372.5 738.1 1372 739.8C1371.5 741.6 1363.3 748.3 1359.5 749.8C1355.8 751.3 1339.6 753.8 1334.6 754.8C1329.6 755.8 1314.8 759.3 1309.6 759.8C1304.3 760.3 1286.9 759.6 1282.1 759.8C1277.4 760.1 1265.9 761.6 1262.1 762.3C1258.4 763.1 1247.7 766.1 1244.7 767.3C1241.7 768.6 1234.7 773.1 1232.2 774.8C1229.7 776.6 1221.4 782.3 1219.7 784.8C1217.9 787.3 1215.4 796.8 1214.7 799.8C1214 802.8 1213.7 812.5 1212.2 814.8C1210.7 817 1202.5 821.5 1199.7 822.2C1197 823 1187.7 823.2 1184.7 822.2C1181.7 821.2 1172.2 814.8 1169.8 812.3C1167.3 809.8 1161 800.5 1159.8 797.3C1158.5 794 1157 783.3 1157.3 779.8C1157.5 776.3 1162.5 765.1 1162.3 762.3C1162 759.6 1156 754.3 1154.8 752.3C1153.5 750.3 1149.5 744.6 1149.8 742.3Z" fill="#E1FFFF"/>
<path d="M1019.9 789.8C1020.7 787.3 1029.4 780.7 1032.4 779.8C1035.4 778.9 1047.1 779.8 1049.9 781C1052.6 782.3 1059.1 789.7 1059.9 792.3C1060.6 794.9 1059.1 805.5 1057.4 807.3C1055.6 809 1045.6 810 1042.4 809.8C1039.1 809.5 1027.2 806.8 1024.9 804.8C1022.7 802.8 1019.2 792.3 1019.9 789.8Z" fill="#E1FFFF"/>
<path d="M959 830.8C961.2 828 977.5 828.6 981.5 829.6C985.5 830.6 997.7 838.2 998.9 840.8C1000.2 843.5 996.4 853.8 993.9 855.8C991.5 857.8 977.5 860.6 974 860.8C970.5 861.1 960.5 861.3 959 858.3C957.5 855.3 956.7 833.7 959 830.8Z" fill="#E1FFFF"/>
<path d="M959 898.3C961.7 894 981.7 895 986.5 895.8C991.2 896.5 1003.4 903 1006.4 905.8C1009.4 908.5 1015.7 920 1016.4 923.2C1017.2 926.5 1019.7 936.7 1013.9 938.2C1008.2 939.7 964.5 942.2 959 938.2C953.5 934.2 956.2 902.5 959 898.3Z" fill="#E1FFFF"/>
<path d="M1036.4 900.8C1037.4 899.3 1050.9 895.5 1053.9 895.8C1056.9 896 1065.9 901.5 1066.4 903.3C1066.9 905 1061.1 912.5 1058.9 913.2C1056.6 914 1046.1 912 1043.9 910.8C1041.6 909.5 1035.4 902.3 1036.4 900.8Z" fill="#E1FFFF"/>
<path d="M1071.4 850.8C1072.6 849.1 1086.1 847.8 1088.8 848.3C1091.6 848.8 1097.6 853.6 1098.8 855.8C1100.1 858.1 1101.8 868 1101.3 870.8C1100.8 873.5 1095.6 882.5 1093.8 883.3C1092.1 884 1085.6 880 1083.8 878.3C1082.1 876.5 1077.6 868.5 1076.4 865.8C1075.1 863.1 1070.1 852.6 1071.4 850.8Z" fill="#E1FFFF"/>
<path d="M1168.8 880.8C1168.8 876.8 1171.7 866.1 1173.7 863.3C1175.7 860.6 1185 854.6 1188.7 853.3C1192.5 852.1 1207 851.6 1211.2 850.8C1215.4 850.1 1227.4 846.8 1231.2 845.8C1234.9 844.8 1245.4 842.1 1248.7 840.8C1251.9 839.6 1261.1 834.8 1263.6 833.3C1266.1 831.8 1271.4 826.5 1273.6 825.8C1275.9 825.2 1283.9 825.8 1286.1 827.1C1288.4 828.3 1295.4 835.7 1296.1 838.3C1296.9 841 1293.4 850.1 1293.6 853.3C1293.9 856.6 1297.6 868.3 1298.6 870.8C1299.6 873.3 1304.3 876.5 1303.6 878.3C1302.8 880 1294.1 886.3 1291.1 888.3C1288.1 890.3 1276.9 896.3 1273.6 898.3C1270.4 900.3 1261.6 906.5 1258.6 908.3C1255.7 910 1247.2 914.5 1243.7 915.7C1240.2 917 1227.7 920.2 1223.7 920.7C1219.7 921.2 1207.5 921.2 1203.7 920.7C1200 920.2 1189.2 917.5 1186.2 915.7C1183.2 914 1175.5 906.8 1173.7 903.3C1172 899.8 1168.8 884.8 1168.8 880.8Z" fill="#E1FFFF"/>
<path d="M1338.6 888.3C1339.1 886 1352.5 881.5 1358.5 880.8C1364.5 880 1394.5 877.5 1398.5 880.8C1402.5 884 1401 910.5 1398.5 913.2C1396 916 1378 909.3 1373.5 908.3C1369 907.3 1357 905.3 1353.5 903.3C1350 901.3 1338.1 890.5 1338.6 888.3Z" fill="#E1FFFF"/>
<path d="M1374.5 618.7C1374.8 616.9 1387 616.4 1389.5 616.2C1392 616.1 1398.5 615.1 1399.5 617.5C1400.5 619.9 1400.7 638.2 1399.5 640C1398.2 641.7 1389.5 637.1 1387 635C1384.5 632.8 1374.3 620.6 1374.5 618.7Z" fill="#E1FFFF"/>
<path d="M1375.4 618.5C1377.7 617.2 1396.4 616 1402.9 616C1409.4 616 1432.9 617.5 1440.4 618.5C1447.9 619.5 1473.1 624 1477.8 626C1482.6 628 1487.3 635.5 1487.8 638.5C1488.3 641.5 1484.8 653.2 1482.8 655.9C1480.8 658.7 1469.8 663.7 1467.8 665.9C1465.8 668.2 1461.8 676.7 1462.8 678.4C1463.8 680.2 1473.8 683.2 1477.8 683.4C1481.8 683.7 1497.8 681.4 1502.8 680.9C1507.8 680.4 1522.8 678.9 1527.8 678.4C1532.8 677.9 1547.8 676.4 1552.7 675.9C1557.7 675.4 1572.7 674.2 1577.7 673.4C1582.7 672.7 1597.7 669.4 1602.7 668.4C1607.7 667.4 1622.7 664.4 1627.7 663.4C1632.7 662.4 1647.6 659.4 1652.6 658.4C1657.6 657.4 1672.6 654.4 1677.6 653.4C1682.6 652.4 1697.6 649.2 1702.6 648.4C1707.6 647.7 1722.6 646.2 1727.5 645.9C1732.5 645.7 1750 625.5 1752.5 645.9C1755 666.4 1755 831.2 1752.5 850.7C1750 870.2 1731 843.2 1727.5 840.7C1724.1 838.2 1720.6 828 1717.6 825.7C1714.6 823.5 1701.6 819.3 1697.6 818.3C1693.6 817.3 1682.1 816.5 1677.6 815.8C1673.1 815 1656.1 812.5 1652.6 810.8C1649.1 809 1642.6 800.8 1642.6 798.3C1642.6 795.8 1650.4 788 1652.6 785.8C1654.9 783.5 1665.1 777.8 1665.1 775.8C1665.1 773.8 1655.6 767.8 1652.6 765.8C1649.6 763.8 1636.9 758.3 1635.2 755.8C1633.4 753.3 1636.4 743.1 1635.2 740.8C1633.9 738.6 1625.9 734.3 1622.7 733.4C1619.4 732.4 1606.2 730.6 1602.7 730.9C1599.2 731.1 1591.2 735.2 1587.7 735.8C1584.2 736.5 1571.7 737.1 1567.7 737.1C1563.7 737.1 1551.7 736.5 1547.8 735.8C1543.8 735.2 1531.8 731.6 1527.8 730.9C1523.8 730.1 1511.8 728.4 1507.8 728.4C1503.8 728.4 1491.8 730.6 1487.8 730.9C1483.8 731.1 1471.6 731.4 1467.8 730.9C1464.1 730.4 1453.1 727.9 1450.4 725.9C1447.6 723.9 1441.1 713.9 1440.4 710.9C1439.6 707.9 1443.1 698.6 1442.9 695.9C1442.6 693.1 1439.9 685.9 1437.9 683.4C1435.9 680.9 1425.6 673.7 1422.9 670.9C1420.1 668.2 1413.4 658.9 1410.4 655.9C1407.4 652.9 1395.9 643.7 1392.9 641C1389.9 638.2 1382.2 630.7 1380.4 628.5C1378.7 626.2 1373.2 619.7 1375.4 618.5Z" fill="#E1FFFF"/>
<path d="M1640.1 740.8C1640.9 738.8 1654.9 735.1 1657.6 735.8C1660.4 736.6 1667.1 745.8 1667.6 748.3C1668.1 750.8 1664.4 760.1 1662.6 760.8C1660.9 761.6 1652.4 757.8 1650.1 755.8C1647.9 753.8 1639.4 742.8 1640.1 740.8Z" fill="#FFFFFF"/>
<path d="M1687.6 820.8C1685.6 819.8 1682.3 812.8 1682.6 810.8C1682.8 808.8 1688.1 802.8 1690.1 800.8C1692.1 798.8 1700.3 792.8 1702.6 790.8C1704.8 788.8 1711.1 780.3 1712.6 780.8C1714.1 781.3 1717.3 792.5 1717.6 795.8C1717.8 799 1716.6 810.8 1715.1 813.3C1713.6 815.8 1705.3 820 1702.6 820.8C1699.8 821.5 1689.6 821.8 1687.6 820.8Z" fill="#FFFFFF"/>
<path d="M1318 718.4C1320.5 715.4 1338.2 720.1 1343 720.9C1347.7 721.6 1362.2 724.4 1365.5 725.9C1368.7 727.4 1375.2 733.6 1375.4 735.8C1375.7 738.1 1370.7 746.6 1368 748.3C1365.2 750.1 1353 753.1 1348 753.3C1343 753.6 1321 754.3 1318 750.8C1315 747.3 1315.5 721.4 1318 718.4Z" fill="#E1FFFF"/>
<path d="M1467.8 785.8C1467.6 783 1472.8 775.1 1475.3 773.3C1477.8 771.6 1488.6 768.9 1492.8 768.3C1497.1 767.7 1514.8 766.3 1517.8 767.1C1520.8 767.8 1523.3 773.4 1522.8 775.8C1522.3 778.2 1515.3 788.3 1512.8 790.8C1510.3 793.3 1501.3 799.8 1497.8 800.8C1494.3 801.8 1480.8 802.3 1477.8 800.8C1474.8 799.3 1468.1 788.5 1467.8 785.8Z" fill="#E1FFFF"/>
<path d="M1318 875.8C1320.5 869.3 1338 873.3 1343 873.3C1348 873.3 1363 876 1368 875.8C1372.9 875.5 1388.4 872 1392.9 870.8C1397.4 869.5 1408.4 864.6 1412.9 863.3C1417.4 862.1 1432.4 858.6 1437.9 858.3C1443.4 858.1 1462.3 861.1 1467.8 860.8C1473.3 860.6 1488.3 856.1 1492.8 855.8C1497.3 855.6 1509.3 856.8 1512.8 858.3C1516.3 859.8 1525.3 867.6 1527.8 870.8C1530.3 874 1535.3 887.3 1537.8 890.8C1540.3 894.3 1549.7 903.3 1552.7 905.8C1555.7 908.3 1565.2 912.5 1567.7 915.7C1570.2 919 1602.7 936 1577.7 938.2C1552.7 940.5 1344 944.5 1318 938.2C1292 932 1315.5 882.3 1318 875.8Z" fill="#E1FFFF"/>
<path d="M1600.2 900.8C1600.2 897 1607.4 884 1610.2 880.8C1612.9 877.5 1624.2 869.8 1627.7 868.3C1631.2 866.8 1641.6 865.1 1645.1 865.8C1648.6 866.6 1660.1 872.8 1662.6 875.8C1665.1 878.8 1670.1 891.8 1670.1 895.8C1670.1 899.8 1664.9 912.7 1662.6 915.7C1660.4 918.7 1651.1 924.5 1647.6 925.7C1644.1 927 1631.4 929 1627.7 928.2C1623.9 927.5 1612.9 921 1610.2 918.2C1607.4 915.5 1600.2 904.5 1600.2 900.8Z" fill="#E1FFFF"/>
<path d="M1184.7 704.9C1185.7 702.1 1196.7 698.6 1199.7 697.4C1202.7 696.1 1211.7 692.8 1214.7 692.4C1217.7 692 1226.2 692.4 1229.7 693.6C1233.2 694.9 1245.7 703 1249.7 704.9C1253.7 706.8 1265.1 710.9 1269.6 712.4C1274.1 713.9 1289.9 718.1 1294.6 719.9C1299.4 721.6 1312.8 728.2 1317.1 729.9C1321.3 731.5 1334.9 734.6 1337.1 736.1C1339.2 737.6 1340.1 743.7 1338.3 744.8C1336.6 746 1323 746.6 1319.6 747.3C1316.2 748.1 1307.8 751.7 1304.6 752.3C1301.4 753 1290.6 753.6 1287.1 753.6C1283.6 753.6 1273.4 752.2 1269.6 752.3C1265.9 752.5 1253.4 754.1 1249.7 754.8C1245.9 755.6 1234.9 759.3 1232.2 759.8C1229.4 760.3 1224.2 760.6 1222.2 759.8C1220.2 759.1 1214.5 754.3 1212.2 752.3C1210 750.3 1202 742.6 1199.7 739.8C1197.5 737.1 1191.2 728.4 1189.7 724.9C1188.2 721.4 1183.7 707.6 1184.7 704.9Z" fill="#96D2FA"/>
<path d="M1162.3 784.8C1162.8 782 1167.5 772.3 1169.8 769.8C1172 767.3 1181.7 760.6 1184.7 759.8C1187.7 759.1 1197.2 760.8 1199.7 762.3C1202.2 763.8 1208.7 771.8 1209.7 774.8C1210.7 777.8 1210.2 789 1209.7 792.3C1209.2 795.5 1206.2 804.8 1204.7 807.3C1203.2 809.8 1197 816.3 1194.7 817.3C1192.5 818.3 1184.5 818.3 1182.2 817.3C1180 816.3 1174 809.3 1172.2 807.3C1170.5 805.3 1165.8 799.5 1164.8 797.3C1163.8 795 1161.8 787.5 1162.3 784.8Z" fill="#96D2FA"/>
<path d="M1349.5 732.4C1350.7 731.5 1363.3 730.5 1364.5 731.1C1365.8 731.7 1363.2 737.7 1362 738.6C1360.9 739.5 1354.5 740.5 1353.3 739.8C1352 739.2 1348.4 733.2 1349.5 732.4Z" fill="#96D2FA"/>
<path d="M1027.4 789.8C1027.7 788.3 1035.2 785 1037.4 784.8C1039.6 784.5 1048 786.3 1049.9 787.3C1051.8 788.3 1056.1 793.4 1056.1 794.8C1056.1 796.2 1052 800.5 1049.9 801C1047.8 801.5 1037.2 800.9 1034.9 799.8C1032.7 798.7 1027.2 791.3 1027.4 789.8Z" fill="#96D2FA"/>
<path d="M1176.2 883.3C1176.2 879.8 1179.5 868.3 1181.2 865.8C1183 863.3 1190.5 859.2 1193.7 858.3C1197 857.4 1209.7 857.3 1213.7 857.1C1217.7 856.8 1230.2 856.4 1233.7 855.8C1237.2 855.2 1245.9 852.3 1248.7 850.8C1251.4 849.3 1258.9 842.6 1261.1 840.8C1263.4 839.1 1268.9 834 1271.1 833.3C1273.4 832.7 1281.6 833.3 1283.6 834.6C1285.6 835.8 1290.9 843.2 1291.1 845.8C1291.4 848.4 1286.1 858.1 1286.1 860.8C1286.1 863.6 1291.6 871 1291.1 873.3C1290.6 875.5 1283.9 881.5 1281.1 883.3C1278.4 885 1266.9 888.8 1263.6 890.8C1260.4 892.8 1251.9 901 1248.7 903.3C1245.4 905.5 1234.9 912 1231.2 913.2C1227.4 914.5 1214.9 916 1211.2 915.7C1207.5 915.5 1196.7 912.2 1193.7 910.8C1190.7 909.3 1183 903.5 1181.2 900.8C1179.5 898 1176.2 886.8 1176.2 883.3Z" fill="#96D2FA"/>
<path d="M1269.9 863.3C1269.9 862.1 1276.9 858.2 1278.6 858.3C1280.4 858.4 1287.4 863.3 1287.4 864.6C1287.4 865.8 1280.4 870.9 1278.6 870.8C1276.9 870.7 1269.9 864.6 1269.9 863.3Z" fill="#FFFFFF"/>
<path d="M1348.5 888.3C1349.5 887 1363.5 883.7 1368.5 883.3C1373.5 882.9 1395.5 882.4 1398.5 884.5C1401.5 886.7 1401 902.9 1398.5 904.5C1396 906.1 1377.5 901.6 1373.5 900.8C1369.5 899.9 1361 897 1358.5 895.8C1356 894.5 1347.5 889.5 1348.5 888.3Z" fill="#96D2FA"/>
<path d="M1446.6 703.4C1447.2 701.1 1452.7 694.5 1455.4 693.4C1458 692.3 1469.3 691.5 1472.8 692.1C1476.3 692.8 1488.1 698 1490.3 699.6C1492.6 701.3 1495.6 706.3 1495.3 708.4C1495.1 710.5 1490.1 719.1 1487.8 720.9C1485.6 722.6 1475.8 725.5 1472.8 725.9C1469.8 726.2 1460.2 725.6 1457.9 724.6C1455.5 723.6 1450.2 718 1449.1 715.9C1448 713.7 1446 705.6 1446.6 703.4Z" fill="#96D2FA"/>
<path d="M1505.3 718.4C1505.5 716.4 1513.3 705.9 1515.3 703.4C1517.3 700.9 1522.8 694.4 1525.3 693.4C1527.8 692.4 1537.5 692.4 1540.3 693.4C1543 694.4 1550.5 700.9 1552.7 703.4C1555 705.9 1561.7 715.6 1562.7 718.4C1563.7 721.1 1564.2 729.4 1562.7 730.9C1561.2 732.4 1551.2 733.8 1547.8 733.4C1544.3 732.9 1531.3 726.9 1527.8 725.9C1524.3 724.9 1515 724.1 1512.8 723.4C1510.5 722.6 1505 720.4 1505.3 718.4Z" fill="#96D2FA"/>
<path d="M1610.2 680.9C1612.2 679.2 1628.7 674.9 1632.7 674.7C1636.7 674.4 1649.1 677 1650.1 678.4C1651.1 679.8 1644.9 686.9 1642.6 688.4C1640.4 689.9 1630.7 693 1627.7 693.4C1624.7 693.8 1614.4 693.4 1612.7 692.1C1610.9 690.9 1608.2 682.7 1610.2 680.9Z" fill="#96D2FA"/>
<path d="M1477.8 785.8C1478.1 784 1480.8 777.3 1482.8 775.8C1484.8 774.3 1494.3 771.3 1497.8 770.8C1501.3 770.3 1516.8 769.3 1517.8 770.8C1518.8 772.3 1510.3 783.5 1507.8 785.8C1505.3 788 1495.6 792.5 1492.8 793.3C1490.1 794 1481.8 794 1480.3 793.3C1478.8 792.5 1477.6 787.5 1477.8 785.8Z" fill="#96D2FA"/>
<path d="M1318 728.4C1319.5 726.5 1330.9 728.6 1333 729.6C1335.1 730.6 1339 736.6 1339.2 738.3C1339.5 740.1 1337.6 746.1 1335.5 747.1C1333.4 748.1 1319.8 750.2 1318 748.3C1316.3 746.5 1316.5 730.2 1318 728.4Z" fill="#96D2FA"/>
<path d="M1350.5 730.9C1351.6 730.2 1364.2 730.5 1365.5 731.4C1366.7 732.2 1364.1 738.9 1363 739.6C1361.8 740.2 1355.5 738.7 1354.2 737.8C1353 737 1349.4 731.5 1350.5 730.9Z" fill="#96D2FA"/>
<path d="M1457.9 641C1458.5 640.1 1469.7 639 1470.3 639.7C1471 640.5 1465.3 648.3 1464.1 648.4C1462.8 648.6 1457.2 641.8 1457.9 641Z" fill="#96D2FA"/>
<path d="M1720.1 805.8C1720.9 804.1 1726.8 799.2 1730 798.3C1733.3 797.4 1750.3 794.7 1752.5 797C1754.8 799.4 1754.8 819.6 1752.5 822C1750.3 824.4 1733.2 821.5 1730 820.8C1726.9 820 1722.3 816 1721.3 814.5C1720.3 813 1719.2 807.4 1720.1 805.8Z" fill="#96D2FA"/>
<path d="M1397.9 925.7C1397.7 921.7 1398.7 896.3 1400.4 890.8C1402.2 885.3 1411.4 873.4 1415.4 870.8C1419.4 868.2 1435.1 864.8 1440.4 864.6C1445.6 864.3 1463.1 868.5 1467.8 868.3C1472.6 868 1483.8 862.4 1487.8 862.1C1491.8 861.7 1504.6 862.7 1507.8 864.6C1511 866.4 1519.3 876.9 1520.3 880.8C1521.3 884.7 1517 899.8 1517.8 903.3C1518.5 906.8 1525.3 913 1527.8 915.7C1530.3 918.5 1555.2 929.2 1542.8 930.7C1530.3 932.2 1417.4 931.2 1402.9 930.7C1388.4 930.2 1398.2 929.7 1397.9 925.7Z" fill="#96D2FA"/>
<path d="M1610.2 898.3C1610.4 895 1617.2 883.4 1620.2 880.8C1623.2 878.2 1636.7 872 1640.1 872C1643.6 872 1653.1 877.9 1655.1 880.8C1657.1 883.7 1660.6 897 1660.1 900.8C1659.6 904.5 1652.9 916.2 1650.1 918.2C1647.4 920.2 1635.9 921.2 1632.7 920.7C1629.4 920.2 1619.9 915.5 1617.7 913.2C1615.4 911 1609.9 901.5 1610.2 898.3Z" fill="#96D2FA"/>
<path d="M1338 888.3C1339 886.8 1349.5 883.5 1353 883.3C1356.5 883 1369.7 885 1372.9 885.8C1376.2 886.5 1384.9 889.3 1385.4 890.8C1385.9 892.3 1380.4 899.5 1377.9 900.8C1375.4 902 1364 903.5 1360.5 903.3C1357 903 1345.2 899.8 1343 898.3C1340.7 896.8 1337 889.8 1338 888.3Z" fill="#96D2FA"/>
<path d="M1199.7 729.9C1200.7 728.1 1209.7 721.9 1212.2 719.9C1214.7 717.9 1221.4 711 1224.7 709.9C1227.9 708.8 1241.2 707.9 1244.7 708.6C1248.2 709.4 1256.7 715.7 1259.6 717.4C1262.6 719 1271.1 723.9 1274.6 724.9C1278.1 725.9 1291.1 726.4 1294.6 727.4C1298.1 728.4 1307.6 733.1 1309.6 734.8C1311.6 736.6 1315.6 743.3 1314.6 744.8C1313.6 746.3 1302.6 749.7 1299.6 749.8C1296.6 750 1287.6 746.8 1284.6 746.1C1281.6 745.3 1273.1 742.5 1269.6 742.3C1266.1 742.2 1253.4 744.6 1249.7 744.8C1245.9 745.1 1235.7 745.1 1232.2 744.8C1228.7 744.6 1217.7 743.1 1214.7 742.3C1211.7 741.6 1203.7 738.6 1202.2 737.3C1200.7 736.1 1198.7 731.6 1199.7 729.9Z" fill="#50A5F5"/>
<path d="M1184.7 772.3C1185.5 771.1 1193 769.3 1194.7 769.8C1196.5 770.3 1202 775.8 1202.2 777.3C1202.5 778.8 1198.7 784.3 1197.2 784.8C1195.7 785.3 1188.5 783.5 1187.2 782.3C1186 781 1184 773.6 1184.7 772.3Z" fill="#50A5F5"/>
<path d="M1181.2 888.3C1181.4 885.8 1184.5 875.5 1186.2 873.3C1188 871 1195.5 866.8 1198.7 865.8C1202 864.8 1214.9 863.3 1218.7 863.3C1222.4 863.3 1233.2 865.1 1236.2 865.8C1239.2 866.6 1247.2 869 1248.7 870.8C1250.2 872.5 1251.4 880.5 1251.2 883.3C1250.9 886 1248.2 896 1246.2 898.3C1244.2 900.5 1234.4 904.8 1231.2 905.8C1227.9 906.8 1217.2 908.5 1213.7 908.3C1210.2 908 1199.1 904.3 1196.2 903.3C1193.3 902.3 1186.5 899.8 1185 898.3C1183.5 896.8 1181.1 890.8 1181.2 888.3Z" fill="#50A5F5"/>
<circle cx="1279.1" cy="839.6" r="9" fill="#50A5F5"/>
<path d="M1358.5 888.3C1360.3 887.3 1375.8 884.3 1378.5 884.5C1381.3 884.8 1386.5 889.4 1386 890.8C1385.5 892.1 1376 897.9 1373.5 898.3C1371 898.6 1362.5 895.5 1361 894.5C1359.5 893.5 1356.8 889.3 1358.5 888.3Z" fill="#50A5F5"/>
<path d="M1512.8 718.4C1512.8 717.1 1524.5 711.5 1527.8 710.9C1531 710.3 1542.5 711.1 1545.3 712.1C1548 713.1 1555 719.2 1555.2 720.9C1555.5 722.5 1550.5 728.1 1547.8 728.4C1545 728.6 1531.3 724.4 1527.8 723.4C1524.3 722.4 1512.8 719.6 1512.8 718.4Z" fill="#50A5F5"/>
<path d="M1457.9 713.4C1458.4 712.4 1464.3 710.4 1465.3 710.9C1466.3 711.4 1468.3 717.4 1467.8 718.4C1467.3 719.4 1461.3 721.4 1460.4 720.9C1459.4 720.4 1457.4 714.4 1457.9 713.4Z" fill="#50A5F5"/>
<path d="M1485.3 782C1486.1 781.2 1496.3 779.2 1497.8 779.5C1499.3 779.9 1501.1 784.9 1500.3 785.8C1499.6 786.7 1491.8 788.7 1490.3 788.3C1488.8 787.9 1484.6 782.9 1485.3 782Z" fill="#50A5F5"/>
<path d="M1402.9 928.2C1398.2 925 1403.7 901 1405.4 895.8C1407.2 890.5 1416.9 878.4 1420.4 875.8C1423.9 873.2 1436.1 869.5 1440.4 869.5C1444.6 869.5 1459.1 875.7 1462.8 875.8C1466.6 875.9 1474.8 871.8 1477.8 870.8C1480.8 869.8 1489.8 865.8 1492.8 865.8C1495.8 865.8 1505.8 868.8 1507.8 870.8C1509.8 872.8 1512.8 883 1512.8 885.8C1512.8 888.5 1509.5 896.5 1507.8 898.3C1506 900 1498.3 903 1495.3 903.3C1492.3 903.5 1480.6 900 1477.8 900.8C1475.1 901.5 1470.3 908 1467.8 910.8C1465.3 913.5 1459.4 926.5 1452.9 928.2C1446.4 930 1407.7 931.5 1402.9 928.2Z" fill="#50A5F5"/>
<path d="M1502.8 928.2C1500.8 926.5 1506 912 1507.8 910.8C1509.5 909.5 1518.3 914 1520.3 915.7C1522.3 917.5 1529.5 927 1527.8 928.2C1526 929.5 1504.8 930 1502.8 928.2Z" fill="#50A5F5"/>
<path d="M1625.2 898.3C1625.2 895.5 1628.4 885.3 1630.2 883.3C1631.9 881.3 1640.4 877.8 1642.6 878.3C1644.9 878.8 1651.6 885.5 1652.6 888.3C1653.6 891 1653.6 903 1652.6 905.8C1651.6 908.5 1644.9 915.2 1642.6 915.7C1640.4 916.2 1631.9 912.5 1630.2 910.8C1628.4 909 1625.2 901 1625.2 898.3Z" fill="#50A5F5"/>
<path d="M1358 888.3C1358.5 887.2 1368.5 886.5 1370.5 887C1372.4 887.5 1378.4 892.1 1377.9 893.3C1377.4 894.4 1367.5 898.8 1365.5 898.3C1363.5 897.8 1357.5 889.4 1358 888.3Z" fill="#50A5F5"/>
<path d="M1222.2 724.9C1221.9 722.6 1227.4 715.9 1229.7 714.9C1231.9 713.9 1241.9 714.1 1244.7 714.9C1247.4 715.6 1255.2 720.6 1257.2 722.4C1259.2 724.1 1264.1 730.4 1264.6 732.4C1265.1 734.3 1263.9 741.3 1262.1 742.3C1260.4 743.3 1250.2 742.8 1247.2 742.3C1244.2 741.8 1234.7 739.1 1232.2 737.3C1229.7 735.6 1222.4 727.1 1222.2 724.9Z" fill="#2882F0"/>
<circle cx="1299.1" cy="742.8" r="3" fill="#2882F0"/>
<path d="M1188.7 888.3C1189.2 886.4 1194.2 879.5 1196.2 878.3C1198.2 877 1206.2 875.5 1208.7 875.8C1211.2 876 1220.4 879 1221.2 880.8C1221.9 882.5 1217.9 891.5 1216.2 893.3C1214.4 895 1206.2 897.9 1203.7 898.3C1201.2 898.6 1192.7 898 1191.2 897C1189.7 896 1188.2 890.1 1188.7 888.3Z" fill="#2882F0"/>
<path d="M1231.2 883.3C1231.9 881.2 1239.4 877 1241.2 877C1242.9 877 1248.4 881.4 1248.7 883.3C1248.9 885.2 1245.2 894.3 1243.7 895.8C1242.2 897.3 1234.9 899.5 1233.7 898.3C1232.4 897 1230.4 885.4 1231.2 883.3Z" fill="#2882F0"/>
<circle cx="1278.6" cy="838.8" r="3.5" fill="#2882F0"/>
<path d="M1410.4 910.8C1409.9 907.5 1411.2 894 1412.9 890.8C1414.7 887.5 1424.6 879.8 1427.9 878.3C1431.1 876.8 1442.1 875.3 1445.4 875.8C1448.6 876.3 1458.6 881 1460.4 883.3C1462.1 885.5 1463.6 895.3 1462.8 898.3C1462.1 901.3 1455.6 910.8 1452.9 913.2C1450.1 915.7 1438.9 922.2 1435.4 923.2C1431.9 924.2 1420.4 924.5 1417.9 923.2C1415.4 922 1410.9 914 1410.4 910.8Z" fill="#2882F0"/>
<path d="M1482.8 883.3C1483.7 881.5 1490.6 873.8 1492.8 873.3C1495.1 872.8 1504.1 876.5 1505.3 878.3C1506.5 880 1506.5 889.2 1505.3 890.8C1504.1 892.4 1494.9 894.5 1492.8 894.5C1490.7 894.5 1485.1 891.9 1484.1 890.8C1483.1 889.7 1482 885 1482.8 883.3Z" fill="#2882F0"/>
<path d="M1631.4 898.3C1631.3 896.6 1636.4 890.8 1637.6 890.8C1638.9 890.8 1643.8 896.6 1643.9 898.3C1644 899.9 1640.1 907 1638.9 907C1637.6 907 1631.5 899.9 1631.4 898.3Z" fill="#2882F0"/>
<path d="M1420.4 905.8C1419.6 903.8 1423.6 895 1425.4 893.3C1427.1 891.5 1435.6 888.3 1437.9 888.3C1440.1 888.3 1447.1 891.5 1447.9 893.3C1448.6 895 1446.9 903.8 1445.4 905.8C1443.9 907.8 1435.4 913.2 1432.9 913.2C1430.4 913.2 1421.1 907.8 1420.4 905.8Z" fill="#1464D2"/>
<path d="M960 684.9C962.7 675.7 982.2 680.9 987.5 679.9C992.7 678.9 1007.4 675.2 1012.4 674.9C1017.4 674.7 1033.7 678.2 1037.4 677.4C1041.1 676.7 1046.6 668.9 1049.9 667.4C1053.1 665.9 1065.9 662.7 1069.9 662.4C1073.9 662.2 1086.3 665.2 1089.8 664.9C1093.3 664.7 1101.8 661.2 1104.8 659.9C1107.8 658.7 1116.3 653.9 1119.8 652.4C1123.3 650.9 1135.5 645.9 1139.8 644.9C1144 644 1158.3 642 1162.3 642.5C1166.3 643 1176 648.9 1179.7 649.9C1183.5 650.9 1196.2 651.9 1199.7 652.4C1203.2 652.9 1214.7 653.9 1214.7 654.9C1214.7 655.9 1203.2 660.9 1199.7 662.4C1196.2 663.9 1182.7 668.2 1179.7 669.9C1176.7 671.7 1172.2 677.9 1169.8 679.9C1167.3 681.9 1157 687.9 1154.8 689.9C1152.5 691.9 1147.8 697.9 1147.3 699.9C1146.8 701.9 1150.5 707.9 1149.8 709.9C1149 711.9 1141.8 717.9 1139.8 719.9C1137.8 721.9 1131.5 727.6 1129.8 729.9C1128 732.1 1124.3 740.3 1122.3 742.3C1120.3 744.3 1113.1 748.8 1109.8 749.8C1106.6 750.8 1093.8 752.3 1089.8 752.3C1085.8 752.3 1073.9 750.3 1069.9 749.8C1065.9 749.3 1052.4 746.8 1049.9 747.3C1047.4 747.8 1047.4 754.3 1044.9 754.8C1042.4 755.3 1028.2 753.1 1024.9 752.3C1021.7 751.6 1014.9 747.6 1012.4 747.3C1009.9 747.1 1002.4 748.6 999.9 749.8C997.4 751.1 991.5 757.6 987.5 759.8C983.5 762.1 962.7 779.8 960 772.3C957.2 764.8 957.2 694.1 960 684.9Z" fill="#FFFAAA"/>
<path d="M960 699.9C961.5 693.1 972.2 696.1 975 694.9C977.7 693.6 984.5 688.3 987.5 687.4C990.5 686.5 1001.2 686.2 1004.9 686.2C1008.7 686.2 1021.9 686.5 1024.9 687.4C1027.9 688.3 1033.7 692.9 1034.9 694.9C1036.2 696.9 1035.9 706.4 1037.4 707.4C1038.9 708.4 1047.6 705.9 1049.9 704.9C1052.1 703.9 1057.4 698.9 1059.9 697.4C1062.4 695.9 1072.4 691.4 1074.9 689.9C1077.4 688.4 1082.4 683.4 1084.8 682.4C1087.3 681.4 1096.8 679.7 1099.8 679.9C1102.8 680.2 1112.8 682.9 1114.8 684.9C1116.8 686.9 1119.1 696.9 1119.8 699.9C1120.6 702.9 1122.8 712.4 1122.3 714.9C1121.8 717.4 1116.8 723.4 1114.8 724.9C1112.8 726.4 1104.1 728.4 1102.3 729.9C1100.6 731.4 1098.6 738.1 1097.3 739.8C1096.1 741.6 1091.6 746.5 1089.8 747.3C1088.1 748.2 1081.9 749.1 1079.9 748.6C1077.9 748.1 1072.1 743.5 1069.9 742.3C1067.6 741.2 1059.9 738.3 1057.4 737.3C1054.9 736.3 1047.1 732.6 1044.9 732.4C1042.6 732.1 1037.4 734.1 1034.9 734.8C1032.4 735.6 1022.9 739.3 1019.9 739.8C1016.9 740.3 1007.7 739.6 1004.9 739.8C1002.2 740.1 994.9 741.1 992.5 742.3C990 743.6 983.2 750.3 980 752.3C976.7 754.3 962 767.6 960 762.3C958 757.1 958.5 706.6 960 699.9Z" fill="#FFC03C"/>
<path d="M968.7 717.4C969.2 715.6 975.3 712.4 977.5 712.4C979.6 712.4 989.5 716.1 990 717.4C990.5 718.6 984.2 723.6 982.5 724.9C980.7 726.1 973.8 730.6 972.5 729.9C971.1 729.1 968.2 719.1 968.7 717.4Z" fill="#FFFAAA"/>
<path d="M1137.3 664.9C1137.5 663.2 1142.8 658.3 1144.8 657.4C1146.8 656.6 1155 655.4 1157.3 656.2C1159.5 656.9 1166.6 663.1 1167.3 664.9C1167.9 666.8 1165 673.5 1163.5 674.9C1162 676.3 1154.4 678.7 1152.3 678.7C1150.1 678.7 1143.8 676.3 1142.3 674.9C1140.8 673.5 1137 666.7 1137.3 664.9Z" fill="#FFC03C"/>
<path d="M994.9 699.9C996.3 698.5 1004.7 696.1 1007.4 696.1C1010.2 696.1 1020.4 698.5 1022.4 699.9C1024.4 701.3 1027.2 707.6 1027.4 709.9C1027.7 712.1 1026.4 720.6 1024.9 722.4C1023.4 724.1 1014.9 727.4 1012.4 727.4C1009.9 727.4 1001.8 724.1 999.9 722.4C998.1 720.6 994.2 712.1 993.7 709.9C993.2 707.6 993.6 701.3 994.9 699.9Z" fill="#FF6000"/>
<path d="M1048.6 727.4C1048.6 725.1 1055.3 713.4 1057.4 712.4C1059.5 711.4 1067.1 716.1 1069.9 717.4C1072.6 718.6 1083.2 722.9 1084.8 724.9C1086.5 726.9 1086.3 735.3 1086.1 737.3C1085.8 739.3 1084 744.5 1082.4 744.8C1080.7 745.2 1072.4 742.1 1069.9 741.1C1067.4 740.1 1059.5 736.2 1057.4 734.8C1055.3 733.5 1048.6 729.6 1048.6 727.4Z" fill="#FF6000"/>
<path d="M1072.4 704.9C1072.4 704 1080.4 701 1082.4 701.1C1084.3 701.3 1092.3 705.3 1092.3 706.1C1092.3 707 1084.3 710 1082.4 709.9C1080.4 709.8 1072.4 705.8 1072.4 704.9Z" fill="#FF6000"/>
<path d="M1354.5 704.9C1355 702.9 1365 698.4 1369.5 697.4C1374 696.4 1396.5 691.6 1399.5 694.9C1402.5 698.1 1401.5 726.9 1399.5 729.9C1397.5 732.8 1383 726.1 1379.5 724.9C1376 723.6 1367 719.4 1364.5 717.4C1362 715.4 1354 706.9 1354.5 704.9Z" fill="#FFFAAA"/>
<path d="M1377 707.4C1377.3 705.9 1387.3 702.9 1389.5 702.4C1391.8 701.9 1398.5 700.6 1399.5 702.4C1400.5 704.1 1400.7 718.4 1399.5 719.9C1398.2 721.4 1389.3 718.6 1387 717.4C1384.8 716.1 1376.8 708.9 1377 707.4Z" fill="#FFC03C"/>
<path d="M1253.7 795.9C1254.4 793.9 1260.9 787.9 1263.6 785.9C1266.4 783.9 1277.6 777.2 1281.1 775.9C1284.6 774.7 1295.6 772.7 1298.6 773.4C1301.6 774.2 1308.1 782.1 1311.1 783.4C1314.1 784.6 1324.8 785.4 1328.6 785.9C1332.3 786.4 1344.1 787.9 1348.5 788.4C1353 788.9 1368.5 790.4 1373.5 790.9C1378.5 791.4 1396 785.9 1398.5 793.4C1401 800.9 1401 858.8 1398.5 865.8C1396 872.8 1378.5 863.8 1373.5 863.3C1368.5 862.8 1352.8 861.6 1348.5 860.8C1344.3 860.1 1334.1 857.3 1331.1 855.8C1328.1 854.3 1320.1 848.3 1318.6 845.8C1317.1 843.3 1317.6 833.3 1316.1 830.8C1314.6 828.3 1306.6 822.4 1303.6 820.9C1300.6 819.4 1289.6 816.6 1286.1 815.9C1282.6 815.1 1271.6 814.4 1268.6 813.4C1265.6 812.4 1257.7 807.6 1256.2 805.9C1254.7 804.1 1252.9 797.9 1253.7 795.9Z" fill="#FFFAAA"/>
<path d="M1283.6 793.4C1283.9 792.4 1291.6 789.4 1293.6 789.6C1295.6 789.9 1303.8 794.9 1303.6 795.9C1303.3 796.9 1293.1 799.9 1291.1 799.6C1289.1 799.4 1283.4 794.4 1283.6 793.4Z" fill="#FFFFFF"/>
<path d="M1318 790.8C1321.5 783 1347 788.8 1353 788.3C1359 787.8 1372.9 786.3 1377.9 785.8C1382.9 785.3 1397.9 783.3 1402.9 783.3C1407.9 783.3 1423.4 784.8 1427.9 785.8C1432.4 786.8 1444.4 791.8 1447.9 793.3C1451.4 794.8 1460.4 798.8 1462.8 800.8C1465.3 802.8 1473.3 811.3 1472.8 813.3C1472.3 815.3 1459.9 818.3 1457.9 820.8C1455.9 823.2 1453.9 835.2 1452.9 838.2C1451.9 841.2 1450.4 848.5 1447.9 850.7C1445.4 853 1432.4 859.2 1427.9 860.7C1423.4 862.2 1407.9 865.6 1402.9 865.7C1397.9 865.8 1382.9 862.2 1377.9 862C1372.9 861.7 1359 862.8 1353 863.2C1347 863.6 1321.5 872.9 1318 865.7C1314.5 858.5 1314.5 798.5 1318 790.8Z" fill="#FFFAAA"/>
<path d="M1271.1 808.4C1271.4 807.4 1278.4 803.6 1281.1 803.4C1283.9 803.1 1294.9 805.9 1298.6 805.9C1302.4 805.9 1314.6 804.1 1318.6 803.4C1322.6 802.6 1334.6 798.6 1338.6 798.4C1342.6 798.1 1354.5 799.9 1358.5 800.9C1362.5 801.9 1375.8 805.9 1378.5 808.4C1381.3 810.9 1385.5 822.4 1386 825.8C1386.5 829.3 1384.8 840.6 1383.5 843.3C1382.3 846.1 1376.5 852.1 1373.5 853.3C1370.5 854.6 1357.5 856.1 1353.5 855.8C1349.5 855.6 1336.8 852.3 1333.6 850.8C1330.3 849.3 1322.6 843.1 1321.1 840.8C1319.6 838.6 1319.8 830.8 1318.6 828.3C1317.3 825.8 1311.1 817.4 1308.6 815.9C1306.1 814.4 1296.6 813.6 1293.6 813.4C1290.6 813.1 1280.9 813.9 1278.6 813.4C1276.4 812.9 1270.9 809.4 1271.1 808.4Z" fill="#FFC03C"/>
<path d="M1318 798.3C1320.5 792.4 1338.7 796.8 1343 797C1347.2 797.3 1357 800.6 1360.5 800.8C1364 800.9 1373.7 798.8 1377.9 798.3C1382.2 797.8 1397.9 795.8 1402.9 795.8C1407.9 795.8 1424.4 797 1427.9 798.3C1431.4 799.5 1436.6 806 1437.9 808.3C1439.1 810.5 1438.9 819 1440.4 820.8C1441.9 822.5 1452.1 824 1452.9 825.7C1453.6 827.5 1449.9 836.2 1447.9 838.2C1445.9 840.2 1435.9 844.5 1432.9 845.7C1429.9 847 1420.9 850.5 1417.9 850.7C1414.9 851 1405.7 849.5 1402.9 848.2C1400.2 847 1392.9 838 1390.4 838.2C1387.9 838.5 1381.7 849 1377.9 850.7C1374.2 852.5 1359 855.2 1353 855.7C1347 856.2 1321.5 861.5 1318 855.7C1314.5 850 1315.5 804.1 1318 798.3Z" fill="#FFC03C"/>
<path d="M1390.4 810.8C1392.4 808.8 1400.9 805.5 1402.9 805.8C1404.9 806 1410.2 811.3 1410.4 813.3C1410.7 815.3 1407.2 823.7 1405.4 825.7C1403.7 827.7 1395.2 833.2 1392.9 833.2C1390.7 833.2 1383.2 828 1382.9 825.7C1382.7 823.5 1388.4 812.8 1390.4 810.8Z" fill="#FFFAAA"/>
<path d="M1303.6 809.6C1303.6 808.7 1315.1 807 1318.6 807.1C1322.1 807.2 1334.6 810 1338.6 810.9C1342.6 811.7 1355 814.6 1358.5 815.9C1362 817.1 1372 821.1 1373.5 823.4C1375 825.6 1374.5 835.8 1373.5 838.3C1372.5 840.8 1366 847.1 1363.5 848.3C1361 849.6 1351.5 851.1 1348.5 850.8C1345.6 850.6 1336.1 847.1 1333.6 845.8C1331.1 844.6 1324.3 840.3 1323.6 838.3C1322.8 836.3 1326.6 828.1 1326.1 825.8C1325.6 823.6 1320.8 817.5 1318.6 815.9C1316.3 814.2 1303.6 810.5 1303.6 809.6Z" fill="#FF6000"/>
<path d="M1318 808.3C1320.5 804.1 1339 808.8 1343 809.5C1347 810.3 1355 814.1 1358 815.8C1361 817.4 1371.2 823.5 1372.9 825.7C1374.7 828 1376.2 836 1375.4 838.2C1374.7 840.5 1368.2 846.7 1365.5 848.2C1362.7 849.7 1352.7 853 1348 853.2C1343.2 853.5 1321 855.2 1318 850.7C1315 846.2 1315.5 812.4 1318 808.3Z" fill="#FF6000"/>
<path d="M1395.4 865.7C1394.2 864.5 1398.7 855.1 1400.4 853.2C1402.2 851.3 1411.2 848.7 1412.9 847C1414.7 845.2 1417 835.6 1417.9 835.7C1418.8 835.9 1422.1 845.2 1421.6 848.2C1421.1 851.2 1415.5 864 1412.9 865.7C1410.3 867.4 1396.7 866.9 1395.4 865.7Z" fill="#FF6000"/>
<path d="M1326.1 835.8C1326.3 834.2 1333.8 828.3 1336.1 827.1C1338.3 825.8 1346.1 823.2 1348.5 823.4C1351 823.5 1359.3 827.1 1361 828.3C1362.8 829.6 1366.3 834.3 1366 835.8C1365.8 837.3 1360.5 842.3 1358.5 843.3C1356.5 844.3 1348.5 845.8 1346.1 845.8C1343.6 845.8 1335.6 844.3 1333.6 843.3C1331.6 842.3 1325.8 837.5 1326.1 835.8Z" fill="#E11400"/>
<path d="M1333.6 835.8C1334.1 834.8 1341.6 831.2 1343.6 830.8C1345.6 830.5 1352 831.5 1353.5 832.1C1355 832.7 1359 836.1 1358.5 837.1C1358 838.1 1350.5 841.7 1348.5 842.1C1346.6 842.5 1340.1 841.5 1338.6 840.8C1337.1 840.2 1333.1 836.8 1333.6 835.8Z" fill="#A50000"/>
<path d="M1123.8 913.2C1124.1 909.3 1129.3 894.3 1131.3 890.8C1133.3 887.3 1141 879 1143.8 878.3C1146.5 877.5 1156.8 881.5 1158.8 883.3C1160.8 885 1164 893 1163.8 895.8C1163.5 898.5 1158.3 908 1156.3 910.8C1154.3 913.5 1146.5 921.2 1143.8 923.2C1141 925.2 1130.8 931.7 1128.8 930.7C1126.8 929.7 1123.6 917.2 1123.8 913.2Z" fill="#FFFAAA"/>
<path d="M1132.5 910.8C1132.3 908.5 1134.9 898.4 1136.3 895.8C1137.7 893.1 1144 885.3 1146.3 884.5C1148.5 883.8 1157.4 886.9 1158.8 888.3C1160.1 889.7 1160.8 896 1160 898.3C1159.3 900.5 1153.4 908.8 1151.3 910.8C1149.1 912.7 1140.7 918.2 1138.8 918.2C1136.9 918.2 1132.8 913 1132.5 910.8Z" fill="#FFC03C"/>
<circle cx="1146.8" cy="899.5" r="4" fill="#FF6000"/>
<path d="M1086.3 915.7C1087.6 913.7 1096.6 910.8 1098.8 910.8C1101.1 910.8 1108.1 913.7 1108.8 915.7C1109.6 917.7 1108.6 929.2 1106.3 930.7C1104.1 932.2 1088.3 932.2 1086.3 930.7C1084.3 929.2 1085.1 917.7 1086.3 915.7Z" fill="#FFFAAA"/>
<path d="M1092.6 917C1092.8 915.9 1100 914.2 1101.3 914.5C1102.7 914.7 1106.6 918.4 1106.3 919.5C1106.1 920.6 1100.2 926 1098.8 925.7C1097.5 925.5 1092.3 918.1 1092.6 917Z" fill="#FFC03C"/>
<path d="M984 873.3C985.2 872.5 997.3 870.8 998.9 871.3C1000.6 871.7 1001.4 877 1000.2 877.8C998.9 878.5 988.1 879.2 986.5 878.8C984.8 878.3 982.7 874 984 873.3Z" fill="#FFFAAA"/>
<path d="M1253.7 923.2C1255.7 922 1269.1 918.9 1273.6 918.2C1278.1 917.6 1293.6 916.7 1298.6 917C1303.6 917.2 1320.6 919.4 1323.6 920.7C1326.6 922.1 1335.6 929.7 1328.6 930.7C1321.6 931.7 1261.1 931.5 1253.7 930.7C1246.2 930 1251.7 924.5 1253.7 923.2Z" fill="#FFFAAA"/>
<path d="M1530.3 650.9C1529.3 648.8 1535 640.1 1537.8 638.5C1540.5 636.8 1553.5 634.7 1557.7 634.7C1562 634.7 1578 636.8 1580.2 638.5C1582.5 640.1 1581.5 649.2 1580.2 650.9C1579 652.7 1571 655.1 1567.7 655.9C1564.5 656.8 1551.5 660.2 1547.8 659.7C1544 659.2 1531.3 653.1 1530.3 650.9Z" fill="#FFFAAA"/>
<path d="M1625.2 638.5C1625.9 637.8 1634.9 635.5 1637.6 635.5C1640.4 635.4 1651.6 637.3 1652.6 638C1653.6 638.6 1649.9 641.8 1647.6 642.2C1645.4 642.6 1632.4 642.6 1630.2 642.2C1627.9 641.8 1624.4 639.1 1625.2 638.5Z" fill="#FFFAAA"/>
<path d="M1355.5 708.4C1356.2 706.6 1369 700.4 1372.9 698.4C1376.9 696.4 1391.7 688.2 1395.4 688.4C1399.2 688.7 1407.2 698.6 1410.4 700.9C1413.7 703.1 1424.9 708.4 1427.9 710.9C1430.9 713.4 1439.4 722.4 1440.4 725.9C1441.4 729.4 1440.1 742.6 1437.9 745.8C1435.6 749.1 1421.4 758.8 1417.9 758.3C1414.4 757.8 1406.2 744.6 1402.9 740.8C1399.7 737.1 1389.2 723.4 1385.4 720.9C1381.7 718.4 1368.5 717.1 1365.5 715.9C1362.5 714.6 1354.7 710.1 1355.5 708.4Z" fill="#FFFAAA"/>
<path d="M1377.9 705.9C1378.4 705.4 1387.2 707.6 1390.4 708.4C1393.7 709.1 1406.7 711.6 1410.4 713.4C1414.2 715.1 1425.6 723.4 1427.9 725.9C1430.1 728.4 1433.4 736.6 1432.9 738.3C1432.4 740.1 1425.1 743.6 1422.9 743.3C1420.6 743.1 1412.7 737.8 1410.4 735.8C1408.2 733.8 1402.9 725.6 1400.4 723.4C1397.9 721.1 1387.7 715.1 1385.4 713.4C1383.2 711.6 1377.4 706.4 1377.9 705.9Z" fill="#FFC03C"/>
<path d="M1459.1 758.3C1457.6 757.2 1470 750 1472.8 748.3C1475.7 746.7 1484.3 742.7 1487.8 742.1C1491.3 741.5 1504.6 741.8 1507.8 742.1C1511 742.3 1519.8 743 1520.3 744.6C1520.8 746.2 1516 756.8 1512.8 758.3C1509.5 759.8 1493.2 759.6 1487.8 759.6C1482.5 759.6 1460.6 759.4 1459.1 758.3Z" fill="#FFFAAA"/>
<path d="M1447 839.2C1446.4 836.1 1449.6 825.8 1451.9 823.4C1454.1 821 1466.1 817.3 1469.4 815.4C1472.6 813.5 1481.4 806.9 1484.5 804.4C1487.6 801.9 1496.6 792.9 1500.1 790.3C1503.5 787.7 1515.1 780.8 1519 778.7C1522.8 776.5 1534.4 770.4 1538.6 768.8C1542.8 767.2 1556.5 763.1 1561 762.4C1565.4 761.7 1578.5 761.5 1582.9 761.7C1587.2 761.8 1600.7 762.8 1604.2 763.8C1607.6 764.9 1615.5 769.7 1617.4 772.2C1619.3 774.6 1622.7 785 1623.1 788.2C1623.4 791.4 1621.9 801.4 1621 804.3C1620.1 807.3 1614.2 815.8 1613.7 818C1613.2 820.2 1614.7 824.9 1616.2 826.3C1617.6 827.6 1626.1 830.5 1628.6 831.6C1631.1 832.6 1640.6 835.2 1641 836.8C1641.5 838.4 1635.6 846 1633.3 847.6C1631 849.3 1620.8 853.1 1618 853.4C1615.2 853.8 1607.9 852.2 1605.4 851.3C1602.8 850.3 1596.3 844.5 1592.9 843.8C1589.5 843.1 1575.4 843.7 1571.3 844.3C1567.3 844.8 1555.9 848.4 1552.5 849.2C1549.1 850 1540.9 852 1537.5 852.3C1534.1 852.6 1521.8 851.9 1518.3 852.2C1514.8 852.5 1505.9 854.5 1502.8 855.3C1499.8 856.1 1490.7 859.3 1487.7 860C1484.6 860.7 1475.5 862.7 1472.5 862.2C1469.4 861.7 1459.8 857.5 1457.2 855.2C1454.6 852.9 1447.5 842.4 1447 839.2Z" fill="#FFFAAA"/>
<path d="M1577.7 763.3C1576.7 761.3 1589.2 756.7 1592.7 755.8C1596.2 755 1609.7 753.6 1612.7 754.6C1615.7 755.6 1621.9 763.2 1622.7 765.8C1623.4 768.4 1622.2 779.8 1620.2 780.8C1618.2 781.8 1606.9 777.6 1602.7 775.8C1598.4 774.1 1578.7 765.3 1577.7 763.3Z" fill="#FFFAAA"/>
<path d="M1449.7 838.8C1449.1 835.7 1452.4 825.7 1454.6 823.3C1456.9 821 1468.8 817.4 1472.1 815.5C1475.3 813.7 1484.1 807.4 1487.2 805C1490.2 802.6 1499.1 794.1 1502.5 791.7C1505.8 789.3 1517 782.8 1520.7 780.8C1524.4 778.8 1535.4 773 1539.4 771.4C1543.3 769.9 1556.4 765.8 1560.6 765.1C1564.9 764.4 1577.5 764.1 1581.6 764.1C1585.8 764.2 1599 764.9 1602.3 765.9C1605.7 766.8 1613.4 771.5 1615.3 773.8C1617.1 776.2 1620.3 786.3 1620.6 789.4C1620.9 792.5 1619.3 802.1 1618.3 805C1617.4 807.9 1611.4 816 1610.9 818.1C1610.4 820.2 1611.9 824.7 1613.4 826C1614.9 827.3 1623.4 830.2 1625.9 831.2C1628.4 832.2 1637.9 834.8 1638.3 836.3C1638.8 837.9 1633 845.2 1630.7 846.8C1628.5 848.3 1618.3 851.9 1615.6 852.2C1612.8 852.5 1605.5 850.8 1603 849.9C1600.5 848.9 1593.8 843.1 1590.5 842.4C1587.2 841.6 1573.5 841.7 1569.7 842.1C1565.9 842.5 1555.7 845.7 1552.6 846.5C1549.5 847.2 1542 849.5 1538.8 849.9C1535.5 850.2 1523.7 850 1520.3 850.4C1517 850.8 1508.1 853 1505.1 853.8C1502.1 854.6 1493 857.9 1490 858.6C1487 859.3 1478 861.4 1474.9 860.9C1471.9 860.5 1462.3 856.5 1459.8 854.3C1457.3 852.1 1450.2 841.9 1449.7 838.8Z" fill="#FFC03C"/>
<path d="M1592.7 850.8C1594.4 849.6 1611.4 852.8 1615.2 853.3C1618.9 853.8 1629.4 854.1 1630.2 855.8C1630.9 857.6 1624.9 868.8 1622.7 870.8C1620.4 872.8 1610.2 876.3 1607.7 875.8C1605.2 875.3 1599.2 868.3 1597.7 865.8C1596.2 863.3 1591 852.1 1592.7 850.8Z" fill="#FFC03C"/>
<path d="M1532.8 863.3C1534.3 862.1 1550.2 859.6 1552.7 860.8C1555.2 862.1 1557.7 872.8 1557.7 875.8C1557.7 878.8 1554 890 1552.7 890.8C1551.5 891.5 1546.8 885 1545.3 883.3C1543.8 881.5 1539 875.3 1537.8 873.3C1536.5 871.3 1531.3 864.6 1532.8 863.3Z" fill="#FFFAAA"/>
<path d="M1452.9 838.2C1452.4 835.2 1455.6 825.5 1457.9 823.2C1460.1 821 1472.1 817.5 1475.3 815.8C1478.6 814 1487.3 808 1490.3 805.8C1493.3 803.5 1502.1 795.5 1505.3 793.3C1508.5 791 1519.3 785.2 1522.8 783.3C1526.3 781.4 1536.5 776.1 1540.3 774.6C1544 773.1 1556.2 769.1 1560.2 768.3C1564.2 767.6 1576.2 767.1 1580.2 767.1C1584.2 767.1 1596.9 767.4 1600.2 768.3C1603.4 769.2 1610.9 773.6 1612.7 775.8C1614.4 778 1617.4 787.8 1617.7 790.8C1617.9 793.8 1616.2 803 1615.2 805.8C1614.2 808.5 1608.2 816.3 1607.7 818.3C1607.2 820.3 1608.7 824.5 1610.2 825.7C1611.7 827 1620.2 829.7 1622.7 830.7C1625.2 831.7 1634.7 834.2 1635.2 835.7C1635.7 837.2 1629.9 844.2 1627.7 845.7C1625.4 847.2 1615.4 850.5 1612.7 850.7C1609.9 851 1602.7 849.2 1600.2 848.2C1597.7 847.2 1591 841.6 1587.7 840.7C1584.5 839.9 1571.2 839.2 1567.7 839.5C1564.2 839.7 1555.5 842.5 1552.7 843.2C1550 844 1543.3 846.5 1540.3 847C1537.3 847.5 1526 847.7 1522.8 848.2C1519.5 848.7 1510.8 851.1 1507.8 852C1504.8 852.8 1495.8 856.2 1492.8 857C1489.8 857.7 1480.8 859.8 1477.8 859.5C1474.8 859.1 1465.3 855.3 1462.8 853.2C1460.4 851.1 1453.4 841.2 1452.9 838.2Z" fill="#FF6000"/>
<path d="M1457.9 838.2C1457.5 835.7 1459.6 827.7 1461.6 825.7C1463.6 823.8 1474.7 820.5 1477.8 818.8C1481 817.1 1489.8 811 1492.8 808.8C1495.8 806.5 1504.8 798.5 1507.8 796.3C1510.8 794 1519.5 788.2 1522.8 786.3C1526 784.4 1536.5 778.5 1540.3 777.1C1544 775.6 1556.2 772 1560.2 771.3C1564.2 770.6 1576.5 770.1 1580.2 770.3C1584 770.5 1594.8 772 1597.7 773.3C1600.6 774.6 1607.4 780.8 1608.9 783.3C1610.4 785.8 1612.7 795.3 1612.7 798.3C1612.7 801.3 1610.1 810.6 1608.9 813.3C1607.8 815.9 1603.1 822.6 1601.4 824.5C1599.8 826.4 1591.8 831 1592.7 832C1593.6 833 1606.9 833.9 1610.2 834.5C1613.4 835.1 1625.2 837.2 1625.2 838.2C1625.2 839.2 1613.9 844.7 1610.2 844.5C1606.4 844.2 1592 836.6 1587.7 835.7C1583.5 834.9 1571.2 835.8 1567.7 836.2C1564.2 836.7 1555.5 839.4 1552.7 840.2C1550 841.1 1543.3 843.9 1540.3 844.5C1537.3 845 1526 845.2 1522.8 845.7C1519.5 846.2 1510.8 848.6 1507.8 849.5C1504.8 850.3 1495.8 853.8 1492.8 854.5C1489.8 855.1 1480.6 856.6 1477.8 856.2C1475.1 855.8 1467.3 852.5 1465.3 850.7C1463.3 848.9 1458.2 840.7 1457.9 838.2Z" fill="#E11400"/>
<path d="M1462.8 838.2C1462.6 836.4 1464.2 830.4 1465.8 828.7C1467.5 827.1 1476.3 823.7 1479.1 822C1481.9 820.3 1491.1 814.3 1494.1 812C1497.1 809.8 1506 801.8 1509 799.5C1512 797.3 1520.8 791.5 1524 789.5C1527.3 787.6 1537.9 781.7 1541.5 780.3C1545.1 778.8 1556.6 775.7 1560.2 775.1C1563.9 774.5 1574.3 774 1577.7 774.3C1581.1 774.6 1591.3 776.9 1593.9 778.3C1596.6 779.7 1602.6 786 1603.9 788.3C1605.3 790.5 1607.7 798.3 1607.7 800.8C1607.7 803.3 1605.1 811 1603.9 813.3C1602.8 815.5 1598.2 821.6 1596.4 823.2C1594.7 824.9 1589.3 829.3 1586.5 830.2C1583.6 831.2 1571.1 832.1 1567.7 832.7C1564.4 833.4 1555.5 836.1 1552.7 837C1550 837.8 1543.3 840.7 1540.3 841.2C1537.3 841.8 1526 842.2 1522.8 842.7C1519.5 843.2 1510.8 845.4 1507.8 846.2C1504.8 847.1 1495.7 850.6 1492.8 851.2C1489.9 851.9 1481.6 853.1 1479.1 852.7C1476.6 852.3 1469.5 848.4 1467.8 847C1466.2 845.5 1463 840.1 1462.8 838.2Z" fill="#A50000"/>
<path d="M1660.1 930.7C1651.9 928 1667.9 907.8 1670.1 903.3C1672.4 898.8 1679.4 888.8 1682.6 885.8C1685.8 882.8 1698.6 875.3 1702.6 873.3C1706.6 871.3 1717.6 867.6 1722.6 865.8C1727.5 864.1 1749.5 849.3 1752.5 855.8C1755.5 862.3 1761.8 923.2 1752.5 930.7C1743.3 938.2 1668.4 933.5 1660.1 930.7Z" fill="#FFFAAA"/>
<path d="M1670.1 930.7C1662.6 928.2 1675.9 910 1677.6 905.8C1679.4 901.5 1685.1 889.3 1687.6 888.3C1690.1 887.3 1699.6 896 1702.6 895.8C1705.6 895.5 1715.1 888.3 1717.6 885.8C1720.1 883.3 1724.1 873 1727.5 870.8C1731 868.5 1750 857.3 1752.5 863.3C1755 869.3 1760.8 924 1752.5 930.7C1744.3 937.5 1677.6 933.2 1670.1 930.7Z" fill="#FFC03C"/>
<path d="M1702.6 888.3C1702.8 886.8 1711.1 883 1712.6 883.3C1714.1 883.5 1717.8 889.3 1717.6 890.8C1717.3 892.3 1711.6 898.5 1710.1 898.3C1708.6 898 1702.3 889.8 1702.6 888.3Z" fill="#FFFAAA"/>
<path d="M1672.6 930.7C1670.4 928.5 1678.6 911.5 1680.1 908.3C1681.6 905 1686.1 898.3 1687.6 898.3C1689.1 898.3 1693.6 905 1695.1 908.3C1696.6 911.5 1704.8 928.5 1702.6 930.7C1700.3 933 1674.9 933 1672.6 930.7Z" fill="#FF6000"/>
</g>
<g clip-path="url(#cld)">
<use href="#coast" x="889.1" y="560.6"/>
<path d="M990 688.6C993 687.7 1003.9 687.2 1007.4 687.4C1010.9 687.7 1022.4 689.6 1024.9 691.1C1027.4 692.6 1031.5 700 1032.4 702.4C1033.3 704.8 1034.2 712.6 1033.7 714.9C1033.2 717.1 1029.3 723.4 1027.4 724.9C1025.5 726.4 1017.7 729.6 1014.9 729.9C1012.2 730.1 1002.7 727.1 999.9 727.4C997.2 727.6 989.7 731.6 987.5 732.4C985.2 733.1 977.7 735.6 977.5 734.8C977.2 734.1 983.5 726.6 985 724.9C986.5 723.1 993.2 718.9 992.5 717.4C991.7 715.9 979.7 711.1 977.5 709.9C975.2 708.6 970 706.1 970 704.9C970 703.6 975.5 699 977.5 697.4C979.5 695.8 987 689.6 990 688.6Z" class="sol"/>
<path d="M1047.4 727.4C1046.9 724.9 1051.1 714.9 1052.4 712.4C1053.6 709.9 1057.6 704.4 1059.9 702.4C1062.1 700.4 1071.9 694.1 1074.9 692.4C1077.9 690.6 1086.8 685.8 1089.8 684.9C1092.8 684 1102.3 683.2 1104.8 683.7C1107.3 684.2 1113.3 687.8 1114.8 689.9C1116.3 692 1119.1 702.1 1119.8 704.9C1120.6 707.6 1123.1 715.2 1122.3 717.4C1121.6 719.5 1114.6 724.9 1112.3 726.1C1110.1 727.4 1101.5 728.5 1099.8 729.9C1098.2 731.2 1097.1 738.1 1096.1 739.8C1095.1 741.6 1091.2 746.3 1089.8 747.3C1088.5 748.3 1084.3 750.2 1082.4 749.8C1080.4 749.5 1072.4 744.8 1069.9 743.6C1067.4 742.3 1059.6 739 1057.4 737.3C1055.1 735.7 1047.9 729.9 1047.4 727.4Z" class="sol"/>
<path d="M1074.9 719.4C1074.9 718.5 1080.9 714.9 1082.4 714.9C1083.8 714.9 1089.8 718.5 1089.8 719.4C1089.8 720.2 1083.8 723.6 1082.4 723.6C1080.9 723.6 1074.9 720.2 1074.9 719.4Z" class="sol"/>
<path d="M1166.8 666.4C1166.8 667.5 1165.9 670.7 1165.3 671.6C1164.8 672.6 1162.3 675.1 1161.3 675.8C1160.3 676.4 1156.7 677.9 1155.5 678.1C1154.3 678.3 1150.3 678.3 1149 678.1C1147.8 677.9 1144.2 676.4 1143.2 675.8C1142.3 675.1 1139.8 672.6 1139.2 671.6C1138.7 670.7 1137.8 667.5 1137.8 666.4C1137.8 665.4 1138.7 662.2 1139.2 661.2C1139.8 660.3 1142.3 657.7 1143.2 657.1C1144.2 656.4 1147.8 655 1149 654.7C1150.3 654.5 1154.3 654.5 1155.5 654.7C1156.7 655 1160.3 656.4 1161.3 657.1C1162.3 657.7 1164.8 660.3 1165.3 661.2C1165.9 662.2 1166.8 665.4 1166.8 666.4Z" class="sol"/>
<path d="M1269.9 808.4C1269.4 807.5 1276.3 803.2 1278.6 803.4C1281 803.5 1291.1 809 1293.6 809.6C1296.1 810.2 1300.9 809.9 1303.6 809.6C1306.3 809.3 1317.6 806.1 1321.1 806.4C1324.6 806.6 1334.8 810.9 1338.6 812.1C1342.3 813.3 1355 817.2 1358.5 818.4C1362 819.5 1371.9 821.6 1373.5 823.4C1375.1 825.1 1375.3 833.6 1374.8 835.8C1374.3 838.1 1370.6 844.3 1368.5 845.8C1366.4 847.3 1356.8 850.7 1353.5 850.8C1350.3 850.9 1339.1 848.2 1336.1 847.1C1333.1 845.9 1324.6 841.7 1323.6 839.6C1322.6 837.5 1326.6 828.3 1326.1 825.8C1325.6 823.4 1321.3 816.1 1318.6 814.6C1315.8 813.1 1302.1 811.1 1298.6 810.9C1295.1 810.6 1286.5 812.4 1283.6 812.1C1280.7 811.9 1270.4 809.2 1269.9 808.4Z" class="sol"/>
<path d="M1452.9 838.2C1452.4 835.2 1455.6 825.5 1457.9 823.2C1460.1 821 1472.1 817.5 1475.3 815.8C1478.6 814 1487.3 808 1490.3 805.8C1493.3 803.5 1502.1 795.5 1505.3 793.3C1508.5 791 1519.3 785.2 1522.8 783.3C1526.3 781.4 1536.5 776.1 1540.3 774.6C1544 773.1 1556.2 769.1 1560.2 768.3C1564.2 767.6 1576.2 767.1 1580.2 767.1C1584.2 767.1 1596.9 767.4 1600.2 768.3C1603.4 769.2 1610.9 773.6 1612.7 775.8C1614.4 778 1617.4 787.8 1617.7 790.8C1617.9 793.8 1616.2 803 1615.2 805.8C1614.2 808.5 1608.2 816.3 1607.7 818.3C1607.2 820.3 1608.7 824.5 1610.2 825.7C1611.7 827 1620.2 829.7 1622.7 830.7C1625.2 831.7 1634.7 834.2 1635.2 835.7C1635.7 837.2 1629.9 844.2 1627.7 845.7C1625.4 847.2 1615.4 850.5 1612.7 850.7C1609.9 851 1602.7 849.2 1600.2 848.2C1597.7 847.2 1591 841.6 1587.7 840.7C1584.5 839.9 1571.2 839.2 1567.7 839.5C1564.2 839.7 1555.5 842.5 1552.7 843.2C1550 844 1543.3 846.5 1540.3 847C1537.3 847.5 1526 847.7 1522.8 848.2C1519.5 848.7 1510.8 851.1 1507.8 852C1504.8 852.8 1495.8 856.2 1492.8 857C1489.8 857.7 1480.8 859.8 1477.8 859.5C1474.8 859.1 1465.3 855.3 1462.8 853.2C1460.4 851.1 1453.4 841.2 1452.9 838.2Z" class="sol"/>
<path d="M1132.5 910.8C1132.3 908.4 1134.9 898.4 1136.3 895.8C1137.7 893.1 1144 885.3 1146.3 884.5C1148.5 883.8 1157.4 886.9 1158.8 888.3C1160.1 889.7 1160.8 896 1160 898.3C1159.3 900.5 1153.4 908.6 1151.3 910.8C1149.1 912.9 1140.7 919.5 1138.8 919.5C1136.9 919.5 1132.8 913.1 1132.5 910.8Z" class="sol"/>
<path d="M1400.4 715.9C1400.9 714.7 1408.4 714.1 1410.4 714.6C1412.4 715.1 1418.6 719.2 1420.4 720.9C1422.1 722.5 1427.6 729.2 1427.9 730.9C1428.1 732.5 1424.4 736.6 1422.9 737.1C1421.4 737.6 1414.7 737 1412.9 735.8C1411.2 734.7 1406.7 727.9 1405.4 725.9C1404.2 723.9 1399.9 717 1400.4 715.9Z" class="sol"/>
<path d="M1395.4 863.3C1395.2 862.1 1398.9 854.6 1400.4 853.3C1401.9 852.1 1409.4 849.8 1410.4 850.8C1411.4 851.8 1411.2 861.8 1410.4 863.3C1409.7 864.8 1404.4 865.8 1402.9 865.8C1401.4 865.8 1395.7 864.6 1395.4 863.3Z" class="sol"/>
<path d="M1671.4 928.2C1672 926.5 1676.6 913.4 1677.6 910.8C1678.6 908.1 1680.4 903.3 1681.4 902C1682.3 900.7 1686.3 897.1 1687.6 897.8C1688.8 898.4 1692.5 905.2 1693.8 908.3C1695.2 911.3 1700.6 926.2 1701.3 928.2" class="sol"/>
<path d="M1189.7 704.9C1192 702.5 1210.7 694.6 1214.7 693.6C1218.7 692.6 1226.2 693.6 1229.7 694.9C1233.2 696.1 1245.7 704.3 1249.7 706.1C1253.7 708 1265.1 712.1 1269.6 713.6C1274.1 715.1 1290.4 719.5 1294.6 721.1C1298.9 722.7 1309.7 728 1312.1 729.9C1314.5 731.7 1318.6 737.8 1318.3 739.8C1318.1 741.8 1312 748.8 1309.6 749.8C1307.2 750.8 1297.6 750.2 1294.6 749.8C1291.6 749.5 1282.9 746.1 1279.6 746.1C1276.4 746.1 1265.9 749.2 1262.1 749.8C1258.4 750.5 1245.9 751.7 1242.2 752.3C1238.4 753 1227.7 756.8 1224.7 756.1C1221.7 755.3 1214.7 747.2 1212.2 744.8C1209.7 742.5 1201.7 735.1 1199.7 732.4C1197.7 729.6 1193.2 720.1 1192.2 717.4C1191.2 714.6 1187.5 707.3 1189.7 704.9Z" class="dsh"/>
<path d="M1167.3 784.8C1167 781.8 1168.5 772.1 1169.8 769.8C1171 767.6 1177 763.3 1179.7 762.3C1182.5 761.3 1194.5 759.1 1197.2 759.8C1200 760.6 1206 767.1 1207.2 769.8C1208.5 772.6 1210 783.8 1209.7 787.3C1209.5 790.8 1206.2 802 1204.7 804.8C1203.2 807.5 1197 814 1194.7 814.8C1192.5 815.5 1184.5 813.8 1182.2 812.3C1180 810.8 1173.7 802.5 1172.2 799.8C1170.8 797 1167.5 787.8 1167.3 784.8Z" class="dsh"/>
<path d="M1173.7 888.3C1173.2 885.3 1175 873.5 1176.2 870.8C1177.5 868 1183.5 862.6 1186.2 860.8C1189 859.1 1200 853.8 1203.7 853.3C1207.5 852.8 1219.9 854.8 1223.7 855.8C1227.4 856.8 1238.4 861.3 1241.2 863.3C1243.9 865.3 1250.4 873 1251.2 875.8C1251.9 878.5 1249.9 888 1248.7 890.8C1247.4 893.5 1241.2 901.8 1238.7 903.3C1236.2 904.8 1226.7 905.8 1223.7 905.8C1220.7 905.8 1211.7 903.5 1208.7 903.3C1205.7 903 1196.5 903.5 1193.7 903.3C1191 903 1183.2 902.3 1181.2 900.8C1179.2 899.3 1174.2 891.3 1173.7 888.3Z" class="dsh"/>
<path d="M1288.6 839.6C1288.6 840.5 1288 843.5 1287.7 844.3C1287.3 845.2 1285.7 847.6 1285 848.2C1284.4 848.8 1282 850.1 1281.2 850.3C1280.4 850.5 1277.8 850.5 1277 850.3C1276.2 850.1 1273.9 848.8 1273.2 848.2C1272.6 847.6 1270.9 845.2 1270.6 844.3C1270.2 843.5 1269.6 840.5 1269.6 839.6C1269.6 838.6 1270.2 835.7 1270.6 834.8C1270.9 834 1272.6 831.6 1273.2 831C1273.9 830.4 1276.2 829.1 1277 828.9C1277.8 828.7 1280.4 828.7 1281.2 828.9C1282 829.1 1284.4 830.4 1285 831C1285.7 831.6 1287.3 834 1287.7 834.8C1288 835.7 1288.6 838.6 1288.6 839.6Z" class="dsh"/>
<path d="M1358.5 883.3C1360.3 882.8 1377.3 884.5 1378.5 885.8C1379.8 887 1372.8 895.3 1371 895.8C1369.3 896.3 1362.3 892 1361 890.8C1359.8 889.5 1356.8 883.8 1358.5 883.3Z" class="dsh"/>
<path d="M1483.3 713.4C1483.3 714.2 1482.5 716.6 1482 717.3C1481.5 718 1479.3 719.9 1478.4 720.4C1477.6 720.9 1474.3 722 1473.2 722.1C1472.1 722.3 1468.5 722.3 1467.4 722.1C1466.4 722 1463.1 720.9 1462.2 720.4C1461.4 719.9 1459.1 718 1458.6 717.3C1458.2 716.6 1457.4 714.2 1457.4 713.4C1457.4 712.6 1458.2 710.2 1458.6 709.5C1459.1 708.8 1461.4 706.8 1462.2 706.3C1463.1 705.9 1466.4 704.8 1467.4 704.6C1468.5 704.4 1472.1 704.4 1473.2 704.6C1474.3 704.8 1477.6 705.9 1478.4 706.3C1479.3 706.8 1481.5 708.8 1482 709.5C1482.5 710.2 1483.3 712.6 1483.3 713.4Z" class="dsh"/>
<path d="M1510.3 718.4C1509.5 716 1517.8 702.9 1520.3 700.9C1522.8 698.9 1532.3 697.9 1535.3 698.4C1538.3 698.9 1548 703.9 1550.2 705.9C1552.5 707.9 1558 716 1557.7 718.4C1557.5 720.7 1550.7 729 1547.8 729.6C1544.8 730.2 1531.5 725.7 1527.8 724.6C1524 723.5 1511 720.7 1510.3 718.4Z" class="dsh"/>
<path d="M1405.4 923.2C1403.9 920.5 1406.7 902.5 1407.9 898.3C1409.2 894 1415.2 883 1417.9 880.8C1420.6 878.5 1431.9 875.8 1435.4 875.8C1438.9 875.8 1450.4 879.3 1452.9 880.8C1455.4 882.3 1460.4 888.5 1460.4 890.8C1460.4 893 1454.9 901 1452.9 903.3C1450.9 905.5 1443.4 911 1440.4 913.2C1437.4 915.5 1426.4 924.7 1422.9 925.7C1419.4 926.7 1406.9 926 1405.4 923.2Z" class="dsh"/>
<path d="M1505.5 882C1505.5 882.9 1504.8 885.8 1504.4 886.6C1504 887.4 1502 889.7 1501.2 890.2C1500.4 890.8 1497.6 892.1 1496.6 892.3C1495.6 892.5 1492.5 892.5 1491.5 892.3C1490.5 892.1 1487.7 890.8 1486.9 890.2C1486.1 889.7 1484.1 887.4 1483.7 886.6C1483.3 885.8 1482.6 882.9 1482.6 882C1482.6 881.1 1483.3 878.3 1483.7 877.5C1484.1 876.7 1486.1 874.4 1486.9 873.8C1487.7 873.3 1490.5 872 1491.5 871.8C1492.5 871.6 1495.6 871.6 1496.6 871.8C1497.6 872 1500.4 873.3 1501.2 873.8C1502 874.4 1504 876.7 1504.4 877.5C1504.8 878.3 1505.5 881.1 1505.5 882Z" class="dsh"/>
<path d="M1630.2 900.8C1630.1 899.3 1635.1 893.3 1636.4 893.3C1637.7 893.3 1643.1 899.3 1643.1 900.8C1643.2 902.3 1638.4 908.3 1637.2 908.3C1635.9 908.3 1630.2 902.3 1630.2 900.8Z" class="dsh"/>
<path d="M1358 888.3C1358 886.8 1368.2 883 1370.5 883.3C1372.7 883.5 1380.4 889.3 1380.4 890.8C1380.4 892.3 1372.7 898.5 1370.5 898.3C1368.2 898 1358 889.8 1358 888.3Z" class="dsh"/>
<path d="M1071.4 850.8C1071.9 852.8 1075.1 867.6 1076.4 870.8C1077.6 874 1082.1 881.8 1083.8 883.3C1085.6 884.8 1092.1 887 1093.8 885.8C1095.6 884.5 1100.3 874 1101.3 870.8C1102.3 867.6 1103.6 855.1 1103.8 853.3" class="dsh"/>
<path d="M1223.7 829.6L1223.7 842.1" class="dsh"/>
<path d="M1032.4 812.3C1033.7 812.5 1042.4 814.5 1044.9 814.8C1047.4 815.1 1056.1 815.2 1057.4 815.3" class="dsh"/>
<path d="M1029.9 789.8C1030.4 790.8 1034.7 798 1034.9 799.8C1035.2 801.5 1032.7 806.5 1032.4 807.3" class="dsh"/>
<path d="M1063.9 822.1L1078.9 823.4" class="dsh"/>
<path d="M964.3 692.2H1741.9" class="gh"/><path d="M964.3 770.8H1741.9M964.3 849.4H1741.9" class="gq"/><path d="M1093.9 613.7V927.9M1223.5 613.7V927.9M1353.1 613.7V927.9M1482.7 613.7V927.9M1612.3 613.7V927.9" class="gv"/>
</g>
<rect x="964.3" y="613.7" width="777.6" height="314.2" fill="none" stroke="#000" stroke-width="6.2"/>
<path d="M952.8 613.7H964.3M952.8 692.2H964.3M952.8 770.8H964.3M952.8 849.4H964.3M952.8 927.9H964.3M964.3 927.9V939.4M1093.9 927.9V939.4M1223.5 927.9V939.4M1353.1 927.9V939.4M1482.7 927.9V939.4M1612.3 927.9V939.4M1741.9 927.9V939.4" stroke="#000" stroke-width="2.2" fill="none"/>
<text transform="translate(0 626.6) scale(0.875 1)" font-size="35"><tspan x="1019.8 1039.2 1058.2" y="0">75N</tspan></text>
<text transform="translate(0 705.1) scale(0.875 1)" font-size="35"><tspan x="1019.1 1039.2 1058.2" y="0">60N</tspan></text>
<text transform="translate(0 783.7) scale(0.875 1)" font-size="35"><tspan x="1018.5 1039.2 1058.2" y="0">45N</tspan></text>
<text transform="translate(0 862.2) scale(0.875 1)" font-size="35"><tspan x="1019.3 1039.2 1058.2" y="0">30N</tspan></text>
<text transform="translate(0 940.8) scale(0.875 1)" font-size="35"><tspan x="1019.5 1039.2 1058.2" y="0">15N</tspan></text>
<text transform="translate(0 967.4) scale(0.875 1)" font-size="35"><tspan x="1091.6" y="0">0</tspan></text>
<text transform="translate(0 967.4) scale(0.875 1)" font-size="35"><tspan x="1220.5 1241 1258.7" y="0">30E</tspan></text>
<text transform="translate(0 967.4) scale(0.875 1)" font-size="35"><tspan x="1369.5 1390.1 1406.9" y="0">60E</tspan></text>
<text transform="translate(0 967.4) scale(0.875 1)" font-size="35"><tspan x="1517.6 1538.1 1555" y="0">90E</tspan></text>
<text transform="translate(0 967.4) scale(0.875 1)" font-size="35"><tspan x="1652.2 1675.4 1695.9 1713.6" y="0">120E</tspan></text>
<text transform="translate(0 967.4) scale(0.875 1)" font-size="35"><tspan x="1800.8 1823.8 1844.5 1861.8" y="0">150E</tspan></text>
<text transform="translate(0 967.4) scale(0.875 1)" font-size="35"><tspan x="1959.6 1981.8 2001.6" y="0">180</tspan></text>
<text transform="translate(0 31.9) scale(1.0 1)" font-size="35.3"><tspan x="75.2 90.7 114.4 128.2 145.9 170.8" y="0">(a) C1</tspan></text><text transform="translate(214.4 39.1) skewX(-16.1) scale(1 1.4)" font-size="35.3">/</text><text transform="translate(0 31.9) scale(1.0 1)" font-size="35.3"><tspan x="258.4 280.5 302.4" y="0">200</tspan><tspan x="323.2" y="-2.6" textLength="29.9" lengthAdjust="spacingAndGlyphs">-</tspan><tspan x="353.1 373 397.8 420.6 437.2 461.8 484.7" y="0">hPa GPH</tspan></text>
<text transform="translate(0 592.5) scale(1.0 1)" font-size="35.3"><tspan x="75.2 90.7 114.4 128.2 145.9 170.8" y="0">(b) C1</tspan></text><text transform="translate(214.4 599.7) skewX(-16.1) scale(1 1.4)" font-size="35.3">/</text><text transform="translate(0 592.5) scale(1.0 1)" font-size="35.3"><tspan x="258.4 280.5 302.4" y="0">200</tspan><tspan x="323.2" y="-2.6" textLength="29.9" lengthAdjust="spacingAndGlyphs">-</tspan><tspan x="353.1 373 397.8 420.6 439.3 458.9 471.9 485.9 505.3 527.8 559.8 581.5 594.4 614.7 635.5 646.7 666.5 688.4 709.7 730.8 746.2 773.8 795.8" y="0">hPa stream fun. and WAF</tspan></text>
<text transform="translate(0 31.9) scale(1.0 1)" font-size="35.3"><tspan x="964.9 980.6 1002.4 1016.2 1034.2 1058.9" y="0">(c) C1</tspan></text><text transform="translate(1102.4 39.1) skewX(-16.6) scale(1 1.4)" font-size="35.3">/</text><text transform="translate(0 31.9) scale(1.0 1)" font-size="35.3"><tspan x="1146.7" y="0">2</tspan><tspan x="1167.5" y="-2.6" textLength="29.5" lengthAdjust="spacingAndGlyphs">-</tspan><tspan x="1198.2 1230.4 1250 1271.6 1281.1 1297.4 1316.8 1328.1 1349.6 1381 1402.2 1423.5 1437.1 1459.1 1471.3 1492.6 1506.9" y="0">m air temperature</tspan></text>
<text transform="translate(0 592.5) scale(1.0 1)" font-size="35.3"><tspan x="964.9 980.6 1002.6 1016.5 1035 1059.5" y="0">(d) C1</tspan></text><text transform="translate(1103.2 599.7) skewX(-17) scale(1 1.4)" font-size="35.3">/</text><text transform="translate(0 592.5) scale(1.0 1)" font-size="35.3"><tspan x="1144.1 1168.8 1187.3" y="0">OLR</tspan></text>
<path d="M83.5 445.8L152.3 430.6L775 430.6L844.5 445.8L775 460.8L152.3 460.8Z" fill="#000"/>
<rect x="157.5" y="437" width="62.4" height="17.4" fill="#2882F0"/>
<rect x="226.2" y="437" width="62.4" height="17.4" fill="#50A5F5"/>
<rect x="295" y="437" width="62.4" height="17.4" fill="#96D2FA"/>
<rect x="363.8" y="437" width="62.4" height="17.4" fill="#E1FFFF"/>
<rect x="432.5" y="437" width="62.4" height="17.4" fill="#FFFFFF"/>
<rect x="501.2" y="437" width="62.4" height="17.4" fill="#FFFAAA"/>
<rect x="570" y="437" width="62.4" height="17.4" fill="#FFC03C"/>
<rect x="638.8" y="437" width="62.4" height="17.4" fill="#FF6000"/>
<rect x="707.5" y="437" width="62.4" height="17.4" fill="#E11400"/>
<path d="M151.1 438L151.1 453.4L100 445.8Z" fill="#1464D2"/>
<path d="M776.2 438L776.2 453.4L828 445.8Z" fill="#A50000"/>
<text transform="translate(0 480.6) scale(1.11 1)" font-size="25.9"><tspan x="113.1" y="-1.9" textLength="22.2" lengthAdjust="spacingAndGlyphs">-</tspan><tspan x="134.3 149.4" y="0">50</tspan></text>
<text transform="translate(0 480.6) scale(1.11 1)" font-size="25.9"><tspan x="175.1" y="-1.9" textLength="22.2" lengthAdjust="spacingAndGlyphs">-</tspan><tspan x="196.4 211.3" y="0">40</tspan></text>
<text transform="translate(0 480.6) scale(1.11 1)" font-size="25.9"><tspan x="237" y="-1.9" textLength="22.2" lengthAdjust="spacingAndGlyphs">-</tspan><tspan x="258.3 273.2" y="0">30</tspan></text>
<text transform="translate(0 480.6) scale(1.11 1)" font-size="25.9"><tspan x="299" y="-1.9" textLength="22.2" lengthAdjust="spacingAndGlyphs">-</tspan><tspan x="320.2 335.2" y="0">20</tspan></text>
<text transform="translate(0 480.6) scale(1.11 1)" font-size="25.9"><tspan x="360.9" y="-1.9" textLength="22.2" lengthAdjust="spacingAndGlyphs">-</tspan><tspan x="381.7 397.1" y="0">10</tspan></text>
<text transform="translate(0 480.6) scale(1.11 1)" font-size="25.9"><tspan x="433.9 449.3" y="0">10</tspan></text>
<text transform="translate(0 480.6) scale(1.11 1)" font-size="25.9"><tspan x="496.2 511.2" y="0">20</tspan></text>
<text transform="translate(0 480.6) scale(1.11 1)" font-size="25.9"><tspan x="558.2 573.1" y="0">30</tspan></text>
<text transform="translate(0 480.6) scale(1.11 1)" font-size="25.9"><tspan x="620.1 635.1" y="0">40</tspan></text>
<text transform="translate(0 480.6) scale(1.11 1)" font-size="25.9"><tspan x="682 697" y="0">50</tspan></text>
<path d="M83.5 1006.4L152.3 991.2L775 991.2L844.5 1006.4L775 1021.4L152.3 1021.4Z" fill="#000"/>
<rect x="157.5" y="997.6" width="62.4" height="17.4" fill="#2882F0"/>
<rect x="226.2" y="997.6" width="62.4" height="17.4" fill="#50A5F5"/>
<rect x="295" y="997.6" width="62.4" height="17.4" fill="#96D2FA"/>
<rect x="363.8" y="997.6" width="62.4" height="17.4" fill="#E1FFFF"/>
<rect x="432.5" y="997.6" width="62.4" height="17.4" fill="#FFFFFF"/>
<rect x="501.2" y="997.6" width="62.4" height="17.4" fill="#FFFAAA"/>
<rect x="570" y="997.6" width="62.4" height="17.4" fill="#FFC03C"/>
<rect x="638.8" y="997.6" width="62.4" height="17.4" fill="#FF6000"/>
<rect x="707.5" y="997.6" width="62.4" height="17.4" fill="#E11400"/>
<path d="M151.1 998.6L151.1 1014L100 1006.4Z" fill="#1464D2"/>
<path d="M776.2 998.6L776.2 1014L828 1006.4Z" fill="#A50000"/>
<text transform="translate(0 1041.2) scale(1.11 1)" font-size="25.9"><tspan x="113.1" y="-1.9" textLength="22.2" lengthAdjust="spacingAndGlyphs">-</tspan><tspan x="134.3 149.4" y="0">50</tspan></text>
<text transform="translate(0 1041.2) scale(1.11 1)" font-size="25.9"><tspan x="175.1" y="-1.9" textLength="22.2" lengthAdjust="spacingAndGlyphs">-</tspan><tspan x="196.4 211.3" y="0">40</tspan></text>
<text transform="translate(0 1041.2) scale(1.11 1)" font-size="25.9"><tspan x="237" y="-1.9" textLength="22.2" lengthAdjust="spacingAndGlyphs">-</tspan><tspan x="258.3 273.2" y="0">30</tspan></text>
<text transform="translate(0 1041.2) scale(1.11 1)" font-size="25.9"><tspan x="299" y="-1.9" textLength="22.2" lengthAdjust="spacingAndGlyphs">-</tspan><tspan x="320.2 335.2" y="0">20</tspan></text>
<text transform="translate(0 1041.2) scale(1.11 1)" font-size="25.9"><tspan x="360.9" y="-1.9" textLength="22.2" lengthAdjust="spacingAndGlyphs">-</tspan><tspan x="381.7 397.1" y="0">10</tspan></text>
<text transform="translate(0 1041.2) scale(1.11 1)" font-size="25.9"><tspan x="433.9 449.3" y="0">10</tspan></text>
<text transform="translate(0 1041.2) scale(1.11 1)" font-size="25.9"><tspan x="496.2 511.2" y="0">20</tspan></text>
<text transform="translate(0 1041.2) scale(1.11 1)" font-size="25.9"><tspan x="558.2 573.1" y="0">30</tspan></text>
<text transform="translate(0 1041.2) scale(1.11 1)" font-size="25.9"><tspan x="620.1 635.1" y="0">40</tspan></text>
<text transform="translate(0 1041.2) scale(1.11 1)" font-size="25.9"><tspan x="682 697" y="0">50</tspan></text>
<path d="M972.6 445.8L1041.4 430.6L1664.1 430.6L1733.6 445.8L1664.1 460.8L1041.4 460.8Z" fill="#000"/>
<rect x="1046.6" y="437" width="62.4" height="17.4" fill="#2882F0"/>
<rect x="1115.3" y="437" width="62.4" height="17.4" fill="#50A5F5"/>
<rect x="1184.1" y="437" width="62.4" height="17.4" fill="#96D2FA"/>
<rect x="1252.8" y="437" width="62.4" height="17.4" fill="#E1FFFF"/>
<rect x="1321.6" y="437" width="62.4" height="17.4" fill="#FFFFFF"/>
<rect x="1390.3" y="437" width="62.4" height="17.4" fill="#FFFAAA"/>
<rect x="1459.1" y="437" width="62.4" height="17.4" fill="#FFC03C"/>
<rect x="1527.8" y="437" width="62.4" height="17.4" fill="#FF6000"/>
<rect x="1596.6" y="437" width="62.4" height="17.4" fill="#E11400"/>
<path d="M1040.2 438L1040.2 453.4L989.1 445.8Z" fill="#1464D2"/>
<path d="M1665.3 438L1665.3 453.4L1717.1 445.8Z" fill="#A50000"/>
<text transform="translate(0 480.6) scale(1.11 1)" font-size="25.9"><tspan x="910.4" y="-1.9" textLength="22.2" lengthAdjust="spacingAndGlyphs">-</tspan><tspan x="931.2 946.4 954.1" y="0">1.5</tspan></text>
<text transform="translate(0 480.6) scale(1.11 1)" font-size="25.9"><tspan x="972.3" y="-1.9" textLength="22.2" lengthAdjust="spacingAndGlyphs">-</tspan><tspan x="993.2 1008.4 1016.1" y="0">1.2</tspan></text>
<text transform="translate(0 480.6) scale(1.11 1)" font-size="25.9"><tspan x="1034.2" y="-1.9" textLength="22.2" lengthAdjust="spacingAndGlyphs">-</tspan><tspan x="1055.4 1070.3 1078" y="0">0.9</tspan></text>
<text transform="translate(0 480.6) scale(1.11 1)" font-size="25.9"><tspan x="1096.2" y="-1.9" textLength="22.2" lengthAdjust="spacingAndGlyphs">-</tspan><tspan x="1117.4 1132.2 1139.9" y="0">0.6</tspan></text>
<text transform="translate(0 480.6) scale(1.11 1)" font-size="25.9"><tspan x="1158.1" y="-1.9" textLength="22.2" lengthAdjust="spacingAndGlyphs">-</tspan><tspan x="1179.3 1194.2 1202" y="0">0.3</tspan></text>
<text transform="translate(0 480.6) scale(1.11 1)" font-size="25.9"><tspan x="1231.5 1246.3 1254.1" y="0">0.3</tspan></text>
<text transform="translate(0 480.6) scale(1.11 1)" font-size="25.9"><tspan x="1293.4 1308.3 1315.9" y="0">0.6</tspan></text>
<text transform="translate(0 480.6) scale(1.11 1)" font-size="25.9"><tspan x="1355.3 1370.2 1377.9" y="0">0.9</tspan></text>
<text transform="translate(0 480.6) scale(1.11 1)" font-size="25.9"><tspan x="1416.9 1432.1 1439.9" y="0">1.2</tspan></text>
<text transform="translate(0 480.6) scale(1.11 1)" font-size="25.9"><tspan x="1478.9 1494.1 1501.8" y="0">1.5</tspan></text>
<path d="M972.6 1006.4L1041.4 991.2L1664.1 991.2L1733.6 1006.4L1664.1 1021.4L1041.4 1021.4Z" fill="#000"/>
<rect x="1046.6" y="997.6" width="62.4" height="17.4" fill="#2882F0"/>
<rect x="1115.3" y="997.6" width="62.4" height="17.4" fill="#50A5F5"/>
<rect x="1184.1" y="997.6" width="62.4" height="17.4" fill="#96D2FA"/>
<rect x="1252.8" y="997.6" width="62.4" height="17.4" fill="#E1FFFF"/>
<rect x="1321.6" y="997.6" width="62.4" height="17.4" fill="#FFFFFF"/>
<rect x="1390.3" y="997.6" width="62.4" height="17.4" fill="#FFFAAA"/>
<rect x="1459.1" y="997.6" width="62.4" height="17.4" fill="#FFC03C"/>
<rect x="1527.8" y="997.6" width="62.4" height="17.4" fill="#FF6000"/>
<rect x="1596.6" y="997.6" width="62.4" height="17.4" fill="#E11400"/>
<path d="M1040.2 998.6L1040.2 1014L989.1 1006.4Z" fill="#1464D2"/>
<path d="M1665.3 998.6L1665.3 1014L1717.1 1006.4Z" fill="#A50000"/>
<text transform="translate(0 1041.2) scale(1.11 1)" font-size="25.9"><tspan x="914.1" y="-1.9" textLength="22.2" lengthAdjust="spacingAndGlyphs">-</tspan><tspan x="935 950.4" y="0">10</tspan></text>
<text transform="translate(0 1041.2) scale(1.11 1)" font-size="25.9"><tspan x="983.6" y="-1.9" textLength="22.2" lengthAdjust="spacingAndGlyphs">-</tspan><tspan x="1004.8" y="0">8</tspan></text>
<text transform="translate(0 1041.2) scale(1.11 1)" font-size="25.9"><tspan x="1045.5" y="-1.9" textLength="22.2" lengthAdjust="spacingAndGlyphs">-</tspan><tspan x="1066.6" y="0">6</tspan></text>
<text transform="translate(0 1041.2) scale(1.11 1)" font-size="25.9"><tspan x="1107.5" y="-1.9" textLength="22.2" lengthAdjust="spacingAndGlyphs">-</tspan><tspan x="1128.7" y="0">4</tspan></text>
<text transform="translate(0 1041.2) scale(1.11 1)" font-size="25.9"><tspan x="1169.4" y="-1.9" textLength="22.2" lengthAdjust="spacingAndGlyphs">-</tspan><tspan x="1190.6" y="0">2</tspan></text>
<text transform="translate(0 1041.2) scale(1.11 1)" font-size="25.9"><tspan x="1242.8" y="0">2</tspan></text>
<text transform="translate(0 1041.2) scale(1.11 1)" font-size="25.9"><tspan x="1304.8" y="0">4</tspan></text>
<text transform="translate(0 1041.2) scale(1.11 1)" font-size="25.9"><tspan x="1366.5" y="0">6</tspan></text>
<text transform="translate(0 1041.2) scale(1.11 1)" font-size="25.9"><tspan x="1428.6" y="0">8</tspan></text>
<text transform="translate(0 1041.2) scale(1.11 1)" font-size="25.9"><tspan x="1482.6 1498" y="0">10</tspan></text>
</svg>
</body>
</html>
